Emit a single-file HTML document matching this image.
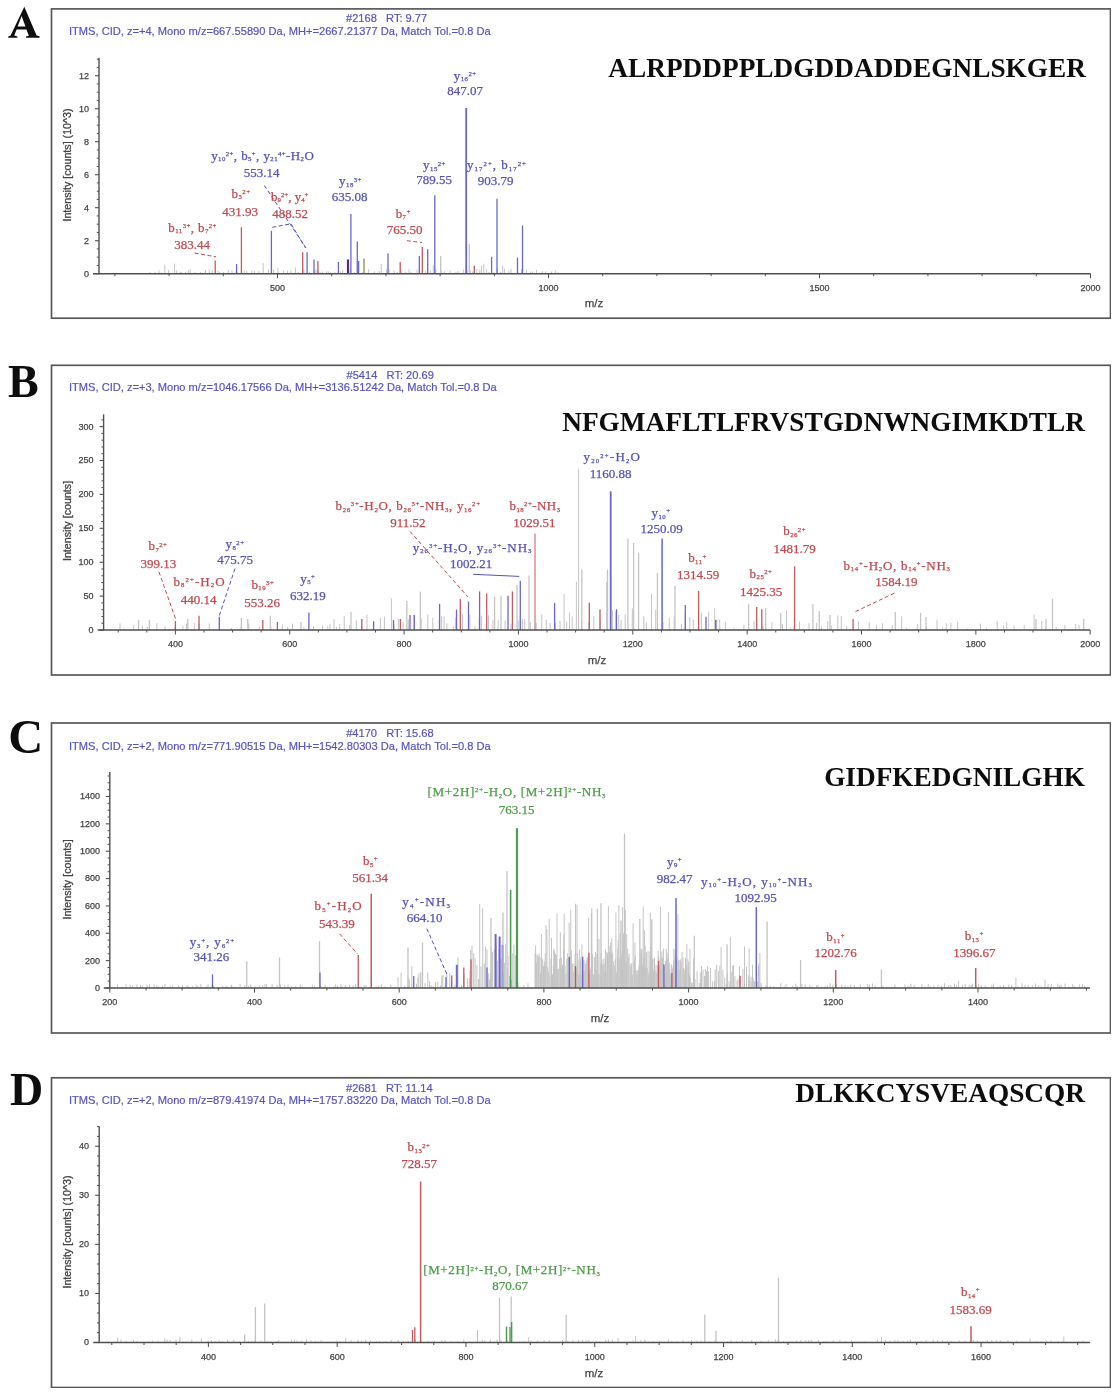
<!DOCTYPE html>
<html><head><meta charset="utf-8"><title>MS/MS spectra</title>
<style>html,body{margin:0;padding:0;background:#fff;} svg{display:block;}</style></head>
<body><svg width="1120" height="1400" viewBox="0 0 1120 1400">
<defs><filter id="soft" x="0" y="0" width="100%" height="100%"><feGaussianBlur stdDeviation="0.6"/></filter></defs>
<rect width="1120" height="1400" fill="#fff"/>
<g filter="url(#soft)">
<rect x="51.5" y="8.9" width="1059.0" height="309.3" fill="none" stroke="#585858" stroke-width="1.7"/>
<path fill="#111" fill-rule="evenodd" d="M24.3 6.7 L36.6 35.6 L39.6 36.3 L39.6 37.8 L26.0 37.8 L26.0 36.4 L28.8 35.7 L26.5 29.4 L16.6 29.4 L14.3 35.6 L17.4 36.4 L17.4 37.8 L8.2 37.8 L8.2 36.4 L10.6 35.6 Z M21.6 16.0 L25.47 26.6 L17.66 26.6 Z"/>
<text x="346" y="22.3" font-family="Liberation Sans" font-size="11.1" fill="#5753c0" stroke="#5753c0" stroke-width="0.2" xml:space="preserve">#2168   RT: 9.77</text>
<text x="69" y="35.4" font-family="Liberation Sans" font-size="11.1" fill="#5753c0" stroke="#5753c0" stroke-width="0.2">ITMS, CID, z=+4, Mono m/z=667.55890 Da, MH+=2667.21377 Da, Match Tol.=0.8 Da</text>
<text x="1086" y="76.7" font-family="Liberation Serif" font-weight="bold" font-size="27.3" fill="#111" text-anchor="end">ALRPDDPPLDGDDADDEGNLSKGER</text>
<line x1="150.00" y1="273.70" x2="150.00" y2="272.16" stroke="#c4c4c4" stroke-width="1"/>
<line x1="155.20" y1="273.70" x2="155.20" y2="271.68" stroke="#c4c4c4" stroke-width="1"/>
<line x1="159.00" y1="273.70" x2="159.00" y2="270.09" stroke="#c4c4c4" stroke-width="1"/>
<line x1="161.10" y1="273.70" x2="161.10" y2="272.59" stroke="#c4c4c4" stroke-width="1"/>
<line x1="164.80" y1="273.70" x2="164.80" y2="264.79" stroke="#c4c4c4" stroke-width="1"/>
<line x1="168.60" y1="273.70" x2="168.60" y2="269.81" stroke="#c4c4c4" stroke-width="1"/>
<line x1="174.60" y1="273.70" x2="174.60" y2="263.57" stroke="#c4c4c4" stroke-width="1"/>
<line x1="176.40" y1="273.70" x2="176.40" y2="270.53" stroke="#c4c4c4" stroke-width="1"/>
<line x1="179.90" y1="273.70" x2="179.90" y2="271.83" stroke="#c4c4c4" stroke-width="1"/>
<line x1="181.70" y1="273.70" x2="181.70" y2="271.81" stroke="#c4c4c4" stroke-width="1"/>
<line x1="185.70" y1="273.70" x2="185.70" y2="271.77" stroke="#c4c4c4" stroke-width="1"/>
<line x1="188.40" y1="273.70" x2="188.40" y2="270.86" stroke="#c4c4c4" stroke-width="1"/>
<line x1="190.20" y1="273.70" x2="190.20" y2="269.35" stroke="#c4c4c4" stroke-width="1"/>
<line x1="194.90" y1="273.70" x2="194.90" y2="271.96" stroke="#c4c4c4" stroke-width="1"/>
<line x1="200.50" y1="273.70" x2="200.50" y2="272.22" stroke="#c4c4c4" stroke-width="1"/>
<line x1="205.50" y1="273.70" x2="205.50" y2="269.86" stroke="#c4c4c4" stroke-width="1"/>
<line x1="209.20" y1="273.70" x2="209.20" y2="269.38" stroke="#c4c4c4" stroke-width="1"/>
<line x1="212.30" y1="273.70" x2="212.30" y2="270.35" stroke="#c4c4c4" stroke-width="1"/>
<line x1="217.90" y1="273.70" x2="217.90" y2="270.68" stroke="#c4c4c4" stroke-width="1"/>
<line x1="219.70" y1="273.70" x2="219.70" y2="271.73" stroke="#c4c4c4" stroke-width="1"/>
<line x1="223.40" y1="273.70" x2="223.40" y2="272.01" stroke="#c4c4c4" stroke-width="1"/>
<line x1="228.30" y1="273.70" x2="228.30" y2="270.00" stroke="#c4c4c4" stroke-width="1"/>
<line x1="232.00" y1="273.70" x2="232.00" y2="270.67" stroke="#c4c4c4" stroke-width="1"/>
<line x1="236.10" y1="273.70" x2="236.10" y2="271.13" stroke="#c4c4c4" stroke-width="1"/>
<line x1="238.00" y1="273.70" x2="238.00" y2="272.53" stroke="#c4c4c4" stroke-width="1"/>
<line x1="244.20" y1="273.70" x2="244.20" y2="270.33" stroke="#c4c4c4" stroke-width="1"/>
<line x1="246.70" y1="273.70" x2="246.70" y2="270.69" stroke="#c4c4c4" stroke-width="1"/>
<line x1="251.90" y1="273.70" x2="251.90" y2="270.54" stroke="#c4c4c4" stroke-width="1"/>
<line x1="254.70" y1="273.70" x2="254.70" y2="270.64" stroke="#c4c4c4" stroke-width="1"/>
<line x1="259.00" y1="273.70" x2="259.00" y2="270.86" stroke="#c4c4c4" stroke-width="1"/>
<line x1="263.20" y1="273.70" x2="263.20" y2="263.08" stroke="#c4c4c4" stroke-width="1"/>
<line x1="268.50" y1="273.70" x2="268.50" y2="269.42" stroke="#c4c4c4" stroke-width="1"/>
<line x1="273.60" y1="273.70" x2="273.60" y2="269.46" stroke="#c4c4c4" stroke-width="1"/>
<line x1="277.90" y1="273.70" x2="277.90" y2="267.75" stroke="#c4c4c4" stroke-width="1"/>
<line x1="283.60" y1="273.70" x2="283.60" y2="270.42" stroke="#c4c4c4" stroke-width="1"/>
<line x1="287.60" y1="273.70" x2="287.60" y2="270.76" stroke="#c4c4c4" stroke-width="1"/>
<line x1="290.90" y1="273.70" x2="290.90" y2="270.55" stroke="#c4c4c4" stroke-width="1"/>
<line x1="295.40" y1="273.70" x2="295.40" y2="267.47" stroke="#c4c4c4" stroke-width="1"/>
<line x1="298.20" y1="273.70" x2="298.20" y2="271.99" stroke="#c4c4c4" stroke-width="1"/>
<line x1="303.90" y1="273.70" x2="303.90" y2="269.51" stroke="#c4c4c4" stroke-width="1"/>
<line x1="309.30" y1="273.70" x2="309.30" y2="271.68" stroke="#c4c4c4" stroke-width="1"/>
<line x1="314.10" y1="273.70" x2="314.10" y2="270.77" stroke="#c4c4c4" stroke-width="1"/>
<line x1="315.90" y1="273.70" x2="315.90" y2="269.68" stroke="#c4c4c4" stroke-width="1"/>
<line x1="318.10" y1="273.70" x2="318.10" y2="270.20" stroke="#c4c4c4" stroke-width="1"/>
<line x1="320.10" y1="273.70" x2="320.10" y2="272.06" stroke="#c4c4c4" stroke-width="1"/>
<line x1="322.60" y1="273.70" x2="322.60" y2="271.61" stroke="#c4c4c4" stroke-width="1"/>
<line x1="326.40" y1="273.70" x2="326.40" y2="271.41" stroke="#c4c4c4" stroke-width="1"/>
<line x1="328.20" y1="273.70" x2="328.20" y2="271.15" stroke="#c4c4c4" stroke-width="1"/>
<line x1="330.80" y1="273.70" x2="330.80" y2="272.26" stroke="#c4c4c4" stroke-width="1"/>
<line x1="334.80" y1="273.70" x2="334.80" y2="271.86" stroke="#c4c4c4" stroke-width="1"/>
<line x1="340.30" y1="273.70" x2="340.30" y2="271.32" stroke="#c4c4c4" stroke-width="1"/>
<line x1="342.70" y1="273.70" x2="342.70" y2="269.82" stroke="#c4c4c4" stroke-width="1"/>
<line x1="347.60" y1="273.70" x2="347.60" y2="269.99" stroke="#c4c4c4" stroke-width="1"/>
<line x1="350.30" y1="273.70" x2="350.30" y2="268.80" stroke="#c4c4c4" stroke-width="1"/>
<line x1="354.40" y1="273.70" x2="354.40" y2="271.81" stroke="#c4c4c4" stroke-width="1"/>
<line x1="357.90" y1="273.70" x2="357.90" y2="270.40" stroke="#c4c4c4" stroke-width="1"/>
<line x1="362.50" y1="273.70" x2="362.50" y2="272.46" stroke="#c4c4c4" stroke-width="1"/>
<line x1="368.70" y1="273.70" x2="368.70" y2="269.20" stroke="#c4c4c4" stroke-width="1"/>
<line x1="374.30" y1="273.70" x2="374.30" y2="271.46" stroke="#c4c4c4" stroke-width="1"/>
<line x1="379.40" y1="273.70" x2="379.40" y2="271.04" stroke="#c4c4c4" stroke-width="1"/>
<line x1="381.20" y1="273.70" x2="381.20" y2="263.77" stroke="#c4c4c4" stroke-width="1"/>
<line x1="386.60" y1="273.70" x2="386.60" y2="268.85" stroke="#c4c4c4" stroke-width="1"/>
<line x1="389.10" y1="273.70" x2="389.10" y2="269.23" stroke="#c4c4c4" stroke-width="1"/>
<line x1="394.10" y1="273.70" x2="394.10" y2="270.66" stroke="#c4c4c4" stroke-width="1"/>
<line x1="397.40" y1="273.70" x2="397.40" y2="271.88" stroke="#c4c4c4" stroke-width="1"/>
<line x1="401.10" y1="273.70" x2="401.10" y2="269.79" stroke="#c4c4c4" stroke-width="1"/>
<line x1="405.80" y1="273.70" x2="405.80" y2="271.52" stroke="#c4c4c4" stroke-width="1"/>
<line x1="409.00" y1="273.70" x2="409.00" y2="269.21" stroke="#c4c4c4" stroke-width="1"/>
<line x1="410.80" y1="273.70" x2="410.80" y2="271.90" stroke="#c4c4c4" stroke-width="1"/>
<line x1="417.00" y1="273.70" x2="417.00" y2="269.57" stroke="#c4c4c4" stroke-width="1"/>
<line x1="419.70" y1="273.70" x2="419.70" y2="270.00" stroke="#c4c4c4" stroke-width="1"/>
<line x1="425.70" y1="273.70" x2="425.70" y2="271.32" stroke="#c4c4c4" stroke-width="1"/>
<line x1="430.60" y1="273.70" x2="430.60" y2="270.76" stroke="#c4c4c4" stroke-width="1"/>
<line x1="433.30" y1="273.70" x2="433.30" y2="265.12" stroke="#c4c4c4" stroke-width="1"/>
<line x1="435.80" y1="273.70" x2="435.80" y2="269.06" stroke="#c4c4c4" stroke-width="1"/>
<line x1="441.00" y1="273.70" x2="441.00" y2="270.30" stroke="#c4c4c4" stroke-width="1"/>
<line x1="444.40" y1="273.70" x2="444.40" y2="271.34" stroke="#c4c4c4" stroke-width="1"/>
<line x1="450.10" y1="273.70" x2="450.10" y2="270.28" stroke="#c4c4c4" stroke-width="1"/>
<line x1="455.90" y1="273.70" x2="455.90" y2="272.16" stroke="#c4c4c4" stroke-width="1"/>
<line x1="458.10" y1="273.70" x2="458.10" y2="271.16" stroke="#c4c4c4" stroke-width="1"/>
<line x1="463.70" y1="273.70" x2="463.70" y2="269.55" stroke="#c4c4c4" stroke-width="1"/>
<line x1="467.00" y1="273.70" x2="467.00" y2="270.24" stroke="#c4c4c4" stroke-width="1"/>
<line x1="470.40" y1="273.70" x2="470.40" y2="270.42" stroke="#c4c4c4" stroke-width="1"/>
<line x1="472.50" y1="273.70" x2="472.50" y2="271.63" stroke="#c4c4c4" stroke-width="1"/>
<line x1="476.80" y1="273.70" x2="476.80" y2="269.00" stroke="#c4c4c4" stroke-width="1"/>
<line x1="479.80" y1="273.70" x2="479.80" y2="269.55" stroke="#c4c4c4" stroke-width="1"/>
<line x1="481.60" y1="273.70" x2="481.60" y2="265.60" stroke="#c4c4c4" stroke-width="1"/>
<line x1="483.80" y1="273.70" x2="483.80" y2="263.71" stroke="#c4c4c4" stroke-width="1"/>
<line x1="486.60" y1="273.70" x2="486.60" y2="268.75" stroke="#c4c4c4" stroke-width="1"/>
<line x1="488.90" y1="273.70" x2="488.90" y2="272.03" stroke="#c4c4c4" stroke-width="1"/>
<line x1="494.00" y1="273.70" x2="494.00" y2="272.29" stroke="#c4c4c4" stroke-width="1"/>
<line x1="497.40" y1="273.70" x2="497.40" y2="268.82" stroke="#c4c4c4" stroke-width="1"/>
<line x1="500.50" y1="273.70" x2="500.50" y2="271.69" stroke="#c4c4c4" stroke-width="1"/>
<line x1="502.70" y1="273.70" x2="502.70" y2="265.76" stroke="#c4c4c4" stroke-width="1"/>
<line x1="504.40" y1="273.70" x2="504.40" y2="268.77" stroke="#c4c4c4" stroke-width="1"/>
<line x1="508.90" y1="273.70" x2="508.90" y2="270.90" stroke="#c4c4c4" stroke-width="1"/>
<line x1="510.90" y1="273.70" x2="510.90" y2="269.05" stroke="#c4c4c4" stroke-width="1"/>
<line x1="517.00" y1="273.70" x2="517.00" y2="272.25" stroke="#c4c4c4" stroke-width="1"/>
<line x1="521.60" y1="273.70" x2="521.60" y2="268.78" stroke="#c4c4c4" stroke-width="1"/>
<line x1="526.40" y1="273.70" x2="526.40" y2="270.05" stroke="#c4c4c4" stroke-width="1"/>
<line x1="530.60" y1="273.70" x2="530.60" y2="271.47" stroke="#c4c4c4" stroke-width="1"/>
<line x1="532.70" y1="273.70" x2="532.70" y2="271.58" stroke="#c4c4c4" stroke-width="1"/>
<line x1="536.50" y1="273.70" x2="536.50" y2="270.09" stroke="#c4c4c4" stroke-width="1"/>
<line x1="542.50" y1="273.70" x2="542.50" y2="271.14" stroke="#c4c4c4" stroke-width="1"/>
<line x1="545.70" y1="273.70" x2="545.70" y2="271.43" stroke="#c4c4c4" stroke-width="1"/>
<line x1="551.50" y1="273.70" x2="551.50" y2="271.49" stroke="#c4c4c4" stroke-width="1"/>
<line x1="555.70" y1="273.70" x2="555.70" y2="270.38" stroke="#c4c4c4" stroke-width="1"/>
<line x1="558.50" y1="273.70" x2="558.50" y2="272.62" stroke="#c4c4c4" stroke-width="1"/>
<line x1="215.20" y1="273.70" x2="215.20" y2="260.40" stroke="#c25a62" stroke-width="1.3"/>
<line x1="236.60" y1="273.70" x2="236.60" y2="264.00" stroke="#6a66cc" stroke-width="1.3"/>
<line x1="241.40" y1="273.70" x2="241.40" y2="227.30" stroke="#c25a62" stroke-width="1.3"/>
<line x1="271.40" y1="273.70" x2="271.40" y2="230.90" stroke="#6a66cc" stroke-width="1.3"/>
<line x1="302.70" y1="273.70" x2="302.70" y2="252.30" stroke="#c25a62" stroke-width="1.3"/>
<line x1="307.10" y1="273.70" x2="307.10" y2="252.30" stroke="#6a66cc" stroke-width="1.3"/>
<line x1="314.00" y1="273.70" x2="314.00" y2="259.50" stroke="#6a66cc" stroke-width="1.3"/>
<line x1="317.90" y1="273.70" x2="317.90" y2="261.00" stroke="#c25a62" stroke-width="1.3"/>
<line x1="338.40" y1="273.70" x2="338.40" y2="262.00" stroke="#6a66cc" stroke-width="1.3"/>
<line x1="348.00" y1="273.70" x2="348.00" y2="259.50" stroke="#5a2a7a" stroke-width="2.2"/>
<line x1="350.90" y1="273.70" x2="350.90" y2="213.90" stroke="#6a66cc" stroke-width="1.3"/>
<line x1="357.30" y1="273.70" x2="357.30" y2="241.60" stroke="#6a66cc" stroke-width="1.3"/>
<line x1="358.60" y1="273.70" x2="358.60" y2="261.00" stroke="#6a66cc" stroke-width="1.3"/>
<line x1="364.00" y1="273.70" x2="364.00" y2="258.60" stroke="#8a8a50" stroke-width="1.3"/>
<line x1="388.00" y1="273.70" x2="388.00" y2="253.20" stroke="#6a66cc" stroke-width="1.3"/>
<line x1="400.20" y1="273.70" x2="400.20" y2="262.00" stroke="#c25a62" stroke-width="1.3"/>
<line x1="419.30" y1="273.70" x2="419.30" y2="255.90" stroke="#6a66cc" stroke-width="1.3"/>
<line x1="422.30" y1="273.70" x2="422.30" y2="247.00" stroke="#c25a62" stroke-width="1.3"/>
<line x1="427.70" y1="273.70" x2="427.70" y2="249.30" stroke="#6a66cc" stroke-width="1.3"/>
<line x1="434.80" y1="273.70" x2="434.80" y2="195.20" stroke="#6a66cc" stroke-width="1.3"/>
<line x1="440.70" y1="273.70" x2="440.70" y2="256.00" stroke="#c4c4c4" stroke-width="1.3"/>
<line x1="466.20" y1="273.70" x2="466.20" y2="108.00" stroke="#6a66cc" stroke-width="1.8"/>
<line x1="469.30" y1="273.70" x2="469.30" y2="244.00" stroke="#c4c4c4" stroke-width="1.3"/>
<line x1="474.30" y1="273.70" x2="474.30" y2="265.70" stroke="#a06050" stroke-width="1.3"/>
<line x1="491.60" y1="273.70" x2="491.60" y2="256.80" stroke="#6a66cc" stroke-width="1.3"/>
<line x1="497.00" y1="273.70" x2="497.00" y2="198.75" stroke="#6a66cc" stroke-width="1.3"/>
<line x1="517.50" y1="273.70" x2="517.50" y2="257.70" stroke="#6a66cc" stroke-width="1.3"/>
<line x1="522.50" y1="273.70" x2="522.50" y2="225.50" stroke="#6a66cc" stroke-width="1.3"/>
<line x1="99.00" y1="57.70" x2="99.00" y2="274.20" stroke="#505050" stroke-width="1.4"/>
<line x1="95.00" y1="273.70" x2="99.00" y2="273.70" stroke="#505050" stroke-width="1.1"/>
<line x1="96.80" y1="265.45" x2="99.00" y2="265.45" stroke="#505050" stroke-width="1"/>
<line x1="96.80" y1="257.20" x2="99.00" y2="257.20" stroke="#505050" stroke-width="1"/>
<line x1="96.80" y1="248.95" x2="99.00" y2="248.95" stroke="#505050" stroke-width="1"/>
<line x1="95.00" y1="240.70" x2="99.00" y2="240.70" stroke="#505050" stroke-width="1.1"/>
<line x1="96.80" y1="232.45" x2="99.00" y2="232.45" stroke="#505050" stroke-width="1"/>
<line x1="96.80" y1="224.20" x2="99.00" y2="224.20" stroke="#505050" stroke-width="1"/>
<line x1="96.80" y1="215.95" x2="99.00" y2="215.95" stroke="#505050" stroke-width="1"/>
<line x1="95.00" y1="207.70" x2="99.00" y2="207.70" stroke="#505050" stroke-width="1.1"/>
<line x1="96.80" y1="199.45" x2="99.00" y2="199.45" stroke="#505050" stroke-width="1"/>
<line x1="96.80" y1="191.20" x2="99.00" y2="191.20" stroke="#505050" stroke-width="1"/>
<line x1="96.80" y1="182.95" x2="99.00" y2="182.95" stroke="#505050" stroke-width="1"/>
<line x1="95.00" y1="174.70" x2="99.00" y2="174.70" stroke="#505050" stroke-width="1.1"/>
<line x1="96.80" y1="166.45" x2="99.00" y2="166.45" stroke="#505050" stroke-width="1"/>
<line x1="96.80" y1="158.20" x2="99.00" y2="158.20" stroke="#505050" stroke-width="1"/>
<line x1="96.80" y1="149.95" x2="99.00" y2="149.95" stroke="#505050" stroke-width="1"/>
<line x1="95.00" y1="141.70" x2="99.00" y2="141.70" stroke="#505050" stroke-width="1.1"/>
<line x1="96.80" y1="133.45" x2="99.00" y2="133.45" stroke="#505050" stroke-width="1"/>
<line x1="96.80" y1="125.20" x2="99.00" y2="125.20" stroke="#505050" stroke-width="1"/>
<line x1="96.80" y1="116.95" x2="99.00" y2="116.95" stroke="#505050" stroke-width="1"/>
<line x1="95.00" y1="108.70" x2="99.00" y2="108.70" stroke="#505050" stroke-width="1.1"/>
<line x1="96.80" y1="100.45" x2="99.00" y2="100.45" stroke="#505050" stroke-width="1"/>
<line x1="96.80" y1="92.20" x2="99.00" y2="92.20" stroke="#505050" stroke-width="1"/>
<line x1="96.80" y1="83.95" x2="99.00" y2="83.95" stroke="#505050" stroke-width="1"/>
<line x1="95.00" y1="75.70" x2="99.00" y2="75.70" stroke="#505050" stroke-width="1.1"/>
<line x1="96.80" y1="67.45" x2="99.00" y2="67.45" stroke="#505050" stroke-width="1"/>
<line x1="96.80" y1="59.20" x2="99.00" y2="59.20" stroke="#505050" stroke-width="1"/>
<text x="89" y="276.60" font-family="Liberation Sans" font-size="9" fill="#444444" stroke="#444444" stroke-width="0.25" text-anchor="end">0</text>
<text x="89" y="243.60" font-family="Liberation Sans" font-size="9" fill="#444444" stroke="#444444" stroke-width="0.25" text-anchor="end">2</text>
<text x="89" y="210.60" font-family="Liberation Sans" font-size="9" fill="#444444" stroke="#444444" stroke-width="0.25" text-anchor="end">4</text>
<text x="89" y="177.60" font-family="Liberation Sans" font-size="9" fill="#444444" stroke="#444444" stroke-width="0.25" text-anchor="end">6</text>
<text x="89" y="144.60" font-family="Liberation Sans" font-size="9" fill="#444444" stroke="#444444" stroke-width="0.25" text-anchor="end">8</text>
<text x="89" y="111.60" font-family="Liberation Sans" font-size="9" fill="#444444" stroke="#444444" stroke-width="0.25" text-anchor="end">10</text>
<text x="89" y="78.60" font-family="Liberation Sans" font-size="9" fill="#444444" stroke="#444444" stroke-width="0.25" text-anchor="end">12</text>
<text transform="translate(71,165) rotate(-90)" font-family="Liberation Sans" font-size="10.7" fill="#444444" stroke="#444444" stroke-width="0.3" text-anchor="middle">Intensity [counts] (10^3)</text>
<line x1="93.00" y1="273.70" x2="1090.50" y2="273.70" stroke="#505050" stroke-width="1.6"/>
<line x1="114.90" y1="273.70" x2="114.90" y2="276.20" stroke="#505050" stroke-width="1"/>
<line x1="169.10" y1="273.70" x2="169.10" y2="276.20" stroke="#505050" stroke-width="1"/>
<line x1="223.30" y1="273.70" x2="223.30" y2="276.20" stroke="#505050" stroke-width="1"/>
<line x1="277.50" y1="273.70" x2="277.50" y2="278.20" stroke="#505050" stroke-width="1"/>
<line x1="331.70" y1="273.70" x2="331.70" y2="276.20" stroke="#505050" stroke-width="1"/>
<line x1="385.90" y1="273.70" x2="385.90" y2="276.20" stroke="#505050" stroke-width="1"/>
<line x1="440.10" y1="273.70" x2="440.10" y2="276.20" stroke="#505050" stroke-width="1"/>
<line x1="494.30" y1="273.70" x2="494.30" y2="276.20" stroke="#505050" stroke-width="1"/>
<line x1="548.50" y1="273.70" x2="548.50" y2="278.20" stroke="#505050" stroke-width="1"/>
<line x1="602.70" y1="273.70" x2="602.70" y2="276.20" stroke="#505050" stroke-width="1"/>
<line x1="656.90" y1="273.70" x2="656.90" y2="276.20" stroke="#505050" stroke-width="1"/>
<line x1="711.10" y1="273.70" x2="711.10" y2="276.20" stroke="#505050" stroke-width="1"/>
<line x1="765.30" y1="273.70" x2="765.30" y2="276.20" stroke="#505050" stroke-width="1"/>
<line x1="819.50" y1="273.70" x2="819.50" y2="278.20" stroke="#505050" stroke-width="1"/>
<line x1="873.70" y1="273.70" x2="873.70" y2="276.20" stroke="#505050" stroke-width="1"/>
<line x1="927.90" y1="273.70" x2="927.90" y2="276.20" stroke="#505050" stroke-width="1"/>
<line x1="982.10" y1="273.70" x2="982.10" y2="276.20" stroke="#505050" stroke-width="1"/>
<line x1="1036.30" y1="273.70" x2="1036.30" y2="276.20" stroke="#505050" stroke-width="1"/>
<line x1="1090.50" y1="273.70" x2="1090.50" y2="278.20" stroke="#505050" stroke-width="1"/>
<text x="277.50" y="290.70" font-family="Liberation Sans" font-size="9" fill="#444444" stroke="#444444" stroke-width="0.25" text-anchor="middle">500</text>
<text x="548.50" y="290.70" font-family="Liberation Sans" font-size="9" fill="#444444" stroke="#444444" stroke-width="0.25" text-anchor="middle">1000</text>
<text x="819.50" y="290.70" font-family="Liberation Sans" font-size="9" fill="#444444" stroke="#444444" stroke-width="0.25" text-anchor="middle">1500</text>
<text x="1090.50" y="290.70" font-family="Liberation Sans" font-size="9" fill="#444444" stroke="#444444" stroke-width="0.25" text-anchor="middle">2000</text>
<text x="594" y="307.1" font-family="Liberation Sans" font-size="11.5" fill="#444444" stroke="#444444" stroke-width="0.25" text-anchor="middle">m/z</text>
<path d="M194.6,253.0 L216.0,256.8" fill="none" stroke="#c04a50" stroke-width="1" stroke-dasharray="4,2.5"/>
<path d="M272.3,227.3 L291.0,223.8 L305.4,247.9" fill="none" stroke="#5552b8" stroke-width="1" stroke-dasharray="4,2.5"/>
<path d="M264.3,185.4 L306.0,247.9" fill="none" stroke="#5552b8" stroke-width="1" stroke-dasharray="4,2.5"/>
<path d="M406.8,240.7 L422.0,242.5" fill="none" stroke="#c04a50" stroke-width="1" stroke-dasharray="4,2.5"/>
<text x="262.5" y="159.5" fill="#5552b8" stroke="#5552b8" stroke-width="0.25" font-family="Liberation Serif" font-size="13" text-anchor="middle" textLength="102.6" lengthAdjust="spacing"><tspan>y</tspan><tspan dy="1.56" font-size="6.8">10</tspan><tspan dy="-5.07" font-size="6.8">2+</tspan><tspan dy="3.51">, b</tspan><tspan dy="1.56" font-size="6.8">5</tspan><tspan dy="-5.07" font-size="6.8">+</tspan><tspan dy="3.51">, y</tspan><tspan dy="1.56" font-size="6.8">21</tspan><tspan dy="-5.07" font-size="6.8">4+</tspan><tspan dy="3.51">-H</tspan><tspan dy="1.56" font-size="6.8">2</tspan><tspan dy="-1.56">O</tspan></text>
<text x="261.6" y="177.3" fill="#5552b8" stroke="#5552b8" stroke-width="0.25" font-family="Liberation Serif" font-size="13" text-anchor="middle"><tspan>553.14</tspan></text>
<text x="241" y="197.9" fill="#c04a50" stroke="#c04a50" stroke-width="0.25" font-family="Liberation Serif" font-size="13" text-anchor="middle" letter-spacing="0.45"><tspan>b</tspan><tspan dy="1.56" font-size="6.8">3</tspan><tspan dy="-5.07" font-size="6.8">2+</tspan></text>
<text x="240" y="215.7" fill="#c04a50" stroke="#c04a50" stroke-width="0.25" font-family="Liberation Serif" font-size="13" text-anchor="middle"><tspan>431.93</tspan></text>
<text x="289.7" y="200.5" fill="#c04a50" stroke="#c04a50" stroke-width="0.25" font-family="Liberation Serif" font-size="13" text-anchor="middle" textLength="37.4" lengthAdjust="spacing"><tspan>b</tspan><tspan dy="1.56" font-size="6.8">9</tspan><tspan dy="-5.07" font-size="6.8">2+</tspan><tspan dy="3.51">, y</tspan><tspan dy="1.56" font-size="6.8">4</tspan><tspan dy="-5.07" font-size="6.8">+</tspan></text>
<text x="290" y="218.4" fill="#c04a50" stroke="#c04a50" stroke-width="0.25" font-family="Liberation Serif" font-size="13" text-anchor="middle"><tspan>488.52</tspan></text>
<text x="192.4" y="231.8" fill="#c04a50" stroke="#c04a50" stroke-width="0.25" font-family="Liberation Serif" font-size="13" text-anchor="middle" textLength="48.1" lengthAdjust="spacing"><tspan>b</tspan><tspan dy="1.56" font-size="6.8">11</tspan><tspan dy="-5.07" font-size="6.8">3+</tspan><tspan dy="3.51">, b</tspan><tspan dy="1.56" font-size="6.8">7</tspan><tspan dy="-5.07" font-size="6.8">2+</tspan></text>
<text x="192" y="248.75" fill="#c04a50" stroke="#c04a50" stroke-width="0.25" font-family="Liberation Serif" font-size="13" text-anchor="middle"><tspan>383.44</tspan></text>
<text x="350.5" y="185.4" fill="#5552b8" stroke="#5552b8" stroke-width="0.25" font-family="Liberation Serif" font-size="13" text-anchor="middle" letter-spacing="0.45"><tspan>y</tspan><tspan dy="1.56" font-size="6.8">18</tspan><tspan dy="-5.07" font-size="6.8">3+</tspan></text>
<text x="349.6" y="201" fill="#5552b8" stroke="#5552b8" stroke-width="0.25" font-family="Liberation Serif" font-size="13" text-anchor="middle"><tspan>635.08</tspan></text>
<text x="403.2" y="217.5" fill="#c04a50" stroke="#c04a50" stroke-width="0.25" font-family="Liberation Serif" font-size="13" text-anchor="middle" letter-spacing="0.45"><tspan>b</tspan><tspan dy="1.56" font-size="6.8">7</tspan><tspan dy="-5.07" font-size="6.8">+</tspan></text>
<text x="404.6" y="234.1" fill="#c04a50" stroke="#c04a50" stroke-width="0.25" font-family="Liberation Serif" font-size="13" text-anchor="middle"><tspan>765.50</tspan></text>
<text x="434.5" y="169.3" fill="#5552b8" stroke="#5552b8" stroke-width="0.25" font-family="Liberation Serif" font-size="13" text-anchor="middle" letter-spacing="0.45"><tspan>y</tspan><tspan dy="1.56" font-size="6.8">15</tspan><tspan dy="-5.07" font-size="6.8">2+</tspan></text>
<text x="434" y="183.6" fill="#5552b8" stroke="#5552b8" stroke-width="0.25" font-family="Liberation Serif" font-size="13" text-anchor="middle"><tspan>789.55</tspan></text>
<text x="465.2" y="79.5" fill="#5552b8" stroke="#5552b8" stroke-width="0.25" font-family="Liberation Serif" font-size="13" text-anchor="middle" letter-spacing="0.45"><tspan>y</tspan><tspan dy="1.56" font-size="6.8">16</tspan><tspan dy="-5.07" font-size="6.8">2+</tspan></text>
<text x="465" y="94.6" fill="#5552b8" stroke="#5552b8" stroke-width="0.25" font-family="Liberation Serif" font-size="13" text-anchor="middle"><tspan>847.07</tspan></text>
<text x="496.5" y="169.3" fill="#5552b8" stroke="#5552b8" stroke-width="0.25" font-family="Liberation Serif" font-size="13" text-anchor="middle" textLength="58.8" lengthAdjust="spacing"><tspan>y</tspan><tspan dy="1.56" font-size="6.8">17</tspan><tspan dy="-5.07" font-size="6.8">2+</tspan><tspan dy="3.51">, b</tspan><tspan dy="1.56" font-size="6.8">17</tspan><tspan dy="-5.07" font-size="6.8">2+</tspan></text>
<text x="495.7" y="185.4" fill="#5552b8" stroke="#5552b8" stroke-width="0.25" font-family="Liberation Serif" font-size="13" text-anchor="middle"><tspan>903.79</tspan></text>
<rect x="51.5" y="365.3" width="1059.0" height="309.7" fill="none" stroke="#585858" stroke-width="1.7"/>
<text x="8" y="397" font-family="Liberation Serif" font-weight="bold" font-size="46" fill="#111">B</text>
<text x="346.5" y="378.8" font-family="Liberation Sans" font-size="11.1" fill="#5753c0" stroke="#5753c0" stroke-width="0.2" xml:space="preserve">#5414   RT: 20.69</text>
<text x="69" y="391.4" font-family="Liberation Sans" font-size="11.1" fill="#5753c0" stroke="#5753c0" stroke-width="0.2">ITMS, CID, z=+3, Mono m/z=1046.17566 Da, MH+=3136.51242 Da, Match Tol.=0.8 Da</text>
<text x="1085" y="431.3" font-family="Liberation Serif" font-weight="bold" font-size="27.3" fill="#111" text-anchor="end">NFGMAFLTLFRVSTGDNWNGIMKDTLR</text>
<line x1="120.00" y1="630.00" x2="120.00" y2="623.26" stroke="#c4c4c4" stroke-width="1"/>
<line x1="123.80" y1="630.00" x2="123.80" y2="628.49" stroke="#c4c4c4" stroke-width="1"/>
<line x1="133.70" y1="630.00" x2="133.70" y2="624.98" stroke="#c4c4c4" stroke-width="1"/>
<line x1="142.40" y1="630.00" x2="142.40" y2="625.36" stroke="#c4c4c4" stroke-width="1"/>
<line x1="147.20" y1="630.00" x2="147.20" y2="626.42" stroke="#c4c4c4" stroke-width="1"/>
<line x1="156.90" y1="630.00" x2="156.90" y2="623.03" stroke="#c4c4c4" stroke-width="1"/>
<line x1="165.10" y1="630.00" x2="165.10" y2="626.33" stroke="#c4c4c4" stroke-width="1"/>
<line x1="168.80" y1="630.00" x2="168.80" y2="628.84" stroke="#c4c4c4" stroke-width="1"/>
<line x1="174.90" y1="630.00" x2="174.90" y2="626.72" stroke="#c4c4c4" stroke-width="1"/>
<line x1="182.90" y1="630.00" x2="182.90" y2="625.64" stroke="#c4c4c4" stroke-width="1"/>
<line x1="186.50" y1="630.00" x2="186.50" y2="623.51" stroke="#c4c4c4" stroke-width="1"/>
<line x1="194.30" y1="630.00" x2="194.30" y2="623.01" stroke="#c4c4c4" stroke-width="1"/>
<line x1="199.30" y1="630.00" x2="199.30" y2="623.64" stroke="#c4c4c4" stroke-width="1"/>
<line x1="209.20" y1="630.00" x2="209.20" y2="623.56" stroke="#c4c4c4" stroke-width="1"/>
<line x1="219.50" y1="630.00" x2="219.50" y2="626.88" stroke="#c4c4c4" stroke-width="1"/>
<line x1="231.40" y1="630.00" x2="231.40" y2="628.03" stroke="#c4c4c4" stroke-width="1"/>
<line x1="241.10" y1="630.00" x2="241.10" y2="626.23" stroke="#c4c4c4" stroke-width="1"/>
<line x1="248.80" y1="630.00" x2="248.80" y2="623.45" stroke="#c4c4c4" stroke-width="1"/>
<line x1="259.50" y1="630.00" x2="259.50" y2="626.88" stroke="#c4c4c4" stroke-width="1"/>
<line x1="270.80" y1="630.00" x2="270.80" y2="626.23" stroke="#c4c4c4" stroke-width="1"/>
<line x1="282.30" y1="630.00" x2="282.30" y2="624.66" stroke="#c4c4c4" stroke-width="1"/>
<line x1="287.60" y1="630.00" x2="287.60" y2="627.05" stroke="#c4c4c4" stroke-width="1"/>
<line x1="292.50" y1="630.00" x2="292.50" y2="623.55" stroke="#c4c4c4" stroke-width="1"/>
<line x1="303.90" y1="630.00" x2="303.90" y2="627.14" stroke="#c4c4c4" stroke-width="1"/>
<line x1="313.50" y1="630.00" x2="313.50" y2="625.97" stroke="#c4c4c4" stroke-width="1"/>
<line x1="322.60" y1="630.00" x2="322.60" y2="625.47" stroke="#c4c4c4" stroke-width="1"/>
<line x1="327.80" y1="630.00" x2="327.80" y2="625.93" stroke="#c4c4c4" stroke-width="1"/>
<line x1="330.00" y1="630.00" x2="330.00" y2="623.91" stroke="#c4c4c4" stroke-width="1"/>
<line x1="334.00" y1="630.00" x2="334.00" y2="619.15" stroke="#c4c4c4" stroke-width="1"/>
<line x1="336.30" y1="630.00" x2="336.30" y2="626.83" stroke="#c4c4c4" stroke-width="1"/>
<line x1="339.70" y1="630.00" x2="339.70" y2="623.95" stroke="#c4c4c4" stroke-width="1"/>
<line x1="344.20" y1="630.00" x2="344.20" y2="616.13" stroke="#c4c4c4" stroke-width="1"/>
<line x1="349.60" y1="630.00" x2="349.60" y2="625.04" stroke="#c4c4c4" stroke-width="1"/>
<line x1="356.30" y1="630.00" x2="356.30" y2="620.20" stroke="#c4c4c4" stroke-width="1"/>
<line x1="361.80" y1="630.00" x2="361.80" y2="626.17" stroke="#c4c4c4" stroke-width="1"/>
<line x1="367.00" y1="630.00" x2="367.00" y2="614.78" stroke="#c4c4c4" stroke-width="1"/>
<line x1="373.60" y1="630.00" x2="373.60" y2="620.85" stroke="#c4c4c4" stroke-width="1"/>
<line x1="380.30" y1="630.00" x2="380.30" y2="617.72" stroke="#c4c4c4" stroke-width="1"/>
<line x1="384.40" y1="630.00" x2="384.40" y2="616.59" stroke="#c4c4c4" stroke-width="1"/>
<line x1="391.40" y1="630.00" x2="391.40" y2="598.26" stroke="#c4c4c4" stroke-width="1"/>
<line x1="394.10" y1="630.00" x2="394.10" y2="624.18" stroke="#c4c4c4" stroke-width="1"/>
<line x1="398.40" y1="630.00" x2="398.40" y2="618.85" stroke="#c4c4c4" stroke-width="1"/>
<line x1="403.10" y1="630.00" x2="403.10" y2="621.98" stroke="#c4c4c4" stroke-width="1"/>
<line x1="408.30" y1="630.00" x2="408.30" y2="619.40" stroke="#c4c4c4" stroke-width="1"/>
<line x1="413.90" y1="630.00" x2="413.90" y2="614.92" stroke="#c4c4c4" stroke-width="1"/>
<line x1="421.20" y1="630.00" x2="421.20" y2="618.27" stroke="#c4c4c4" stroke-width="1"/>
<line x1="427.80" y1="630.00" x2="427.80" y2="614.46" stroke="#c4c4c4" stroke-width="1"/>
<line x1="432.80" y1="630.00" x2="432.80" y2="617.72" stroke="#c4c4c4" stroke-width="1"/>
<line x1="439.20" y1="630.00" x2="439.20" y2="619.54" stroke="#c4c4c4" stroke-width="1"/>
<line x1="441.60" y1="630.00" x2="441.60" y2="615.90" stroke="#c4c4c4" stroke-width="1"/>
<line x1="444.10" y1="630.00" x2="444.10" y2="616.59" stroke="#c4c4c4" stroke-width="1"/>
<line x1="446.90" y1="630.00" x2="446.90" y2="623.18" stroke="#c4c4c4" stroke-width="1"/>
<line x1="453.50" y1="630.00" x2="453.50" y2="626.43" stroke="#c4c4c4" stroke-width="1"/>
<line x1="455.80" y1="630.00" x2="455.80" y2="617.66" stroke="#c4c4c4" stroke-width="1"/>
<line x1="462.50" y1="630.00" x2="462.50" y2="614.25" stroke="#c4c4c4" stroke-width="1"/>
<line x1="469.80" y1="630.00" x2="469.80" y2="614.54" stroke="#c4c4c4" stroke-width="1"/>
<line x1="475.00" y1="630.00" x2="475.00" y2="626.59" stroke="#c4c4c4" stroke-width="1"/>
<line x1="479.20" y1="630.00" x2="479.20" y2="619.06" stroke="#c4c4c4" stroke-width="1"/>
<line x1="481.40" y1="630.00" x2="481.40" y2="615.72" stroke="#c4c4c4" stroke-width="1"/>
<line x1="488.50" y1="630.00" x2="488.50" y2="615.34" stroke="#c4c4c4" stroke-width="1"/>
<line x1="492.90" y1="630.00" x2="492.90" y2="620.24" stroke="#c4c4c4" stroke-width="1"/>
<line x1="498.10" y1="630.00" x2="498.10" y2="619.73" stroke="#c4c4c4" stroke-width="1"/>
<line x1="505.10" y1="630.00" x2="505.10" y2="620.41" stroke="#c4c4c4" stroke-width="1"/>
<line x1="511.00" y1="630.00" x2="511.00" y2="623.91" stroke="#c4c4c4" stroke-width="1"/>
<line x1="518.20" y1="630.00" x2="518.20" y2="620.23" stroke="#c4c4c4" stroke-width="1"/>
<line x1="520.30" y1="630.00" x2="520.30" y2="621.60" stroke="#c4c4c4" stroke-width="1"/>
<line x1="522.40" y1="630.00" x2="522.40" y2="618.99" stroke="#c4c4c4" stroke-width="1"/>
<line x1="524.70" y1="630.00" x2="524.70" y2="618.84" stroke="#c4c4c4" stroke-width="1"/>
<line x1="530.30" y1="630.00" x2="530.30" y2="622.42" stroke="#c4c4c4" stroke-width="1"/>
<line x1="536.20" y1="630.00" x2="536.20" y2="622.77" stroke="#c4c4c4" stroke-width="1"/>
<line x1="541.80" y1="630.00" x2="541.80" y2="614.48" stroke="#c4c4c4" stroke-width="1"/>
<line x1="546.30" y1="630.00" x2="546.30" y2="619.30" stroke="#c4c4c4" stroke-width="1"/>
<line x1="550.20" y1="630.00" x2="550.20" y2="622.94" stroke="#c4c4c4" stroke-width="1"/>
<line x1="555.40" y1="630.00" x2="555.40" y2="623.09" stroke="#c4c4c4" stroke-width="1"/>
<line x1="560.00" y1="630.00" x2="560.00" y2="620.71" stroke="#c4c4c4" stroke-width="1"/>
<line x1="564.10" y1="630.00" x2="564.10" y2="594.12" stroke="#c4c4c4" stroke-width="1"/>
<line x1="566.70" y1="630.00" x2="566.70" y2="621.83" stroke="#c4c4c4" stroke-width="1"/>
<line x1="569.50" y1="630.00" x2="569.50" y2="612.67" stroke="#c4c4c4" stroke-width="1"/>
<line x1="572.20" y1="630.00" x2="572.20" y2="616.36" stroke="#c4c4c4" stroke-width="1"/>
<line x1="576.40" y1="630.00" x2="576.40" y2="581.74" stroke="#c4c4c4" stroke-width="1"/>
<line x1="578.50" y1="630.00" x2="578.50" y2="609.08" stroke="#c4c4c4" stroke-width="1"/>
<line x1="581.60" y1="630.00" x2="581.60" y2="620.05" stroke="#c4c4c4" stroke-width="1"/>
<line x1="588.70" y1="630.00" x2="588.70" y2="622.21" stroke="#c4c4c4" stroke-width="1"/>
<line x1="593.80" y1="630.00" x2="593.80" y2="616.15" stroke="#c4c4c4" stroke-width="1"/>
<line x1="600.30" y1="630.00" x2="600.30" y2="619.60" stroke="#c4c4c4" stroke-width="1"/>
<line x1="606.70" y1="630.00" x2="606.70" y2="582.04" stroke="#c4c4c4" stroke-width="1"/>
<line x1="612.60" y1="630.00" x2="612.60" y2="610.37" stroke="#c4c4c4" stroke-width="1"/>
<line x1="615.80" y1="630.00" x2="615.80" y2="611.66" stroke="#c4c4c4" stroke-width="1"/>
<line x1="618.80" y1="630.00" x2="618.80" y2="614.46" stroke="#c4c4c4" stroke-width="1"/>
<line x1="621.10" y1="630.00" x2="621.10" y2="619.95" stroke="#c4c4c4" stroke-width="1"/>
<line x1="625.20" y1="630.00" x2="625.20" y2="614.36" stroke="#c4c4c4" stroke-width="1"/>
<line x1="632.30" y1="630.00" x2="632.30" y2="608.42" stroke="#c4c4c4" stroke-width="1"/>
<line x1="638.50" y1="630.00" x2="638.50" y2="620.49" stroke="#c4c4c4" stroke-width="1"/>
<line x1="643.80" y1="630.00" x2="643.80" y2="616.18" stroke="#c4c4c4" stroke-width="1"/>
<line x1="646.30" y1="630.00" x2="646.30" y2="622.53" stroke="#c4c4c4" stroke-width="1"/>
<line x1="651.50" y1="630.00" x2="651.50" y2="593.66" stroke="#c4c4c4" stroke-width="1"/>
<line x1="655.70" y1="630.00" x2="655.70" y2="609.62" stroke="#c4c4c4" stroke-width="1"/>
<line x1="663.00" y1="630.00" x2="663.00" y2="622.46" stroke="#c4c4c4" stroke-width="1"/>
<line x1="669.20" y1="630.00" x2="669.20" y2="618.00" stroke="#c4c4c4" stroke-width="1"/>
<line x1="674.20" y1="630.00" x2="674.20" y2="616.53" stroke="#c4c4c4" stroke-width="1"/>
<line x1="681.50" y1="630.00" x2="681.50" y2="623.85" stroke="#c4c4c4" stroke-width="1"/>
<line x1="685.30" y1="630.00" x2="685.30" y2="613.16" stroke="#c4c4c4" stroke-width="1"/>
<line x1="689.80" y1="630.00" x2="689.80" y2="617.03" stroke="#c4c4c4" stroke-width="1"/>
<line x1="693.30" y1="630.00" x2="693.30" y2="619.30" stroke="#c4c4c4" stroke-width="1"/>
<line x1="698.70" y1="630.00" x2="698.70" y2="619.69" stroke="#c4c4c4" stroke-width="1"/>
<line x1="701.40" y1="630.00" x2="701.40" y2="612.95" stroke="#c4c4c4" stroke-width="1"/>
<line x1="708.60" y1="630.00" x2="708.60" y2="612.18" stroke="#c4c4c4" stroke-width="1"/>
<line x1="714.70" y1="630.00" x2="714.70" y2="608.27" stroke="#c4c4c4" stroke-width="1"/>
<line x1="716.70" y1="630.00" x2="716.70" y2="619.25" stroke="#c4c4c4" stroke-width="1"/>
<line x1="719.70" y1="630.00" x2="719.70" y2="619.41" stroke="#c4c4c4" stroke-width="1"/>
<line x1="720.00" y1="630.00" x2="720.00" y2="628.38" stroke="#c4c4c4" stroke-width="1"/>
<line x1="725.40" y1="630.00" x2="725.40" y2="621.80" stroke="#c4c4c4" stroke-width="1"/>
<line x1="734.20" y1="630.00" x2="734.20" y2="628.20" stroke="#c4c4c4" stroke-width="1"/>
<line x1="743.90" y1="630.00" x2="743.90" y2="624.82" stroke="#c4c4c4" stroke-width="1"/>
<line x1="754.00" y1="630.00" x2="754.00" y2="621.27" stroke="#c4c4c4" stroke-width="1"/>
<line x1="763.00" y1="630.00" x2="763.00" y2="625.58" stroke="#c4c4c4" stroke-width="1"/>
<line x1="771.90" y1="630.00" x2="771.90" y2="622.26" stroke="#c4c4c4" stroke-width="1"/>
<line x1="782.50" y1="630.00" x2="782.50" y2="624.25" stroke="#c4c4c4" stroke-width="1"/>
<line x1="786.50" y1="630.00" x2="786.50" y2="610.59" stroke="#c4c4c4" stroke-width="1"/>
<line x1="790.70" y1="630.00" x2="790.70" y2="627.45" stroke="#c4c4c4" stroke-width="1"/>
<line x1="794.00" y1="630.00" x2="794.00" y2="626.18" stroke="#c4c4c4" stroke-width="1"/>
<line x1="799.50" y1="630.00" x2="799.50" y2="621.57" stroke="#c4c4c4" stroke-width="1"/>
<line x1="809.00" y1="630.00" x2="809.00" y2="623.09" stroke="#c4c4c4" stroke-width="1"/>
<line x1="816.60" y1="630.00" x2="816.60" y2="622.84" stroke="#c4c4c4" stroke-width="1"/>
<line x1="821.50" y1="630.00" x2="821.50" y2="626.36" stroke="#c4c4c4" stroke-width="1"/>
<line x1="827.70" y1="630.00" x2="827.70" y2="621.10" stroke="#c4c4c4" stroke-width="1"/>
<line x1="831.20" y1="630.00" x2="831.20" y2="625.19" stroke="#c4c4c4" stroke-width="1"/>
<line x1="837.80" y1="630.00" x2="837.80" y2="615.44" stroke="#c4c4c4" stroke-width="1"/>
<line x1="841.30" y1="630.00" x2="841.30" y2="616.15" stroke="#c4c4c4" stroke-width="1"/>
<line x1="846.70" y1="630.00" x2="846.70" y2="625.92" stroke="#c4c4c4" stroke-width="1"/>
<line x1="850.00" y1="630.00" x2="850.00" y2="628.95" stroke="#c4c4c4" stroke-width="1"/>
<line x1="858.50" y1="630.00" x2="858.50" y2="621.39" stroke="#c4c4c4" stroke-width="1"/>
<line x1="869.20" y1="630.00" x2="869.20" y2="622.10" stroke="#c4c4c4" stroke-width="1"/>
<line x1="876.40" y1="630.00" x2="876.40" y2="624.93" stroke="#c4c4c4" stroke-width="1"/>
<line x1="882.40" y1="630.00" x2="882.40" y2="623.22" stroke="#c4c4c4" stroke-width="1"/>
<line x1="892.20" y1="630.00" x2="892.20" y2="624.92" stroke="#c4c4c4" stroke-width="1"/>
<line x1="901.70" y1="630.00" x2="901.70" y2="616.43" stroke="#c4c4c4" stroke-width="1"/>
<line x1="906.70" y1="630.00" x2="906.70" y2="627.78" stroke="#c4c4c4" stroke-width="1"/>
<line x1="917.30" y1="630.00" x2="917.30" y2="624.26" stroke="#c4c4c4" stroke-width="1"/>
<line x1="926.60" y1="630.00" x2="926.60" y2="626.47" stroke="#c4c4c4" stroke-width="1"/>
<line x1="937.00" y1="630.00" x2="937.00" y2="619.77" stroke="#c4c4c4" stroke-width="1"/>
<line x1="942.50" y1="630.00" x2="942.50" y2="627.67" stroke="#c4c4c4" stroke-width="1"/>
<line x1="946.20" y1="630.00" x2="946.20" y2="623.29" stroke="#c4c4c4" stroke-width="1"/>
<line x1="950.90" y1="630.00" x2="950.90" y2="622.76" stroke="#c4c4c4" stroke-width="1"/>
<line x1="957.70" y1="630.00" x2="957.70" y2="621.74" stroke="#c4c4c4" stroke-width="1"/>
<line x1="967.30" y1="630.00" x2="967.30" y2="628.72" stroke="#c4c4c4" stroke-width="1"/>
<line x1="971.70" y1="630.00" x2="971.70" y2="628.97" stroke="#c4c4c4" stroke-width="1"/>
<line x1="980.50" y1="630.00" x2="980.50" y2="623.60" stroke="#c4c4c4" stroke-width="1"/>
<line x1="986.50" y1="630.00" x2="986.50" y2="628.08" stroke="#c4c4c4" stroke-width="1"/>
<line x1="997.20" y1="630.00" x2="997.20" y2="621.15" stroke="#c4c4c4" stroke-width="1"/>
<line x1="1003.70" y1="630.00" x2="1003.70" y2="625.40" stroke="#c4c4c4" stroke-width="1"/>
<line x1="1006.70" y1="630.00" x2="1006.70" y2="622.37" stroke="#c4c4c4" stroke-width="1"/>
<line x1="1014.10" y1="630.00" x2="1014.10" y2="625.53" stroke="#c4c4c4" stroke-width="1"/>
<line x1="1024.20" y1="630.00" x2="1024.20" y2="624.98" stroke="#c4c4c4" stroke-width="1"/>
<line x1="1034.10" y1="630.00" x2="1034.10" y2="614.56" stroke="#c4c4c4" stroke-width="1"/>
<line x1="1041.80" y1="630.00" x2="1041.80" y2="621.06" stroke="#c4c4c4" stroke-width="1"/>
<line x1="1045.40" y1="630.00" x2="1045.40" y2="627.52" stroke="#c4c4c4" stroke-width="1"/>
<line x1="1056.20" y1="630.00" x2="1056.20" y2="627.02" stroke="#c4c4c4" stroke-width="1"/>
<line x1="1064.90" y1="630.00" x2="1064.90" y2="624.94" stroke="#c4c4c4" stroke-width="1"/>
<line x1="1075.80" y1="630.00" x2="1075.80" y2="624.03" stroke="#c4c4c4" stroke-width="1"/>
<line x1="1079.00" y1="630.00" x2="1079.00" y2="624.92" stroke="#c4c4c4" stroke-width="1"/>
<line x1="1083.40" y1="630.00" x2="1083.40" y2="628.30" stroke="#c4c4c4" stroke-width="1"/>
<line x1="175.40" y1="630.00" x2="175.40" y2="621.00" stroke="#c25a62" stroke-width="1.3"/>
<line x1="199.00" y1="630.00" x2="199.00" y2="615.70" stroke="#c25a62" stroke-width="1.3"/>
<line x1="187.80" y1="630.00" x2="187.80" y2="619.00" stroke="#c4c4c4" stroke-width="1.3"/>
<line x1="219.30" y1="630.00" x2="219.30" y2="616.80" stroke="#6a66cc" stroke-width="1.3"/>
<line x1="262.80" y1="630.00" x2="262.80" y2="620.00" stroke="#c25a62" stroke-width="1.3"/>
<line x1="277.40" y1="630.00" x2="277.40" y2="622.00" stroke="#c25a62" stroke-width="1.3"/>
<line x1="308.90" y1="630.00" x2="308.90" y2="612.50" stroke="#6a66cc" stroke-width="1.3"/>
<line x1="270.30" y1="630.00" x2="270.30" y2="615.70" stroke="#c4c4c4" stroke-width="1.3"/>
<line x1="138.60" y1="630.00" x2="138.60" y2="620.00" stroke="#c4c4c4" stroke-width="1.3"/>
<line x1="149.30" y1="630.00" x2="149.30" y2="620.00" stroke="#c4c4c4" stroke-width="1.3"/>
<line x1="241.40" y1="630.00" x2="241.40" y2="618.00" stroke="#c4c4c4" stroke-width="1.3"/>
<line x1="247.80" y1="630.00" x2="247.80" y2="619.00" stroke="#c4c4c4" stroke-width="1.3"/>
<line x1="301.00" y1="630.00" x2="301.00" y2="622.00" stroke="#c4c4c4" stroke-width="1.3"/>
<line x1="439.60" y1="630.00" x2="439.60" y2="603.80" stroke="#6a66cc" stroke-width="1.3"/>
<line x1="460.30" y1="630.00" x2="460.30" y2="599.00" stroke="#c25a62" stroke-width="1.3"/>
<line x1="456.50" y1="630.00" x2="456.50" y2="609.60" stroke="#6a66cc" stroke-width="1.3"/>
<line x1="468.50" y1="630.00" x2="468.50" y2="601.70" stroke="#6a66cc" stroke-width="1.3"/>
<line x1="479.60" y1="630.00" x2="479.60" y2="591.40" stroke="#6a66cc" stroke-width="1.3"/>
<line x1="486.70" y1="630.00" x2="486.70" y2="593.60" stroke="#c25a62" stroke-width="1.3"/>
<line x1="494.60" y1="630.00" x2="494.60" y2="596.80" stroke="#c4c4c4" stroke-width="1.3"/>
<line x1="501.00" y1="630.00" x2="501.00" y2="595.70" stroke="#c4c4c4" stroke-width="1.3"/>
<line x1="508.00" y1="630.00" x2="508.00" y2="595.70" stroke="#6a66cc" stroke-width="1.3"/>
<line x1="512.40" y1="630.00" x2="512.40" y2="591.40" stroke="#c25a62" stroke-width="1.3"/>
<line x1="520.30" y1="630.00" x2="520.30" y2="580.70" stroke="#6a66cc" stroke-width="1.3"/>
<line x1="529.00" y1="630.00" x2="529.00" y2="575.40" stroke="#c4c4c4" stroke-width="1.3"/>
<line x1="517.00" y1="630.00" x2="517.00" y2="585.00" stroke="#c4c4c4" stroke-width="1.3"/>
<line x1="420.30" y1="630.00" x2="420.30" y2="591.40" stroke="#c4c4c4" stroke-width="1.3"/>
<line x1="406.80" y1="630.00" x2="406.80" y2="601.00" stroke="#c4c4c4" stroke-width="1.3"/>
<line x1="414.30" y1="630.00" x2="414.30" y2="615.00" stroke="#6a66cc" stroke-width="1.3"/>
<line x1="410.00" y1="630.00" x2="410.00" y2="615.00" stroke="#6a66cc" stroke-width="1.3"/>
<line x1="400.40" y1="630.00" x2="400.40" y2="619.00" stroke="#c25a62" stroke-width="1.3"/>
<line x1="351.00" y1="630.00" x2="351.00" y2="611.80" stroke="#c4c4c4" stroke-width="1.3"/>
<line x1="373.60" y1="630.00" x2="373.60" y2="621.40" stroke="#6a66cc" stroke-width="1.3"/>
<line x1="393.50" y1="630.00" x2="393.50" y2="620.00" stroke="#6a66cc" stroke-width="1.3"/>
<line x1="361.80" y1="630.00" x2="361.80" y2="619.00" stroke="#c25a62" stroke-width="1.3"/>
<line x1="535.00" y1="630.00" x2="535.00" y2="533.60" stroke="#c25a62" stroke-width="1"/>
<line x1="554.60" y1="630.00" x2="554.60" y2="603.00" stroke="#6a66cc" stroke-width="1.3"/>
<line x1="578.60" y1="630.00" x2="578.60" y2="469.00" stroke="#c4c4c4" stroke-width="1"/>
<line x1="610.70" y1="630.00" x2="610.70" y2="491.40" stroke="#6a66cc" stroke-width="1.8"/>
<line x1="662.10" y1="630.00" x2="662.10" y2="538.60" stroke="#6a66cc" stroke-width="1.5"/>
<line x1="627.90" y1="630.00" x2="627.90" y2="538.60" stroke="#c4c4c4" stroke-width="1.3"/>
<line x1="633.60" y1="630.00" x2="633.60" y2="542.90" stroke="#c4c4c4" stroke-width="1.3"/>
<line x1="638.60" y1="630.00" x2="638.60" y2="552.50" stroke="#c4c4c4" stroke-width="1.3"/>
<line x1="581.80" y1="630.00" x2="581.80" y2="569.60" stroke="#c4c4c4" stroke-width="1.3"/>
<line x1="607.50" y1="630.00" x2="607.50" y2="569.60" stroke="#c4c4c4" stroke-width="1.3"/>
<line x1="657.40" y1="630.00" x2="657.40" y2="572.80" stroke="#c4c4c4" stroke-width="1.3"/>
<line x1="675.00" y1="630.00" x2="675.00" y2="585.70" stroke="#c4c4c4" stroke-width="1.3"/>
<line x1="589.30" y1="630.00" x2="589.30" y2="602.80" stroke="#c25a62" stroke-width="1.3"/>
<line x1="600.00" y1="630.00" x2="600.00" y2="609.30" stroke="#c25a62" stroke-width="1.3"/>
<line x1="616.50" y1="630.00" x2="616.50" y2="609.30" stroke="#6a66cc" stroke-width="1.3"/>
<line x1="685.30" y1="630.00" x2="685.30" y2="605.00" stroke="#6a66cc" stroke-width="1.3"/>
<line x1="698.60" y1="630.00" x2="698.60" y2="591.00" stroke="#c25a62" stroke-width="1.3"/>
<line x1="756.70" y1="630.00" x2="756.70" y2="607.00" stroke="#c25a62" stroke-width="1.3"/>
<line x1="761.80" y1="630.00" x2="761.80" y2="609.30" stroke="#c25a62" stroke-width="1.3"/>
<line x1="706.00" y1="630.00" x2="706.00" y2="616.80" stroke="#6a66cc" stroke-width="1.3"/>
<line x1="715.70" y1="630.00" x2="715.70" y2="620.00" stroke="#6a66cc" stroke-width="1.3"/>
<line x1="794.60" y1="630.00" x2="794.60" y2="566.40" stroke="#c25a62" stroke-width="1.3"/>
<line x1="853.10" y1="630.00" x2="853.10" y2="619.00" stroke="#c25a62" stroke-width="1.3"/>
<line x1="748.60" y1="630.00" x2="748.60" y2="604.00" stroke="#c4c4c4" stroke-width="1.3"/>
<line x1="812.90" y1="630.00" x2="812.90" y2="604.00" stroke="#c4c4c4" stroke-width="1.3"/>
<line x1="765.70" y1="630.00" x2="765.70" y2="608.00" stroke="#c4c4c4" stroke-width="1.3"/>
<line x1="780.70" y1="630.00" x2="780.70" y2="613.00" stroke="#c4c4c4" stroke-width="1.3"/>
<line x1="819.30" y1="630.00" x2="819.30" y2="611.00" stroke="#c4c4c4" stroke-width="1.3"/>
<line x1="830.00" y1="630.00" x2="830.00" y2="615.00" stroke="#c4c4c4" stroke-width="1.3"/>
<line x1="895.30" y1="630.00" x2="895.30" y2="612.00" stroke="#c4c4c4" stroke-width="1.3"/>
<line x1="920.60" y1="630.00" x2="920.60" y2="613.00" stroke="#c4c4c4" stroke-width="1.3"/>
<line x1="926.00" y1="630.00" x2="926.00" y2="617.00" stroke="#c4c4c4" stroke-width="1.3"/>
<line x1="1052.50" y1="630.00" x2="1052.50" y2="598.75" stroke="#c4c4c4" stroke-width="1.3"/>
<line x1="1083.75" y1="630.00" x2="1083.75" y2="618.75" stroke="#c4c4c4" stroke-width="1.3"/>
<line x1="1046.00" y1="630.00" x2="1046.00" y2="619.00" stroke="#c4c4c4" stroke-width="1.3"/>
<line x1="1036.00" y1="630.00" x2="1036.00" y2="619.00" stroke="#c4c4c4" stroke-width="1.3"/>
<line x1="103.60" y1="414.30" x2="103.60" y2="630.50" stroke="#505050" stroke-width="1.4"/>
<line x1="99.60" y1="630.00" x2="103.60" y2="630.00" stroke="#505050" stroke-width="1.1"/>
<line x1="101.40" y1="623.22" x2="103.60" y2="623.22" stroke="#505050" stroke-width="1"/>
<line x1="101.40" y1="616.44" x2="103.60" y2="616.44" stroke="#505050" stroke-width="1"/>
<line x1="101.40" y1="609.66" x2="103.60" y2="609.66" stroke="#505050" stroke-width="1"/>
<line x1="101.40" y1="602.88" x2="103.60" y2="602.88" stroke="#505050" stroke-width="1"/>
<line x1="99.60" y1="596.10" x2="103.60" y2="596.10" stroke="#505050" stroke-width="1.1"/>
<line x1="101.40" y1="589.32" x2="103.60" y2="589.32" stroke="#505050" stroke-width="1"/>
<line x1="101.40" y1="582.54" x2="103.60" y2="582.54" stroke="#505050" stroke-width="1"/>
<line x1="101.40" y1="575.76" x2="103.60" y2="575.76" stroke="#505050" stroke-width="1"/>
<line x1="101.40" y1="568.98" x2="103.60" y2="568.98" stroke="#505050" stroke-width="1"/>
<line x1="99.60" y1="562.20" x2="103.60" y2="562.20" stroke="#505050" stroke-width="1.1"/>
<line x1="101.40" y1="555.42" x2="103.60" y2="555.42" stroke="#505050" stroke-width="1"/>
<line x1="101.40" y1="548.64" x2="103.60" y2="548.64" stroke="#505050" stroke-width="1"/>
<line x1="101.40" y1="541.86" x2="103.60" y2="541.86" stroke="#505050" stroke-width="1"/>
<line x1="101.40" y1="535.08" x2="103.60" y2="535.08" stroke="#505050" stroke-width="1"/>
<line x1="99.60" y1="528.30" x2="103.60" y2="528.30" stroke="#505050" stroke-width="1.1"/>
<line x1="101.40" y1="521.52" x2="103.60" y2="521.52" stroke="#505050" stroke-width="1"/>
<line x1="101.40" y1="514.74" x2="103.60" y2="514.74" stroke="#505050" stroke-width="1"/>
<line x1="101.40" y1="507.96" x2="103.60" y2="507.96" stroke="#505050" stroke-width="1"/>
<line x1="101.40" y1="501.18" x2="103.60" y2="501.18" stroke="#505050" stroke-width="1"/>
<line x1="99.60" y1="494.40" x2="103.60" y2="494.40" stroke="#505050" stroke-width="1.1"/>
<line x1="101.40" y1="487.62" x2="103.60" y2="487.62" stroke="#505050" stroke-width="1"/>
<line x1="101.40" y1="480.84" x2="103.60" y2="480.84" stroke="#505050" stroke-width="1"/>
<line x1="101.40" y1="474.06" x2="103.60" y2="474.06" stroke="#505050" stroke-width="1"/>
<line x1="101.40" y1="467.28" x2="103.60" y2="467.28" stroke="#505050" stroke-width="1"/>
<line x1="99.60" y1="460.50" x2="103.60" y2="460.50" stroke="#505050" stroke-width="1.1"/>
<line x1="101.40" y1="453.72" x2="103.60" y2="453.72" stroke="#505050" stroke-width="1"/>
<line x1="101.40" y1="446.94" x2="103.60" y2="446.94" stroke="#505050" stroke-width="1"/>
<line x1="101.40" y1="440.16" x2="103.60" y2="440.16" stroke="#505050" stroke-width="1"/>
<line x1="101.40" y1="433.38" x2="103.60" y2="433.38" stroke="#505050" stroke-width="1"/>
<line x1="99.60" y1="426.60" x2="103.60" y2="426.60" stroke="#505050" stroke-width="1.1"/>
<line x1="101.40" y1="419.82" x2="103.60" y2="419.82" stroke="#505050" stroke-width="1"/>
<text x="93.5" y="632.90" font-family="Liberation Sans" font-size="9" fill="#444444" stroke="#444444" stroke-width="0.25" text-anchor="end">0</text>
<text x="93.5" y="599.00" font-family="Liberation Sans" font-size="9" fill="#444444" stroke="#444444" stroke-width="0.25" text-anchor="end">50</text>
<text x="93.5" y="565.10" font-family="Liberation Sans" font-size="9" fill="#444444" stroke="#444444" stroke-width="0.25" text-anchor="end">100</text>
<text x="93.5" y="531.20" font-family="Liberation Sans" font-size="9" fill="#444444" stroke="#444444" stroke-width="0.25" text-anchor="end">150</text>
<text x="93.5" y="497.30" font-family="Liberation Sans" font-size="9" fill="#444444" stroke="#444444" stroke-width="0.25" text-anchor="end">200</text>
<text x="93.5" y="463.40" font-family="Liberation Sans" font-size="9" fill="#444444" stroke="#444444" stroke-width="0.25" text-anchor="end">250</text>
<text x="93.5" y="429.50" font-family="Liberation Sans" font-size="9" fill="#444444" stroke="#444444" stroke-width="0.25" text-anchor="end">300</text>
<text transform="translate(71,521) rotate(-90)" font-family="Liberation Sans" font-size="10.7" fill="#444444" stroke="#444444" stroke-width="0.3" text-anchor="middle">Intensity [counts]</text>
<line x1="97.60" y1="630.00" x2="1090.00" y2="630.00" stroke="#505050" stroke-width="1.6"/>
<line x1="118.23" y1="630.00" x2="118.23" y2="632.50" stroke="#505050" stroke-width="1"/>
<line x1="146.81" y1="630.00" x2="146.81" y2="632.50" stroke="#505050" stroke-width="1"/>
<line x1="175.40" y1="630.00" x2="175.40" y2="634.50" stroke="#505050" stroke-width="1"/>
<line x1="203.99" y1="630.00" x2="203.99" y2="632.50" stroke="#505050" stroke-width="1"/>
<line x1="232.57" y1="630.00" x2="232.57" y2="632.50" stroke="#505050" stroke-width="1"/>
<line x1="261.16" y1="630.00" x2="261.16" y2="632.50" stroke="#505050" stroke-width="1"/>
<line x1="289.75" y1="630.00" x2="289.75" y2="634.50" stroke="#505050" stroke-width="1"/>
<line x1="318.34" y1="630.00" x2="318.34" y2="632.50" stroke="#505050" stroke-width="1"/>
<line x1="346.93" y1="630.00" x2="346.93" y2="632.50" stroke="#505050" stroke-width="1"/>
<line x1="375.51" y1="630.00" x2="375.51" y2="632.50" stroke="#505050" stroke-width="1"/>
<line x1="404.10" y1="630.00" x2="404.10" y2="634.50" stroke="#505050" stroke-width="1"/>
<line x1="432.69" y1="630.00" x2="432.69" y2="632.50" stroke="#505050" stroke-width="1"/>
<line x1="461.27" y1="630.00" x2="461.27" y2="632.50" stroke="#505050" stroke-width="1"/>
<line x1="489.86" y1="630.00" x2="489.86" y2="632.50" stroke="#505050" stroke-width="1"/>
<line x1="518.45" y1="630.00" x2="518.45" y2="634.50" stroke="#505050" stroke-width="1"/>
<line x1="547.04" y1="630.00" x2="547.04" y2="632.50" stroke="#505050" stroke-width="1"/>
<line x1="575.62" y1="630.00" x2="575.62" y2="632.50" stroke="#505050" stroke-width="1"/>
<line x1="604.21" y1="630.00" x2="604.21" y2="632.50" stroke="#505050" stroke-width="1"/>
<line x1="632.80" y1="630.00" x2="632.80" y2="634.50" stroke="#505050" stroke-width="1"/>
<line x1="661.39" y1="630.00" x2="661.39" y2="632.50" stroke="#505050" stroke-width="1"/>
<line x1="689.97" y1="630.00" x2="689.97" y2="632.50" stroke="#505050" stroke-width="1"/>
<line x1="718.56" y1="630.00" x2="718.56" y2="632.50" stroke="#505050" stroke-width="1"/>
<line x1="747.15" y1="630.00" x2="747.15" y2="634.50" stroke="#505050" stroke-width="1"/>
<line x1="775.74" y1="630.00" x2="775.74" y2="632.50" stroke="#505050" stroke-width="1"/>
<line x1="804.32" y1="630.00" x2="804.32" y2="632.50" stroke="#505050" stroke-width="1"/>
<line x1="832.91" y1="630.00" x2="832.91" y2="632.50" stroke="#505050" stroke-width="1"/>
<line x1="861.50" y1="630.00" x2="861.50" y2="634.50" stroke="#505050" stroke-width="1"/>
<line x1="890.09" y1="630.00" x2="890.09" y2="632.50" stroke="#505050" stroke-width="1"/>
<line x1="918.67" y1="630.00" x2="918.67" y2="632.50" stroke="#505050" stroke-width="1"/>
<line x1="947.26" y1="630.00" x2="947.26" y2="632.50" stroke="#505050" stroke-width="1"/>
<line x1="975.85" y1="630.00" x2="975.85" y2="634.50" stroke="#505050" stroke-width="1"/>
<line x1="1004.44" y1="630.00" x2="1004.44" y2="632.50" stroke="#505050" stroke-width="1"/>
<line x1="1033.03" y1="630.00" x2="1033.03" y2="632.50" stroke="#505050" stroke-width="1"/>
<line x1="1061.61" y1="630.00" x2="1061.61" y2="632.50" stroke="#505050" stroke-width="1"/>
<line x1="1090.20" y1="630.00" x2="1090.20" y2="634.50" stroke="#505050" stroke-width="1"/>
<text x="175.40" y="647.00" font-family="Liberation Sans" font-size="9" fill="#444444" stroke="#444444" stroke-width="0.25" text-anchor="middle">400</text>
<text x="289.75" y="647.00" font-family="Liberation Sans" font-size="9" fill="#444444" stroke="#444444" stroke-width="0.25" text-anchor="middle">600</text>
<text x="404.10" y="647.00" font-family="Liberation Sans" font-size="9" fill="#444444" stroke="#444444" stroke-width="0.25" text-anchor="middle">800</text>
<text x="518.45" y="647.00" font-family="Liberation Sans" font-size="9" fill="#444444" stroke="#444444" stroke-width="0.25" text-anchor="middle">1000</text>
<text x="632.80" y="647.00" font-family="Liberation Sans" font-size="9" fill="#444444" stroke="#444444" stroke-width="0.25" text-anchor="middle">1200</text>
<text x="747.15" y="647.00" font-family="Liberation Sans" font-size="9" fill="#444444" stroke="#444444" stroke-width="0.25" text-anchor="middle">1400</text>
<text x="861.50" y="647.00" font-family="Liberation Sans" font-size="9" fill="#444444" stroke="#444444" stroke-width="0.25" text-anchor="middle">1600</text>
<text x="975.85" y="647.00" font-family="Liberation Sans" font-size="9" fill="#444444" stroke="#444444" stroke-width="0.25" text-anchor="middle">1800</text>
<text x="1090.20" y="647.00" font-family="Liberation Sans" font-size="9" fill="#444444" stroke="#444444" stroke-width="0.25" text-anchor="middle">2000</text>
<text x="597" y="664.4" font-family="Liberation Sans" font-size="11.5" fill="#444444" stroke="#444444" stroke-width="0.25" text-anchor="middle">m/z</text>
<path d="M158.9,571.8 L176.0,620.0" fill="none" stroke="#c04a50" stroke-width="1" stroke-dasharray="4,2.5"/>
<path d="M235.0,568.6 L218.9,616.8" fill="none" stroke="#5552b8" stroke-width="1" stroke-dasharray="4,2.5"/>
<path d="M410.0,531.4 L467.8,596.8" fill="none" stroke="#c04a50" stroke-width="1" stroke-dasharray="4,2.5"/>
<path d="M473.2,574.3 L519.3,576.4" fill="none" stroke="#5552b8" stroke-width="1" stroke-dasharray="None"/>
<path d="M894.3,593.2 L853.6,612.5" fill="none" stroke="#c04a50" stroke-width="1" stroke-dasharray="4,2.5"/>
<text x="157.9" y="550.4" fill="#c04a50" stroke="#c04a50" stroke-width="0.25" font-family="Liberation Serif" font-size="13" text-anchor="middle" letter-spacing="0.45"><tspan>b</tspan><tspan dy="1.56" font-size="6.8">7</tspan><tspan dy="-5.07" font-size="6.8">2+</tspan></text>
<text x="158.3" y="567.5" fill="#c04a50" stroke="#c04a50" stroke-width="0.25" font-family="Liberation Serif" font-size="13" text-anchor="middle"><tspan>399.13</tspan></text>
<text x="235" y="548.2" fill="#5552b8" stroke="#5552b8" stroke-width="0.25" font-family="Liberation Serif" font-size="13" text-anchor="middle" letter-spacing="0.45"><tspan>y</tspan><tspan dy="1.56" font-size="6.8">8</tspan><tspan dy="-5.07" font-size="6.8">2+</tspan></text>
<text x="235" y="563.9" fill="#5552b8" stroke="#5552b8" stroke-width="0.25" font-family="Liberation Serif" font-size="13" text-anchor="middle"><tspan>475.75</tspan></text>
<text x="199.1" y="585.7" fill="#c04a50" stroke="#c04a50" stroke-width="0.25" font-family="Liberation Serif" font-size="13" text-anchor="middle" textLength="51.2" lengthAdjust="spacing"><tspan>b</tspan><tspan dy="1.56" font-size="6.8">8</tspan><tspan dy="-5.07" font-size="6.8">2+</tspan><tspan dy="3.51">-H</tspan><tspan dy="1.56" font-size="6.8">2</tspan><tspan dy="-1.56">O</tspan></text>
<text x="198.6" y="603.9" fill="#c04a50" stroke="#c04a50" stroke-width="0.25" font-family="Liberation Serif" font-size="13" text-anchor="middle"><tspan>440.14</tspan></text>
<text x="262.8" y="588.9" fill="#c04a50" stroke="#c04a50" stroke-width="0.25" font-family="Liberation Serif" font-size="13" text-anchor="middle" letter-spacing="0.45"><tspan>b</tspan><tspan dy="1.56" font-size="6.8">19</tspan><tspan dy="-5.07" font-size="6.8">3+</tspan></text>
<text x="262.2" y="606.7" fill="#c04a50" stroke="#c04a50" stroke-width="0.25" font-family="Liberation Serif" font-size="13" text-anchor="middle"><tspan>553.26</tspan></text>
<text x="307.8" y="582.5" fill="#5552b8" stroke="#5552b8" stroke-width="0.25" font-family="Liberation Serif" font-size="13" text-anchor="middle" letter-spacing="0.45"><tspan>y</tspan><tspan dy="1.56" font-size="6.8">5</tspan><tspan dy="-5.07" font-size="6.8">+</tspan></text>
<text x="307.8" y="599.6" fill="#5552b8" stroke="#5552b8" stroke-width="0.25" font-family="Liberation Serif" font-size="13" text-anchor="middle"><tspan>632.19</tspan></text>
<text x="407.8" y="510" fill="#c04a50" stroke="#c04a50" stroke-width="0.25" font-family="Liberation Serif" font-size="13" text-anchor="middle" textLength="144.4" lengthAdjust="spacing"><tspan>b</tspan><tspan dy="1.56" font-size="6.8">26</tspan><tspan dy="-5.07" font-size="6.8">3+</tspan><tspan dy="3.51">-H</tspan><tspan dy="1.56" font-size="6.8">2</tspan><tspan dy="-1.56">O, b</tspan><tspan dy="1.56" font-size="6.8">26</tspan><tspan dy="-5.07" font-size="6.8">3+</tspan><tspan dy="3.51">-NH</tspan><tspan dy="1.56" font-size="6.8">3</tspan><tspan dy="-1.56">, y</tspan><tspan dy="1.56" font-size="6.8">16</tspan><tspan dy="-5.07" font-size="6.8">2+</tspan></text>
<text x="407.9" y="526.7" fill="#c04a50" stroke="#c04a50" stroke-width="0.25" font-family="Liberation Serif" font-size="13" text-anchor="middle"><tspan>911.52</tspan></text>
<text x="472.1" y="551.8" fill="#5552b8" stroke="#5552b8" stroke-width="0.25" font-family="Liberation Serif" font-size="13" text-anchor="middle" textLength="118.6" lengthAdjust="spacing"><tspan>y</tspan><tspan dy="1.56" font-size="6.8">26</tspan><tspan dy="-5.07" font-size="6.8">3+</tspan><tspan dy="3.51">-H</tspan><tspan dy="1.56" font-size="6.8">2</tspan><tspan dy="-1.56">O, y</tspan><tspan dy="1.56" font-size="6.8">26</tspan><tspan dy="-5.07" font-size="6.8">3+</tspan><tspan dy="3.51">-NH</tspan><tspan dy="1.56" font-size="6.8">3</tspan></text>
<text x="471" y="568.3" fill="#5552b8" stroke="#5552b8" stroke-width="0.25" font-family="Liberation Serif" font-size="13" text-anchor="middle"><tspan>1002.21</tspan></text>
<text x="535" y="510" fill="#c04a50" stroke="#c04a50" stroke-width="0.25" font-family="Liberation Serif" font-size="13" text-anchor="middle" letter-spacing="0.45"><tspan>b</tspan><tspan dy="1.56" font-size="6.8">18</tspan><tspan dy="-5.07" font-size="6.8">2+</tspan><tspan dy="3.51">-NH</tspan><tspan dy="1.56" font-size="6.8">3</tspan></text>
<text x="534.3" y="526.7" fill="#c04a50" stroke="#c04a50" stroke-width="0.25" font-family="Liberation Serif" font-size="13" text-anchor="middle"><tspan>1029.51</tspan></text>
<text x="611.7" y="461.4" fill="#5552b8" stroke="#5552b8" stroke-width="0.25" font-family="Liberation Serif" font-size="13" text-anchor="middle" textLength="56.5" lengthAdjust="spacing"><tspan>y</tspan><tspan dy="1.56" font-size="6.8">20</tspan><tspan dy="-5.07" font-size="6.8">2+</tspan><tspan dy="3.51">-H</tspan><tspan dy="1.56" font-size="6.8">2</tspan><tspan dy="-1.56">O</tspan></text>
<text x="610.7" y="478.1" fill="#5552b8" stroke="#5552b8" stroke-width="0.25" font-family="Liberation Serif" font-size="13" text-anchor="middle"><tspan>1160.88</tspan></text>
<text x="661" y="517" fill="#5552b8" stroke="#5552b8" stroke-width="0.25" font-family="Liberation Serif" font-size="13" text-anchor="middle" letter-spacing="0.45"><tspan>y</tspan><tspan dy="1.56" font-size="6.8">10</tspan><tspan dy="-5.07" font-size="6.8">+</tspan></text>
<text x="661.7" y="533.2" fill="#5552b8" stroke="#5552b8" stroke-width="0.25" font-family="Liberation Serif" font-size="13" text-anchor="middle"><tspan>1250.09</tspan></text>
<text x="697.5" y="562.1" fill="#c04a50" stroke="#c04a50" stroke-width="0.25" font-family="Liberation Serif" font-size="13" text-anchor="middle" letter-spacing="0.45"><tspan>b</tspan><tspan dy="1.56" font-size="6.8">11</tspan><tspan dy="-5.07" font-size="6.8">+</tspan></text>
<text x="698" y="579.3" fill="#c04a50" stroke="#c04a50" stroke-width="0.25" font-family="Liberation Serif" font-size="13" text-anchor="middle"><tspan>1314.59</tspan></text>
<text x="761" y="577.6" fill="#c04a50" stroke="#c04a50" stroke-width="0.25" font-family="Liberation Serif" font-size="13" text-anchor="middle" letter-spacing="0.45"><tspan>b</tspan><tspan dy="1.56" font-size="6.8">25</tspan><tspan dy="-5.07" font-size="6.8">2+</tspan></text>
<text x="761" y="595.5" fill="#c04a50" stroke="#c04a50" stroke-width="0.25" font-family="Liberation Serif" font-size="13" text-anchor="middle"><tspan>1425.35</tspan></text>
<text x="794.6" y="535.4" fill="#c04a50" stroke="#c04a50" stroke-width="0.25" font-family="Liberation Serif" font-size="13" text-anchor="middle" letter-spacing="0.45"><tspan>b</tspan><tspan dy="1.56" font-size="6.8">26</tspan><tspan dy="-5.07" font-size="6.8">2+</tspan></text>
<text x="794.6" y="552.5" fill="#c04a50" stroke="#c04a50" stroke-width="0.25" font-family="Liberation Serif" font-size="13" text-anchor="middle"><tspan>1481.79</tspan></text>
<text x="896.7" y="569.6" fill="#c04a50" stroke="#c04a50" stroke-width="0.25" font-family="Liberation Serif" font-size="13" text-anchor="middle" textLength="106.5" lengthAdjust="spacing"><tspan>b</tspan><tspan dy="1.56" font-size="6.8">14</tspan><tspan dy="-5.07" font-size="6.8">+</tspan><tspan dy="3.51">-H</tspan><tspan dy="1.56" font-size="6.8">2</tspan><tspan dy="-1.56">O, b</tspan><tspan dy="1.56" font-size="6.8">14</tspan><tspan dy="-5.07" font-size="6.8">+</tspan><tspan dy="3.51">-NH</tspan><tspan dy="1.56" font-size="6.8">3</tspan></text>
<text x="896.4" y="585.7" fill="#c04a50" stroke="#c04a50" stroke-width="0.25" font-family="Liberation Serif" font-size="13" text-anchor="middle"><tspan>1584.19</tspan></text>
<rect x="51.5" y="723" width="1059.0" height="310" fill="none" stroke="#585858" stroke-width="1.7"/>
<text x="8.3" y="753.3" font-family="Liberation Serif" font-weight="bold" font-size="48.5" fill="#111">C</text>
<text x="346.2" y="736.7" font-family="Liberation Sans" font-size="11.1" fill="#5753c0" stroke="#5753c0" stroke-width="0.2" xml:space="preserve">#4170   RT: 15.68</text>
<text x="69" y="749.5" font-family="Liberation Sans" font-size="11.1" fill="#5753c0" stroke="#5753c0" stroke-width="0.2">ITMS, CID, z=+2, Mono m/z=771.90515 Da, MH+=1542.80303 Da, Match Tol.=0.8 Da</text>
<text x="1085" y="785.6" font-family="Liberation Serif" font-weight="bold" font-size="27.3" fill="#111" text-anchor="end">GIDFKEDGNILGHK</text>
<line x1="112.00" y1="988.00" x2="112.00" y2="986.67" stroke="#c4c4c4" stroke-width="1"/>
<line x1="114.70" y1="988.00" x2="114.70" y2="986.96" stroke="#c4c4c4" stroke-width="1"/>
<line x1="117.50" y1="988.00" x2="117.50" y2="984.29" stroke="#c4c4c4" stroke-width="1"/>
<line x1="121.60" y1="988.00" x2="121.60" y2="986.72" stroke="#c4c4c4" stroke-width="1"/>
<line x1="123.90" y1="988.00" x2="123.90" y2="986.90" stroke="#c4c4c4" stroke-width="1"/>
<line x1="126.00" y1="988.00" x2="126.00" y2="984.25" stroke="#c4c4c4" stroke-width="1"/>
<line x1="130.20" y1="988.00" x2="130.20" y2="984.70" stroke="#c4c4c4" stroke-width="1"/>
<line x1="132.60" y1="988.00" x2="132.60" y2="985.31" stroke="#c4c4c4" stroke-width="1"/>
<line x1="137.00" y1="988.00" x2="137.00" y2="984.42" stroke="#c4c4c4" stroke-width="1"/>
<line x1="140.50" y1="988.00" x2="140.50" y2="985.15" stroke="#c4c4c4" stroke-width="1"/>
<line x1="142.40" y1="988.00" x2="142.40" y2="985.84" stroke="#c4c4c4" stroke-width="1"/>
<line x1="147.10" y1="988.00" x2="147.10" y2="984.47" stroke="#c4c4c4" stroke-width="1"/>
<line x1="149.50" y1="988.00" x2="149.50" y2="984.32" stroke="#c4c4c4" stroke-width="1"/>
<line x1="154.00" y1="988.00" x2="154.00" y2="984.53" stroke="#c4c4c4" stroke-width="1"/>
<line x1="156.80" y1="988.00" x2="156.80" y2="985.40" stroke="#c4c4c4" stroke-width="1"/>
<line x1="158.70" y1="988.00" x2="158.70" y2="986.43" stroke="#c4c4c4" stroke-width="1"/>
<line x1="160.20" y1="988.00" x2="160.20" y2="987.34" stroke="#c4c4c4" stroke-width="1"/>
<line x1="162.50" y1="988.00" x2="162.50" y2="985.63" stroke="#c4c4c4" stroke-width="1"/>
<line x1="165.00" y1="988.00" x2="165.00" y2="984.01" stroke="#c4c4c4" stroke-width="1"/>
<line x1="167.80" y1="988.00" x2="167.80" y2="986.79" stroke="#c4c4c4" stroke-width="1"/>
<line x1="170.20" y1="988.00" x2="170.20" y2="986.25" stroke="#c4c4c4" stroke-width="1"/>
<line x1="172.60" y1="988.00" x2="172.60" y2="985.55" stroke="#c4c4c4" stroke-width="1"/>
<line x1="174.30" y1="988.00" x2="174.30" y2="987.28" stroke="#c4c4c4" stroke-width="1"/>
<line x1="178.40" y1="988.00" x2="178.40" y2="985.35" stroke="#c4c4c4" stroke-width="1"/>
<line x1="180.90" y1="988.00" x2="180.90" y2="986.88" stroke="#c4c4c4" stroke-width="1"/>
<line x1="182.40" y1="988.00" x2="182.40" y2="985.06" stroke="#c4c4c4" stroke-width="1"/>
<line x1="187.10" y1="988.00" x2="187.10" y2="984.93" stroke="#c4c4c4" stroke-width="1"/>
<line x1="188.50" y1="988.00" x2="188.50" y2="986.49" stroke="#c4c4c4" stroke-width="1"/>
<line x1="192.60" y1="988.00" x2="192.60" y2="986.06" stroke="#c4c4c4" stroke-width="1"/>
<line x1="196.10" y1="988.00" x2="196.10" y2="984.64" stroke="#c4c4c4" stroke-width="1"/>
<line x1="198.10" y1="988.00" x2="198.10" y2="985.95" stroke="#c4c4c4" stroke-width="1"/>
<line x1="200.80" y1="988.00" x2="200.80" y2="984.13" stroke="#c4c4c4" stroke-width="1"/>
<line x1="202.20" y1="988.00" x2="202.20" y2="987.34" stroke="#c4c4c4" stroke-width="1"/>
<line x1="206.30" y1="988.00" x2="206.30" y2="986.23" stroke="#c4c4c4" stroke-width="1"/>
<line x1="208.00" y1="988.00" x2="208.00" y2="984.06" stroke="#c4c4c4" stroke-width="1"/>
<line x1="210.10" y1="988.00" x2="210.10" y2="987.29" stroke="#c4c4c4" stroke-width="1"/>
<line x1="212.00" y1="988.00" x2="212.00" y2="985.13" stroke="#c4c4c4" stroke-width="1"/>
<line x1="213.50" y1="988.00" x2="213.50" y2="985.78" stroke="#c4c4c4" stroke-width="1"/>
<line x1="218.40" y1="988.00" x2="218.40" y2="987.07" stroke="#c4c4c4" stroke-width="1"/>
<line x1="222.40" y1="988.00" x2="222.40" y2="986.07" stroke="#c4c4c4" stroke-width="1"/>
<line x1="225.50" y1="988.00" x2="225.50" y2="986.65" stroke="#c4c4c4" stroke-width="1"/>
<line x1="226.90" y1="988.00" x2="226.90" y2="986.03" stroke="#c4c4c4" stroke-width="1"/>
<line x1="231.40" y1="988.00" x2="231.40" y2="984.59" stroke="#c4c4c4" stroke-width="1"/>
<line x1="232.90" y1="988.00" x2="232.90" y2="986.61" stroke="#c4c4c4" stroke-width="1"/>
<line x1="235.00" y1="988.00" x2="235.00" y2="986.69" stroke="#c4c4c4" stroke-width="1"/>
<line x1="236.80" y1="988.00" x2="236.80" y2="987.32" stroke="#c4c4c4" stroke-width="1"/>
<line x1="240.10" y1="988.00" x2="240.10" y2="984.03" stroke="#c4c4c4" stroke-width="1"/>
<line x1="244.70" y1="988.00" x2="244.70" y2="985.21" stroke="#c4c4c4" stroke-width="1"/>
<line x1="248.70" y1="988.00" x2="248.70" y2="985.77" stroke="#c4c4c4" stroke-width="1"/>
<line x1="250.70" y1="988.00" x2="250.70" y2="984.44" stroke="#c4c4c4" stroke-width="1"/>
<line x1="255.40" y1="988.00" x2="255.40" y2="986.32" stroke="#c4c4c4" stroke-width="1"/>
<line x1="259.50" y1="988.00" x2="259.50" y2="985.25" stroke="#c4c4c4" stroke-width="1"/>
<line x1="262.70" y1="988.00" x2="262.70" y2="985.21" stroke="#c4c4c4" stroke-width="1"/>
<line x1="265.00" y1="988.00" x2="265.00" y2="984.27" stroke="#c4c4c4" stroke-width="1"/>
<line x1="266.60" y1="988.00" x2="266.60" y2="984.10" stroke="#c4c4c4" stroke-width="1"/>
<line x1="270.30" y1="988.00" x2="270.30" y2="987.34" stroke="#c4c4c4" stroke-width="1"/>
<line x1="272.10" y1="988.00" x2="272.10" y2="984.11" stroke="#c4c4c4" stroke-width="1"/>
<line x1="273.70" y1="988.00" x2="273.70" y2="986.91" stroke="#c4c4c4" stroke-width="1"/>
<line x1="277.00" y1="988.00" x2="277.00" y2="984.89" stroke="#c4c4c4" stroke-width="1"/>
<line x1="279.10" y1="988.00" x2="279.10" y2="987.49" stroke="#c4c4c4" stroke-width="1"/>
<line x1="280.50" y1="988.00" x2="280.50" y2="984.43" stroke="#c4c4c4" stroke-width="1"/>
<line x1="284.70" y1="988.00" x2="284.70" y2="984.76" stroke="#c4c4c4" stroke-width="1"/>
<line x1="288.00" y1="988.00" x2="288.00" y2="984.42" stroke="#c4c4c4" stroke-width="1"/>
<line x1="291.70" y1="988.00" x2="291.70" y2="986.34" stroke="#c4c4c4" stroke-width="1"/>
<line x1="295.80" y1="988.00" x2="295.80" y2="985.85" stroke="#c4c4c4" stroke-width="1"/>
<line x1="297.30" y1="988.00" x2="297.30" y2="987.38" stroke="#c4c4c4" stroke-width="1"/>
<line x1="300.30" y1="988.00" x2="300.30" y2="984.47" stroke="#c4c4c4" stroke-width="1"/>
<line x1="302.20" y1="988.00" x2="302.20" y2="986.23" stroke="#c4c4c4" stroke-width="1"/>
<line x1="305.40" y1="988.00" x2="305.40" y2="987.46" stroke="#c4c4c4" stroke-width="1"/>
<line x1="309.60" y1="988.00" x2="309.60" y2="987.20" stroke="#c4c4c4" stroke-width="1"/>
<line x1="312.30" y1="988.00" x2="312.30" y2="984.74" stroke="#c4c4c4" stroke-width="1"/>
<line x1="314.50" y1="988.00" x2="314.50" y2="985.80" stroke="#c4c4c4" stroke-width="1"/>
<line x1="316.20" y1="988.00" x2="316.20" y2="987.10" stroke="#c4c4c4" stroke-width="1"/>
<line x1="320.60" y1="988.00" x2="320.60" y2="985.71" stroke="#c4c4c4" stroke-width="1"/>
<line x1="325.00" y1="988.00" x2="325.00" y2="984.78" stroke="#c4c4c4" stroke-width="1"/>
<line x1="329.50" y1="988.00" x2="329.50" y2="986.81" stroke="#c4c4c4" stroke-width="1"/>
<line x1="333.80" y1="988.00" x2="333.80" y2="986.02" stroke="#c4c4c4" stroke-width="1"/>
<line x1="335.70" y1="988.00" x2="335.70" y2="984.44" stroke="#c4c4c4" stroke-width="1"/>
<line x1="337.60" y1="988.00" x2="337.60" y2="985.77" stroke="#c4c4c4" stroke-width="1"/>
<line x1="340.80" y1="988.00" x2="340.80" y2="984.34" stroke="#c4c4c4" stroke-width="1"/>
<line x1="342.20" y1="988.00" x2="342.20" y2="986.41" stroke="#c4c4c4" stroke-width="1"/>
<line x1="345.30" y1="988.00" x2="345.30" y2="985.00" stroke="#c4c4c4" stroke-width="1"/>
<line x1="346.90" y1="988.00" x2="346.90" y2="986.64" stroke="#c4c4c4" stroke-width="1"/>
<line x1="349.50" y1="988.00" x2="349.50" y2="984.82" stroke="#c4c4c4" stroke-width="1"/>
<line x1="353.00" y1="988.00" x2="353.00" y2="985.13" stroke="#c4c4c4" stroke-width="1"/>
<line x1="355.50" y1="988.00" x2="355.50" y2="984.31" stroke="#c4c4c4" stroke-width="1"/>
<line x1="360.00" y1="988.00" x2="360.00" y2="986.43" stroke="#c4c4c4" stroke-width="1"/>
<line x1="364.20" y1="988.00" x2="364.20" y2="985.35" stroke="#c4c4c4" stroke-width="1"/>
<line x1="366.00" y1="988.00" x2="366.00" y2="984.80" stroke="#c4c4c4" stroke-width="1"/>
<line x1="369.70" y1="988.00" x2="369.70" y2="987.03" stroke="#c4c4c4" stroke-width="1"/>
<line x1="371.50" y1="988.00" x2="371.50" y2="984.67" stroke="#c4c4c4" stroke-width="1"/>
<line x1="376.10" y1="988.00" x2="376.10" y2="986.20" stroke="#c4c4c4" stroke-width="1"/>
<line x1="378.70" y1="988.00" x2="378.70" y2="985.33" stroke="#c4c4c4" stroke-width="1"/>
<line x1="381.40" y1="988.00" x2="381.40" y2="984.22" stroke="#c4c4c4" stroke-width="1"/>
<line x1="385.10" y1="988.00" x2="385.10" y2="986.36" stroke="#c4c4c4" stroke-width="1"/>
<line x1="386.50" y1="988.00" x2="386.50" y2="987.43" stroke="#c4c4c4" stroke-width="1"/>
<line x1="390.80" y1="988.00" x2="390.80" y2="984.70" stroke="#c4c4c4" stroke-width="1"/>
<line x1="395.50" y1="988.00" x2="395.50" y2="986.95" stroke="#c4c4c4" stroke-width="1"/>
<line x1="398.00" y1="988.00" x2="398.00" y2="977.28" stroke="#c4c4c4" stroke-width="1"/>
<line x1="401.10" y1="988.00" x2="401.10" y2="972.81" stroke="#c4c4c4" stroke-width="1"/>
<line x1="404.60" y1="988.00" x2="404.60" y2="985.59" stroke="#c4c4c4" stroke-width="1"/>
<line x1="408.10" y1="988.00" x2="408.10" y2="976.91" stroke="#c4c4c4" stroke-width="1"/>
<line x1="409.40" y1="988.00" x2="409.40" y2="979.43" stroke="#c4c4c4" stroke-width="1"/>
<line x1="411.80" y1="988.00" x2="411.80" y2="965.92" stroke="#c4c4c4" stroke-width="1"/>
<line x1="413.40" y1="988.00" x2="413.40" y2="982.09" stroke="#c4c4c4" stroke-width="1"/>
<line x1="416.50" y1="988.00" x2="416.50" y2="983.77" stroke="#c4c4c4" stroke-width="1"/>
<line x1="417.80" y1="988.00" x2="417.80" y2="977.36" stroke="#c4c4c4" stroke-width="1"/>
<line x1="418.80" y1="988.00" x2="418.80" y2="973.80" stroke="#c4c4c4" stroke-width="1"/>
<line x1="420.40" y1="988.00" x2="420.40" y2="972.25" stroke="#c4c4c4" stroke-width="1"/>
<line x1="422.20" y1="988.00" x2="422.20" y2="972.54" stroke="#c4c4c4" stroke-width="1"/>
<line x1="425.00" y1="988.00" x2="425.00" y2="983.13" stroke="#c4c4c4" stroke-width="1"/>
<line x1="427.80" y1="988.00" x2="427.80" y2="972.47" stroke="#c4c4c4" stroke-width="1"/>
<line x1="429.60" y1="988.00" x2="429.60" y2="980.94" stroke="#c4c4c4" stroke-width="1"/>
<line x1="431.00" y1="988.00" x2="431.00" y2="985.09" stroke="#c4c4c4" stroke-width="1"/>
<line x1="433.60" y1="988.00" x2="433.60" y2="985.95" stroke="#c4c4c4" stroke-width="1"/>
<line x1="435.50" y1="988.00" x2="435.50" y2="981.66" stroke="#c4c4c4" stroke-width="1"/>
<line x1="437.80" y1="988.00" x2="437.80" y2="981.58" stroke="#c4c4c4" stroke-width="1"/>
<line x1="440.70" y1="988.00" x2="440.70" y2="985.20" stroke="#c4c4c4" stroke-width="1"/>
<line x1="441.80" y1="988.00" x2="441.80" y2="975.50" stroke="#c4c4c4" stroke-width="1"/>
<line x1="442.80" y1="988.00" x2="442.80" y2="974.97" stroke="#c4c4c4" stroke-width="1"/>
<line x1="445.30" y1="988.00" x2="445.30" y2="983.32" stroke="#c4c4c4" stroke-width="1"/>
<line x1="446.80" y1="988.00" x2="446.80" y2="972.63" stroke="#c4c4c4" stroke-width="1"/>
<line x1="449.80" y1="988.00" x2="449.80" y2="972.98" stroke="#c4c4c4" stroke-width="1"/>
<line x1="451.80" y1="988.00" x2="451.80" y2="981.03" stroke="#c4c4c4" stroke-width="1"/>
<line x1="454.80" y1="988.00" x2="454.80" y2="984.49" stroke="#c4c4c4" stroke-width="1"/>
<line x1="458.00" y1="988.00" x2="458.00" y2="957.12" stroke="#c4c4c4" stroke-width="1"/>
<line x1="461.50" y1="988.00" x2="461.50" y2="984.72" stroke="#c4c4c4" stroke-width="1"/>
<line x1="464.10" y1="988.00" x2="464.10" y2="973.15" stroke="#c4c4c4" stroke-width="1"/>
<line x1="467.60" y1="988.00" x2="467.60" y2="978.37" stroke="#c4c4c4" stroke-width="1"/>
<line x1="469.40" y1="988.00" x2="469.40" y2="978.13" stroke="#c4c4c4" stroke-width="1"/>
<line x1="470.00" y1="988.00" x2="470.00" y2="970.99" stroke="#c4c4c4" stroke-width="1"/>
<line x1="470.70" y1="988.00" x2="470.70" y2="949.61" stroke="#c4c4c4" stroke-width="1"/>
<line x1="472.00" y1="988.00" x2="472.00" y2="945.72" stroke="#c4c4c4" stroke-width="1"/>
<line x1="473.70" y1="988.00" x2="473.70" y2="952.94" stroke="#c4c4c4" stroke-width="1"/>
<line x1="475.10" y1="988.00" x2="475.10" y2="958.32" stroke="#c4c4c4" stroke-width="1"/>
<line x1="476.90" y1="988.00" x2="476.90" y2="965.06" stroke="#c4c4c4" stroke-width="1"/>
<line x1="478.50" y1="988.00" x2="478.50" y2="978.95" stroke="#c4c4c4" stroke-width="1"/>
<line x1="479.70" y1="988.00" x2="479.70" y2="904.09" stroke="#c4c4c4" stroke-width="1"/>
<line x1="481.00" y1="988.00" x2="481.00" y2="966.41" stroke="#c4c4c4" stroke-width="1"/>
<line x1="482.70" y1="988.00" x2="482.70" y2="908.36" stroke="#c4c4c4" stroke-width="1"/>
<line x1="484.30" y1="988.00" x2="484.30" y2="963.79" stroke="#c4c4c4" stroke-width="1"/>
<line x1="485.40" y1="988.00" x2="485.40" y2="946.45" stroke="#c4c4c4" stroke-width="1"/>
<line x1="487.00" y1="988.00" x2="487.00" y2="949.44" stroke="#c4c4c4" stroke-width="1"/>
<line x1="488.30" y1="988.00" x2="488.30" y2="973.53" stroke="#c4c4c4" stroke-width="1"/>
<line x1="489.40" y1="988.00" x2="489.40" y2="979.40" stroke="#c4c4c4" stroke-width="1"/>
<line x1="490.40" y1="988.00" x2="490.40" y2="972.57" stroke="#c4c4c4" stroke-width="1"/>
<line x1="491.10" y1="988.00" x2="491.10" y2="946.55" stroke="#c4c4c4" stroke-width="1"/>
<line x1="491.80" y1="988.00" x2="491.80" y2="966.74" stroke="#c4c4c4" stroke-width="1"/>
<line x1="492.50" y1="988.00" x2="492.50" y2="951.77" stroke="#c4c4c4" stroke-width="1"/>
<line x1="494.30" y1="988.00" x2="494.30" y2="949.29" stroke="#c4c4c4" stroke-width="1"/>
<line x1="496.10" y1="988.00" x2="496.10" y2="945.52" stroke="#c4c4c4" stroke-width="1"/>
<line x1="497.30" y1="988.00" x2="497.30" y2="960.62" stroke="#c4c4c4" stroke-width="1"/>
<line x1="499.10" y1="988.00" x2="499.10" y2="949.27" stroke="#c4c4c4" stroke-width="1"/>
<line x1="499.60" y1="988.00" x2="499.60" y2="936.16" stroke="#c4c4c4" stroke-width="1"/>
<line x1="500.90" y1="988.00" x2="500.90" y2="958.54" stroke="#c4c4c4" stroke-width="1"/>
<line x1="502.50" y1="988.00" x2="502.50" y2="971.68" stroke="#c4c4c4" stroke-width="1"/>
<line x1="503.80" y1="988.00" x2="503.80" y2="972.12" stroke="#c4c4c4" stroke-width="1"/>
<line x1="504.40" y1="988.00" x2="504.40" y2="962.80" stroke="#c4c4c4" stroke-width="1"/>
<line x1="505.70" y1="988.00" x2="505.70" y2="943.66" stroke="#c4c4c4" stroke-width="1"/>
<line x1="507.40" y1="988.00" x2="507.40" y2="969.10" stroke="#c4c4c4" stroke-width="1"/>
<line x1="508.10" y1="988.00" x2="508.10" y2="956.33" stroke="#c4c4c4" stroke-width="1"/>
<line x1="509.60" y1="988.00" x2="509.60" y2="975.84" stroke="#c4c4c4" stroke-width="1"/>
<line x1="511.40" y1="988.00" x2="511.40" y2="979.58" stroke="#c4c4c4" stroke-width="1"/>
<line x1="512.80" y1="988.00" x2="512.80" y2="953.14" stroke="#c4c4c4" stroke-width="1"/>
<line x1="514.00" y1="988.00" x2="514.00" y2="944.50" stroke="#c4c4c4" stroke-width="1"/>
<line x1="515.40" y1="988.00" x2="515.40" y2="955.27" stroke="#c4c4c4" stroke-width="1"/>
<line x1="518.00" y1="988.00" x2="518.00" y2="983.09" stroke="#c4c4c4" stroke-width="1"/>
<line x1="523.90" y1="988.00" x2="523.90" y2="985.06" stroke="#c4c4c4" stroke-width="1"/>
<line x1="528.00" y1="988.00" x2="528.00" y2="983.32" stroke="#c4c4c4" stroke-width="1"/>
<line x1="535.00" y1="988.00" x2="535.00" y2="953.79" stroke="#c4c4c4" stroke-width="1"/>
<line x1="535.60" y1="988.00" x2="535.60" y2="945.48" stroke="#c4c4c4" stroke-width="1"/>
<line x1="536.40" y1="988.00" x2="536.40" y2="962.83" stroke="#c4c4c4" stroke-width="1"/>
<line x1="536.90" y1="988.00" x2="536.90" y2="954.44" stroke="#c4c4c4" stroke-width="1"/>
<line x1="537.80" y1="988.00" x2="537.80" y2="955.56" stroke="#c4c4c4" stroke-width="1"/>
<line x1="538.40" y1="988.00" x2="538.40" y2="956.90" stroke="#c4c4c4" stroke-width="1"/>
<line x1="539.10" y1="988.00" x2="539.10" y2="953.46" stroke="#c4c4c4" stroke-width="1"/>
<line x1="540.00" y1="988.00" x2="540.00" y2="956.80" stroke="#c4c4c4" stroke-width="1"/>
<line x1="540.50" y1="988.00" x2="540.50" y2="973.39" stroke="#c4c4c4" stroke-width="1"/>
<line x1="541.40" y1="988.00" x2="541.40" y2="934.17" stroke="#c4c4c4" stroke-width="1"/>
<line x1="541.80" y1="988.00" x2="541.80" y2="958.22" stroke="#c4c4c4" stroke-width="1"/>
<line x1="542.70" y1="988.00" x2="542.70" y2="959.52" stroke="#c4c4c4" stroke-width="1"/>
<line x1="543.50" y1="988.00" x2="543.50" y2="965.91" stroke="#c4c4c4" stroke-width="1"/>
<line x1="544.40" y1="988.00" x2="544.40" y2="961.59" stroke="#c4c4c4" stroke-width="1"/>
<line x1="545.20" y1="988.00" x2="545.20" y2="953.45" stroke="#c4c4c4" stroke-width="1"/>
<line x1="545.50" y1="988.00" x2="545.50" y2="965.88" stroke="#c4c4c4" stroke-width="1"/>
<line x1="546.00" y1="988.00" x2="546.00" y2="925.31" stroke="#c4c4c4" stroke-width="1"/>
<line x1="546.90" y1="988.00" x2="546.90" y2="929.24" stroke="#c4c4c4" stroke-width="1"/>
<line x1="547.70" y1="988.00" x2="547.70" y2="967.26" stroke="#c4c4c4" stroke-width="1"/>
<line x1="548.30" y1="988.00" x2="548.30" y2="972.13" stroke="#c4c4c4" stroke-width="1"/>
<line x1="549.20" y1="988.00" x2="549.20" y2="918.59" stroke="#c4c4c4" stroke-width="1"/>
<line x1="550.00" y1="988.00" x2="550.00" y2="975.52" stroke="#c4c4c4" stroke-width="1"/>
<line x1="550.90" y1="988.00" x2="550.90" y2="958.63" stroke="#c4c4c4" stroke-width="1"/>
<line x1="551.50" y1="988.00" x2="551.50" y2="937.63" stroke="#c4c4c4" stroke-width="1"/>
<line x1="552.50" y1="988.00" x2="552.50" y2="974.49" stroke="#c4c4c4" stroke-width="1"/>
<line x1="553.30" y1="988.00" x2="553.30" y2="964.86" stroke="#c4c4c4" stroke-width="1"/>
<line x1="553.80" y1="988.00" x2="553.80" y2="948.58" stroke="#c4c4c4" stroke-width="1"/>
<line x1="554.50" y1="988.00" x2="554.50" y2="951.09" stroke="#c4c4c4" stroke-width="1"/>
<line x1="555.40" y1="988.00" x2="555.40" y2="953.71" stroke="#c4c4c4" stroke-width="1"/>
<line x1="556.00" y1="988.00" x2="556.00" y2="956.24" stroke="#c4c4c4" stroke-width="1"/>
<line x1="556.30" y1="988.00" x2="556.30" y2="955.10" stroke="#c4c4c4" stroke-width="1"/>
<line x1="557.00" y1="988.00" x2="557.00" y2="913.30" stroke="#c4c4c4" stroke-width="1"/>
<line x1="557.30" y1="988.00" x2="557.30" y2="972.54" stroke="#c4c4c4" stroke-width="1"/>
<line x1="557.80" y1="988.00" x2="557.80" y2="968.82" stroke="#c4c4c4" stroke-width="1"/>
<line x1="558.70" y1="988.00" x2="558.70" y2="968.87" stroke="#c4c4c4" stroke-width="1"/>
<line x1="559.70" y1="988.00" x2="559.70" y2="958.86" stroke="#c4c4c4" stroke-width="1"/>
<line x1="560.30" y1="988.00" x2="560.30" y2="932.12" stroke="#c4c4c4" stroke-width="1"/>
<line x1="560.80" y1="988.00" x2="560.80" y2="967.44" stroke="#c4c4c4" stroke-width="1"/>
<line x1="561.30" y1="988.00" x2="561.30" y2="957.54" stroke="#c4c4c4" stroke-width="1"/>
<line x1="562.30" y1="988.00" x2="562.30" y2="965.47" stroke="#c4c4c4" stroke-width="1"/>
<line x1="562.80" y1="988.00" x2="562.80" y2="964.85" stroke="#c4c4c4" stroke-width="1"/>
<line x1="563.60" y1="988.00" x2="563.60" y2="949.77" stroke="#c4c4c4" stroke-width="1"/>
<line x1="563.90" y1="988.00" x2="563.90" y2="933.92" stroke="#c4c4c4" stroke-width="1"/>
<line x1="564.20" y1="988.00" x2="564.20" y2="913.95" stroke="#c4c4c4" stroke-width="1"/>
<line x1="565.00" y1="988.00" x2="565.00" y2="965.86" stroke="#c4c4c4" stroke-width="1"/>
<line x1="565.90" y1="988.00" x2="565.90" y2="974.26" stroke="#c4c4c4" stroke-width="1"/>
<line x1="566.90" y1="988.00" x2="566.90" y2="958.82" stroke="#c4c4c4" stroke-width="1"/>
<line x1="567.70" y1="988.00" x2="567.70" y2="953.22" stroke="#c4c4c4" stroke-width="1"/>
<line x1="568.30" y1="988.00" x2="568.30" y2="973.20" stroke="#c4c4c4" stroke-width="1"/>
<line x1="568.70" y1="988.00" x2="568.70" y2="958.48" stroke="#c4c4c4" stroke-width="1"/>
<line x1="569.10" y1="988.00" x2="569.10" y2="922.91" stroke="#c4c4c4" stroke-width="1"/>
<line x1="569.40" y1="988.00" x2="569.40" y2="957.92" stroke="#c4c4c4" stroke-width="1"/>
<line x1="570.30" y1="988.00" x2="570.30" y2="958.38" stroke="#c4c4c4" stroke-width="1"/>
<line x1="570.70" y1="988.00" x2="570.70" y2="910.31" stroke="#c4c4c4" stroke-width="1"/>
<line x1="571.40" y1="988.00" x2="571.40" y2="950.48" stroke="#c4c4c4" stroke-width="1"/>
<line x1="572.40" y1="988.00" x2="572.40" y2="963.34" stroke="#c4c4c4" stroke-width="1"/>
<line x1="573.20" y1="988.00" x2="573.20" y2="972.16" stroke="#c4c4c4" stroke-width="1"/>
<line x1="574.10" y1="988.00" x2="574.10" y2="963.66" stroke="#c4c4c4" stroke-width="1"/>
<line x1="574.70" y1="988.00" x2="574.70" y2="968.26" stroke="#c4c4c4" stroke-width="1"/>
<line x1="575.10" y1="988.00" x2="575.10" y2="953.59" stroke="#c4c4c4" stroke-width="1"/>
<line x1="575.50" y1="988.00" x2="575.50" y2="903.72" stroke="#c4c4c4" stroke-width="1"/>
<line x1="576.40" y1="988.00" x2="576.40" y2="968.17" stroke="#c4c4c4" stroke-width="1"/>
<line x1="577.00" y1="988.00" x2="577.00" y2="904.79" stroke="#c4c4c4" stroke-width="1"/>
<line x1="577.30" y1="988.00" x2="577.30" y2="953.14" stroke="#c4c4c4" stroke-width="1"/>
<line x1="578.00" y1="988.00" x2="578.00" y2="959.58" stroke="#c4c4c4" stroke-width="1"/>
<line x1="578.60" y1="988.00" x2="578.60" y2="974.54" stroke="#c4c4c4" stroke-width="1"/>
<line x1="579.40" y1="988.00" x2="579.40" y2="949.41" stroke="#c4c4c4" stroke-width="1"/>
<line x1="579.90" y1="988.00" x2="579.90" y2="973.83" stroke="#c4c4c4" stroke-width="1"/>
<line x1="580.30" y1="988.00" x2="580.30" y2="960.68" stroke="#c4c4c4" stroke-width="1"/>
<line x1="580.90" y1="988.00" x2="580.90" y2="956.97" stroke="#c4c4c4" stroke-width="1"/>
<line x1="581.50" y1="988.00" x2="581.50" y2="975.15" stroke="#c4c4c4" stroke-width="1"/>
<line x1="581.90" y1="988.00" x2="581.90" y2="944.25" stroke="#c4c4c4" stroke-width="1"/>
<line x1="582.60" y1="988.00" x2="582.60" y2="965.13" stroke="#c4c4c4" stroke-width="1"/>
<line x1="583.00" y1="988.00" x2="583.00" y2="960.21" stroke="#c4c4c4" stroke-width="1"/>
<line x1="583.60" y1="988.00" x2="583.60" y2="971.43" stroke="#c4c4c4" stroke-width="1"/>
<line x1="584.10" y1="988.00" x2="584.10" y2="959.97" stroke="#c4c4c4" stroke-width="1"/>
<line x1="584.80" y1="988.00" x2="584.80" y2="970.73" stroke="#c4c4c4" stroke-width="1"/>
<line x1="585.30" y1="988.00" x2="585.30" y2="963.65" stroke="#c4c4c4" stroke-width="1"/>
<line x1="586.30" y1="988.00" x2="586.30" y2="960.57" stroke="#c4c4c4" stroke-width="1"/>
<line x1="587.10" y1="988.00" x2="587.10" y2="957.94" stroke="#c4c4c4" stroke-width="1"/>
<line x1="587.60" y1="988.00" x2="587.60" y2="957.34" stroke="#c4c4c4" stroke-width="1"/>
<line x1="588.00" y1="988.00" x2="588.00" y2="958.49" stroke="#c4c4c4" stroke-width="1"/>
<line x1="588.40" y1="988.00" x2="588.40" y2="974.88" stroke="#c4c4c4" stroke-width="1"/>
<line x1="588.70" y1="988.00" x2="588.70" y2="917.80" stroke="#c4c4c4" stroke-width="1"/>
<line x1="589.20" y1="988.00" x2="589.20" y2="975.10" stroke="#c4c4c4" stroke-width="1"/>
<line x1="590.10" y1="988.00" x2="590.10" y2="969.68" stroke="#c4c4c4" stroke-width="1"/>
<line x1="591.00" y1="988.00" x2="591.00" y2="967.78" stroke="#c4c4c4" stroke-width="1"/>
<line x1="591.80" y1="988.00" x2="591.80" y2="908.36" stroke="#c4c4c4" stroke-width="1"/>
<line x1="592.60" y1="988.00" x2="592.60" y2="954.20" stroke="#c4c4c4" stroke-width="1"/>
<line x1="593.60" y1="988.00" x2="593.60" y2="974.60" stroke="#c4c4c4" stroke-width="1"/>
<line x1="594.40" y1="988.00" x2="594.40" y2="957.07" stroke="#c4c4c4" stroke-width="1"/>
<line x1="595.10" y1="988.00" x2="595.10" y2="967.96" stroke="#c4c4c4" stroke-width="1"/>
<line x1="595.60" y1="988.00" x2="595.60" y2="951.94" stroke="#c4c4c4" stroke-width="1"/>
<line x1="596.40" y1="988.00" x2="596.40" y2="970.01" stroke="#c4c4c4" stroke-width="1"/>
<line x1="596.90" y1="988.00" x2="596.90" y2="953.87" stroke="#c4c4c4" stroke-width="1"/>
<line x1="597.90" y1="988.00" x2="597.90" y2="956.17" stroke="#c4c4c4" stroke-width="1"/>
<line x1="598.70" y1="988.00" x2="598.70" y2="973.38" stroke="#c4c4c4" stroke-width="1"/>
<line x1="599.00" y1="988.00" x2="599.00" y2="938.98" stroke="#c4c4c4" stroke-width="1"/>
<line x1="600.00" y1="988.00" x2="600.00" y2="975.22" stroke="#c4c4c4" stroke-width="1"/>
<line x1="600.90" y1="988.00" x2="600.90" y2="963.80" stroke="#c4c4c4" stroke-width="1"/>
<line x1="601.20" y1="988.00" x2="601.20" y2="953.01" stroke="#c4c4c4" stroke-width="1"/>
<line x1="601.60" y1="988.00" x2="601.60" y2="975.93" stroke="#c4c4c4" stroke-width="1"/>
<line x1="601.90" y1="988.00" x2="601.90" y2="959.46" stroke="#c4c4c4" stroke-width="1"/>
<line x1="602.30" y1="988.00" x2="602.30" y2="964.26" stroke="#c4c4c4" stroke-width="1"/>
<line x1="603.20" y1="988.00" x2="603.20" y2="965.25" stroke="#c4c4c4" stroke-width="1"/>
<line x1="603.90" y1="988.00" x2="603.90" y2="958.45" stroke="#c4c4c4" stroke-width="1"/>
<line x1="604.40" y1="988.00" x2="604.40" y2="972.17" stroke="#c4c4c4" stroke-width="1"/>
<line x1="604.80" y1="988.00" x2="604.80" y2="963.44" stroke="#c4c4c4" stroke-width="1"/>
<line x1="605.50" y1="988.00" x2="605.50" y2="949.45" stroke="#c4c4c4" stroke-width="1"/>
<line x1="606.10" y1="988.00" x2="606.10" y2="972.64" stroke="#c4c4c4" stroke-width="1"/>
<line x1="606.80" y1="988.00" x2="606.80" y2="951.87" stroke="#c4c4c4" stroke-width="1"/>
<line x1="607.50" y1="988.00" x2="607.50" y2="953.27" stroke="#c4c4c4" stroke-width="1"/>
<line x1="608.40" y1="988.00" x2="608.40" y2="906.20" stroke="#c4c4c4" stroke-width="1"/>
<line x1="609.40" y1="988.00" x2="609.40" y2="951.65" stroke="#c4c4c4" stroke-width="1"/>
<line x1="609.90" y1="988.00" x2="609.90" y2="946.09" stroke="#c4c4c4" stroke-width="1"/>
<line x1="610.40" y1="988.00" x2="610.40" y2="952.06" stroke="#c4c4c4" stroke-width="1"/>
<line x1="610.70" y1="988.00" x2="610.70" y2="942.82" stroke="#c4c4c4" stroke-width="1"/>
<line x1="611.40" y1="988.00" x2="611.40" y2="954.49" stroke="#c4c4c4" stroke-width="1"/>
<line x1="611.80" y1="988.00" x2="611.80" y2="938.17" stroke="#c4c4c4" stroke-width="1"/>
<line x1="612.70" y1="988.00" x2="612.70" y2="952.56" stroke="#c4c4c4" stroke-width="1"/>
<line x1="613.70" y1="988.00" x2="613.70" y2="961.43" stroke="#c4c4c4" stroke-width="1"/>
<line x1="614.30" y1="988.00" x2="614.30" y2="965.80" stroke="#c4c4c4" stroke-width="1"/>
<line x1="615.20" y1="988.00" x2="615.20" y2="959.43" stroke="#c4c4c4" stroke-width="1"/>
<line x1="615.90" y1="988.00" x2="615.90" y2="912.46" stroke="#c4c4c4" stroke-width="1"/>
<line x1="616.30" y1="988.00" x2="616.30" y2="972.94" stroke="#c4c4c4" stroke-width="1"/>
<line x1="617.10" y1="988.00" x2="617.10" y2="971.66" stroke="#c4c4c4" stroke-width="1"/>
<line x1="617.40" y1="988.00" x2="617.40" y2="956.75" stroke="#c4c4c4" stroke-width="1"/>
<line x1="617.80" y1="988.00" x2="617.80" y2="948.56" stroke="#c4c4c4" stroke-width="1"/>
<line x1="618.10" y1="988.00" x2="618.10" y2="939.98" stroke="#c4c4c4" stroke-width="1"/>
<line x1="618.90" y1="988.00" x2="618.90" y2="905.13" stroke="#c4c4c4" stroke-width="1"/>
<line x1="619.40" y1="988.00" x2="619.40" y2="958.39" stroke="#c4c4c4" stroke-width="1"/>
<line x1="620.20" y1="988.00" x2="620.20" y2="933.40" stroke="#c4c4c4" stroke-width="1"/>
<line x1="620.90" y1="988.00" x2="620.90" y2="963.24" stroke="#c4c4c4" stroke-width="1"/>
<line x1="621.60" y1="988.00" x2="621.60" y2="955.45" stroke="#c4c4c4" stroke-width="1"/>
<line x1="622.30" y1="988.00" x2="622.30" y2="950.47" stroke="#c4c4c4" stroke-width="1"/>
<line x1="622.60" y1="988.00" x2="622.60" y2="907.24" stroke="#c4c4c4" stroke-width="1"/>
<line x1="623.60" y1="988.00" x2="623.60" y2="933.53" stroke="#c4c4c4" stroke-width="1"/>
<line x1="624.00" y1="988.00" x2="624.00" y2="955.80" stroke="#c4c4c4" stroke-width="1"/>
<line x1="624.80" y1="988.00" x2="624.80" y2="973.15" stroke="#c4c4c4" stroke-width="1"/>
<line x1="625.30" y1="988.00" x2="625.30" y2="910.30" stroke="#c4c4c4" stroke-width="1"/>
<line x1="626.10" y1="988.00" x2="626.10" y2="962.87" stroke="#c4c4c4" stroke-width="1"/>
<line x1="626.40" y1="988.00" x2="626.40" y2="961.11" stroke="#c4c4c4" stroke-width="1"/>
<line x1="626.70" y1="988.00" x2="626.70" y2="934.14" stroke="#c4c4c4" stroke-width="1"/>
<line x1="627.70" y1="988.00" x2="627.70" y2="948.85" stroke="#c4c4c4" stroke-width="1"/>
<line x1="628.30" y1="988.00" x2="628.30" y2="957.26" stroke="#c4c4c4" stroke-width="1"/>
<line x1="629.10" y1="988.00" x2="629.10" y2="953.75" stroke="#c4c4c4" stroke-width="1"/>
<line x1="630.00" y1="988.00" x2="630.00" y2="963.74" stroke="#c4c4c4" stroke-width="1"/>
<line x1="630.70" y1="988.00" x2="630.70" y2="966.31" stroke="#c4c4c4" stroke-width="1"/>
<line x1="631.60" y1="988.00" x2="631.60" y2="963.32" stroke="#c4c4c4" stroke-width="1"/>
<line x1="632.40" y1="988.00" x2="632.40" y2="974.72" stroke="#c4c4c4" stroke-width="1"/>
<line x1="633.10" y1="988.00" x2="633.10" y2="923.28" stroke="#c4c4c4" stroke-width="1"/>
<line x1="634.10" y1="988.00" x2="634.10" y2="962.13" stroke="#c4c4c4" stroke-width="1"/>
<line x1="634.40" y1="988.00" x2="634.40" y2="959.42" stroke="#c4c4c4" stroke-width="1"/>
<line x1="634.90" y1="988.00" x2="634.90" y2="942.86" stroke="#c4c4c4" stroke-width="1"/>
<line x1="635.20" y1="988.00" x2="635.20" y2="955.63" stroke="#c4c4c4" stroke-width="1"/>
<line x1="636.10" y1="988.00" x2="636.10" y2="969.91" stroke="#c4c4c4" stroke-width="1"/>
<line x1="636.80" y1="988.00" x2="636.80" y2="973.48" stroke="#c4c4c4" stroke-width="1"/>
<line x1="637.30" y1="988.00" x2="637.30" y2="970.82" stroke="#c4c4c4" stroke-width="1"/>
<line x1="638.30" y1="988.00" x2="638.30" y2="969.82" stroke="#c4c4c4" stroke-width="1"/>
<line x1="639.00" y1="988.00" x2="639.00" y2="965.94" stroke="#c4c4c4" stroke-width="1"/>
<line x1="639.30" y1="988.00" x2="639.30" y2="963.96" stroke="#c4c4c4" stroke-width="1"/>
<line x1="640.00" y1="988.00" x2="640.00" y2="958.95" stroke="#c4c4c4" stroke-width="1"/>
<line x1="640.80" y1="988.00" x2="640.80" y2="948.78" stroke="#c4c4c4" stroke-width="1"/>
<line x1="641.50" y1="988.00" x2="641.50" y2="952.56" stroke="#c4c4c4" stroke-width="1"/>
<line x1="642.00" y1="988.00" x2="642.00" y2="948.83" stroke="#c4c4c4" stroke-width="1"/>
<line x1="642.50" y1="988.00" x2="642.50" y2="965.61" stroke="#c4c4c4" stroke-width="1"/>
<line x1="643.20" y1="988.00" x2="643.20" y2="906.40" stroke="#c4c4c4" stroke-width="1"/>
<line x1="643.70" y1="988.00" x2="643.70" y2="957.81" stroke="#c4c4c4" stroke-width="1"/>
<line x1="644.40" y1="988.00" x2="644.40" y2="930.32" stroke="#c4c4c4" stroke-width="1"/>
<line x1="644.80" y1="988.00" x2="644.80" y2="963.72" stroke="#c4c4c4" stroke-width="1"/>
<line x1="645.20" y1="988.00" x2="645.20" y2="945.39" stroke="#c4c4c4" stroke-width="1"/>
<line x1="645.70" y1="988.00" x2="645.70" y2="967.34" stroke="#c4c4c4" stroke-width="1"/>
<line x1="646.40" y1="988.00" x2="646.40" y2="952.12" stroke="#c4c4c4" stroke-width="1"/>
<line x1="647.20" y1="988.00" x2="647.20" y2="968.08" stroke="#c4c4c4" stroke-width="1"/>
<line x1="648.00" y1="988.00" x2="648.00" y2="950.97" stroke="#c4c4c4" stroke-width="1"/>
<line x1="648.30" y1="988.00" x2="648.30" y2="974.58" stroke="#c4c4c4" stroke-width="1"/>
<line x1="649.20" y1="988.00" x2="649.20" y2="971.71" stroke="#c4c4c4" stroke-width="1"/>
<line x1="649.90" y1="988.00" x2="649.90" y2="951.81" stroke="#c4c4c4" stroke-width="1"/>
<line x1="650.30" y1="988.00" x2="650.30" y2="912.71" stroke="#c4c4c4" stroke-width="1"/>
<line x1="650.60" y1="988.00" x2="650.60" y2="964.84" stroke="#c4c4c4" stroke-width="1"/>
<line x1="650.90" y1="988.00" x2="650.90" y2="944.62" stroke="#c4c4c4" stroke-width="1"/>
<line x1="651.30" y1="988.00" x2="651.30" y2="955.51" stroke="#c4c4c4" stroke-width="1"/>
<line x1="651.70" y1="988.00" x2="651.70" y2="966.84" stroke="#c4c4c4" stroke-width="1"/>
<line x1="652.50" y1="988.00" x2="652.50" y2="958.86" stroke="#c4c4c4" stroke-width="1"/>
<line x1="653.00" y1="988.00" x2="653.00" y2="958.79" stroke="#c4c4c4" stroke-width="1"/>
<line x1="653.40" y1="988.00" x2="653.40" y2="972.84" stroke="#c4c4c4" stroke-width="1"/>
<line x1="653.80" y1="988.00" x2="653.80" y2="969.76" stroke="#c4c4c4" stroke-width="1"/>
<line x1="654.50" y1="988.00" x2="654.50" y2="957.87" stroke="#c4c4c4" stroke-width="1"/>
<line x1="655.20" y1="988.00" x2="655.20" y2="970.61" stroke="#c4c4c4" stroke-width="1"/>
<line x1="656.00" y1="988.00" x2="656.00" y2="964.61" stroke="#c4c4c4" stroke-width="1"/>
<line x1="656.70" y1="988.00" x2="656.70" y2="972.65" stroke="#c4c4c4" stroke-width="1"/>
<line x1="657.60" y1="988.00" x2="657.60" y2="965.81" stroke="#c4c4c4" stroke-width="1"/>
<line x1="658.10" y1="988.00" x2="658.10" y2="950.53" stroke="#c4c4c4" stroke-width="1"/>
<line x1="658.60" y1="988.00" x2="658.60" y2="956.04" stroke="#c4c4c4" stroke-width="1"/>
<line x1="659.50" y1="988.00" x2="659.50" y2="964.49" stroke="#c4c4c4" stroke-width="1"/>
<line x1="660.00" y1="988.00" x2="660.00" y2="959.50" stroke="#c4c4c4" stroke-width="1"/>
<line x1="660.40" y1="988.00" x2="660.40" y2="906.84" stroke="#c4c4c4" stroke-width="1"/>
<line x1="661.10" y1="988.00" x2="661.10" y2="957.04" stroke="#c4c4c4" stroke-width="1"/>
<line x1="661.60" y1="988.00" x2="661.60" y2="963.30" stroke="#c4c4c4" stroke-width="1"/>
<line x1="661.90" y1="988.00" x2="661.90" y2="951.22" stroke="#c4c4c4" stroke-width="1"/>
<line x1="662.50" y1="988.00" x2="662.50" y2="958.14" stroke="#c4c4c4" stroke-width="1"/>
<line x1="663.40" y1="988.00" x2="663.40" y2="948.66" stroke="#c4c4c4" stroke-width="1"/>
<line x1="663.90" y1="988.00" x2="663.90" y2="965.85" stroke="#c4c4c4" stroke-width="1"/>
<line x1="664.50" y1="988.00" x2="664.50" y2="974.02" stroke="#c4c4c4" stroke-width="1"/>
<line x1="664.90" y1="988.00" x2="664.90" y2="966.29" stroke="#c4c4c4" stroke-width="1"/>
<line x1="665.60" y1="988.00" x2="665.60" y2="960.98" stroke="#c4c4c4" stroke-width="1"/>
<line x1="666.30" y1="988.00" x2="666.30" y2="948.83" stroke="#c4c4c4" stroke-width="1"/>
<line x1="666.80" y1="988.00" x2="666.80" y2="954.12" stroke="#c4c4c4" stroke-width="1"/>
<line x1="667.70" y1="988.00" x2="667.70" y2="958.66" stroke="#c4c4c4" stroke-width="1"/>
<line x1="668.10" y1="988.00" x2="668.10" y2="952.26" stroke="#c4c4c4" stroke-width="1"/>
<line x1="668.40" y1="988.00" x2="668.40" y2="912.12" stroke="#c4c4c4" stroke-width="1"/>
<line x1="668.70" y1="988.00" x2="668.70" y2="975.15" stroke="#c4c4c4" stroke-width="1"/>
<line x1="669.40" y1="988.00" x2="669.40" y2="962.46" stroke="#c4c4c4" stroke-width="1"/>
<line x1="670.00" y1="988.00" x2="670.00" y2="970.24" stroke="#c4c4c4" stroke-width="1"/>
<line x1="670.40" y1="988.00" x2="670.40" y2="974.61" stroke="#c4c4c4" stroke-width="1"/>
<line x1="671.40" y1="988.00" x2="671.40" y2="964.31" stroke="#c4c4c4" stroke-width="1"/>
<line x1="671.90" y1="988.00" x2="671.90" y2="965.63" stroke="#c4c4c4" stroke-width="1"/>
<line x1="672.60" y1="988.00" x2="672.60" y2="968.18" stroke="#c4c4c4" stroke-width="1"/>
<line x1="673.50" y1="988.00" x2="673.50" y2="960.28" stroke="#c4c4c4" stroke-width="1"/>
<line x1="673.90" y1="988.00" x2="673.90" y2="948.66" stroke="#c4c4c4" stroke-width="1"/>
<line x1="674.90" y1="988.00" x2="674.90" y2="957.13" stroke="#c4c4c4" stroke-width="1"/>
<line x1="675.20" y1="988.00" x2="675.20" y2="950.40" stroke="#c4c4c4" stroke-width="1"/>
<line x1="675.50" y1="988.00" x2="675.50" y2="973.71" stroke="#c4c4c4" stroke-width="1"/>
<line x1="676.20" y1="988.00" x2="676.20" y2="970.59" stroke="#c4c4c4" stroke-width="1"/>
<line x1="676.60" y1="988.00" x2="676.60" y2="960.07" stroke="#c4c4c4" stroke-width="1"/>
<line x1="677.10" y1="988.00" x2="677.10" y2="957.27" stroke="#c4c4c4" stroke-width="1"/>
<line x1="677.90" y1="988.00" x2="677.90" y2="914.12" stroke="#c4c4c4" stroke-width="1"/>
<line x1="678.40" y1="988.00" x2="678.40" y2="960.81" stroke="#c4c4c4" stroke-width="1"/>
<line x1="679.10" y1="988.00" x2="679.10" y2="959.81" stroke="#c4c4c4" stroke-width="1"/>
<line x1="679.80" y1="988.00" x2="679.80" y2="969.98" stroke="#c4c4c4" stroke-width="1"/>
<line x1="680.40" y1="988.00" x2="680.40" y2="959.36" stroke="#c4c4c4" stroke-width="1"/>
<line x1="681.10" y1="988.00" x2="681.10" y2="962.05" stroke="#c4c4c4" stroke-width="1"/>
<line x1="682.00" y1="988.00" x2="682.00" y2="951.82" stroke="#c4c4c4" stroke-width="1"/>
<line x1="682.90" y1="988.00" x2="682.90" y2="957.19" stroke="#c4c4c4" stroke-width="1"/>
<line x1="683.70" y1="988.00" x2="683.70" y2="968.08" stroke="#c4c4c4" stroke-width="1"/>
<line x1="684.30" y1="988.00" x2="684.30" y2="975.08" stroke="#c4c4c4" stroke-width="1"/>
<line x1="684.70" y1="988.00" x2="684.70" y2="969.48" stroke="#c4c4c4" stroke-width="1"/>
<line x1="685.50" y1="988.00" x2="685.50" y2="957.74" stroke="#c4c4c4" stroke-width="1"/>
<line x1="686.30" y1="988.00" x2="686.30" y2="964.63" stroke="#c4c4c4" stroke-width="1"/>
<line x1="686.90" y1="988.00" x2="686.90" y2="943.98" stroke="#c4c4c4" stroke-width="1"/>
<line x1="687.90" y1="988.00" x2="687.90" y2="959.31" stroke="#c4c4c4" stroke-width="1"/>
<line x1="688.60" y1="988.00" x2="688.60" y2="961.96" stroke="#c4c4c4" stroke-width="1"/>
<line x1="688.90" y1="988.00" x2="688.90" y2="974.17" stroke="#c4c4c4" stroke-width="1"/>
<line x1="689.50" y1="988.00" x2="689.50" y2="975.66" stroke="#c4c4c4" stroke-width="1"/>
<line x1="690.00" y1="988.00" x2="690.00" y2="948.90" stroke="#c4c4c4" stroke-width="1"/>
<line x1="690.00" y1="988.00" x2="690.00" y2="976.88" stroke="#c4c4c4" stroke-width="1"/>
<line x1="691.60" y1="988.00" x2="691.60" y2="982.41" stroke="#c4c4c4" stroke-width="1"/>
<line x1="692.80" y1="988.00" x2="692.80" y2="982.72" stroke="#c4c4c4" stroke-width="1"/>
<line x1="693.50" y1="988.00" x2="693.50" y2="958.21" stroke="#c4c4c4" stroke-width="1"/>
<line x1="694.20" y1="988.00" x2="694.20" y2="974.66" stroke="#c4c4c4" stroke-width="1"/>
<line x1="695.00" y1="988.00" x2="695.00" y2="979.09" stroke="#c4c4c4" stroke-width="1"/>
<line x1="697.10" y1="988.00" x2="697.10" y2="971.30" stroke="#c4c4c4" stroke-width="1"/>
<line x1="699.30" y1="988.00" x2="699.30" y2="982.98" stroke="#c4c4c4" stroke-width="1"/>
<line x1="700.40" y1="988.00" x2="700.40" y2="972.22" stroke="#c4c4c4" stroke-width="1"/>
<line x1="701.50" y1="988.00" x2="701.50" y2="966.05" stroke="#c4c4c4" stroke-width="1"/>
<line x1="703.00" y1="988.00" x2="703.00" y2="969.94" stroke="#c4c4c4" stroke-width="1"/>
<line x1="704.50" y1="988.00" x2="704.50" y2="976.16" stroke="#c4c4c4" stroke-width="1"/>
<line x1="705.40" y1="988.00" x2="705.40" y2="969.03" stroke="#c4c4c4" stroke-width="1"/>
<line x1="706.50" y1="988.00" x2="706.50" y2="971.12" stroke="#c4c4c4" stroke-width="1"/>
<line x1="707.60" y1="988.00" x2="707.60" y2="966.52" stroke="#c4c4c4" stroke-width="1"/>
<line x1="708.60" y1="988.00" x2="708.60" y2="971.36" stroke="#c4c4c4" stroke-width="1"/>
<line x1="710.60" y1="988.00" x2="710.60" y2="967.95" stroke="#c4c4c4" stroke-width="1"/>
<line x1="712.70" y1="988.00" x2="712.70" y2="981.40" stroke="#c4c4c4" stroke-width="1"/>
<line x1="714.60" y1="988.00" x2="714.60" y2="980.66" stroke="#c4c4c4" stroke-width="1"/>
<line x1="715.20" y1="988.00" x2="715.20" y2="969.30" stroke="#c4c4c4" stroke-width="1"/>
<line x1="716.70" y1="988.00" x2="716.70" y2="964.74" stroke="#c4c4c4" stroke-width="1"/>
<line x1="718.40" y1="988.00" x2="718.40" y2="970.92" stroke="#c4c4c4" stroke-width="1"/>
<line x1="719.80" y1="988.00" x2="719.80" y2="965.52" stroke="#c4c4c4" stroke-width="1"/>
<line x1="721.10" y1="988.00" x2="721.10" y2="947.06" stroke="#c4c4c4" stroke-width="1"/>
<line x1="722.90" y1="988.00" x2="722.90" y2="969.76" stroke="#c4c4c4" stroke-width="1"/>
<line x1="724.80" y1="988.00" x2="724.80" y2="977.74" stroke="#c4c4c4" stroke-width="1"/>
<line x1="726.40" y1="988.00" x2="726.40" y2="983.50" stroke="#c4c4c4" stroke-width="1"/>
<line x1="727.30" y1="988.00" x2="727.30" y2="973.53" stroke="#c4c4c4" stroke-width="1"/>
<line x1="729.10" y1="988.00" x2="729.10" y2="981.15" stroke="#c4c4c4" stroke-width="1"/>
<line x1="730.40" y1="988.00" x2="730.40" y2="937.02" stroke="#c4c4c4" stroke-width="1"/>
<line x1="731.70" y1="988.00" x2="731.70" y2="971.91" stroke="#c4c4c4" stroke-width="1"/>
<line x1="733.60" y1="988.00" x2="733.60" y2="964.99" stroke="#c4c4c4" stroke-width="1"/>
<line x1="734.90" y1="988.00" x2="734.90" y2="976.11" stroke="#c4c4c4" stroke-width="1"/>
<line x1="737.00" y1="988.00" x2="737.00" y2="980.68" stroke="#c4c4c4" stroke-width="1"/>
<line x1="738.00" y1="988.00" x2="738.00" y2="978.87" stroke="#c4c4c4" stroke-width="1"/>
<line x1="739.50" y1="988.00" x2="739.50" y2="966.48" stroke="#c4c4c4" stroke-width="1"/>
<line x1="740.80" y1="988.00" x2="740.80" y2="975.88" stroke="#c4c4c4" stroke-width="1"/>
<line x1="742.90" y1="988.00" x2="742.90" y2="968.81" stroke="#c4c4c4" stroke-width="1"/>
<line x1="744.50" y1="988.00" x2="744.50" y2="946.47" stroke="#c4c4c4" stroke-width="1"/>
<line x1="746.50" y1="988.00" x2="746.50" y2="966.84" stroke="#c4c4c4" stroke-width="1"/>
<line x1="748.40" y1="988.00" x2="748.40" y2="975.37" stroke="#c4c4c4" stroke-width="1"/>
<line x1="749.20" y1="988.00" x2="749.20" y2="948.50" stroke="#c4c4c4" stroke-width="1"/>
<line x1="749.90" y1="988.00" x2="749.90" y2="979.41" stroke="#c4c4c4" stroke-width="1"/>
<line x1="751.00" y1="988.00" x2="751.00" y2="976.66" stroke="#c4c4c4" stroke-width="1"/>
<line x1="751.90" y1="988.00" x2="751.90" y2="981.77" stroke="#c4c4c4" stroke-width="1"/>
<line x1="752.50" y1="988.00" x2="752.50" y2="964.76" stroke="#c4c4c4" stroke-width="1"/>
<line x1="753.30" y1="988.00" x2="753.30" y2="978.45" stroke="#c4c4c4" stroke-width="1"/>
<line x1="754.50" y1="988.00" x2="754.50" y2="981.30" stroke="#c4c4c4" stroke-width="1"/>
<line x1="756.70" y1="988.00" x2="756.70" y2="973.75" stroke="#c4c4c4" stroke-width="1"/>
<line x1="757.50" y1="988.00" x2="757.50" y2="981.75" stroke="#c4c4c4" stroke-width="1"/>
<line x1="758.50" y1="988.00" x2="758.50" y2="965.77" stroke="#c4c4c4" stroke-width="1"/>
<line x1="759.10" y1="988.00" x2="759.10" y2="963.08" stroke="#c4c4c4" stroke-width="1"/>
<line x1="759.90" y1="988.00" x2="759.90" y2="952.91" stroke="#c4c4c4" stroke-width="1"/>
<line x1="760.00" y1="988.00" x2="760.00" y2="986.04" stroke="#c4c4c4" stroke-width="1"/>
<line x1="761.20" y1="988.00" x2="761.20" y2="983.08" stroke="#c4c4c4" stroke-width="1"/>
<line x1="765.60" y1="988.00" x2="765.60" y2="986.31" stroke="#c4c4c4" stroke-width="1"/>
<line x1="767.00" y1="988.00" x2="767.00" y2="984.98" stroke="#c4c4c4" stroke-width="1"/>
<line x1="770.40" y1="988.00" x2="770.40" y2="985.85" stroke="#c4c4c4" stroke-width="1"/>
<line x1="774.00" y1="988.00" x2="774.00" y2="985.93" stroke="#c4c4c4" stroke-width="1"/>
<line x1="776.40" y1="988.00" x2="776.40" y2="987.36" stroke="#c4c4c4" stroke-width="1"/>
<line x1="778.20" y1="988.00" x2="778.20" y2="986.83" stroke="#c4c4c4" stroke-width="1"/>
<line x1="780.80" y1="988.00" x2="780.80" y2="983.24" stroke="#c4c4c4" stroke-width="1"/>
<line x1="784.10" y1="988.00" x2="784.10" y2="986.38" stroke="#c4c4c4" stroke-width="1"/>
<line x1="786.10" y1="988.00" x2="786.10" y2="984.19" stroke="#c4c4c4" stroke-width="1"/>
<line x1="788.20" y1="988.00" x2="788.20" y2="987.42" stroke="#c4c4c4" stroke-width="1"/>
<line x1="790.70" y1="988.00" x2="790.70" y2="987.19" stroke="#c4c4c4" stroke-width="1"/>
<line x1="792.80" y1="988.00" x2="792.80" y2="985.63" stroke="#c4c4c4" stroke-width="1"/>
<line x1="795.80" y1="988.00" x2="795.80" y2="983.68" stroke="#c4c4c4" stroke-width="1"/>
<line x1="797.30" y1="988.00" x2="797.30" y2="986.14" stroke="#c4c4c4" stroke-width="1"/>
<line x1="800.40" y1="988.00" x2="800.40" y2="985.36" stroke="#c4c4c4" stroke-width="1"/>
<line x1="801.90" y1="988.00" x2="801.90" y2="984.12" stroke="#c4c4c4" stroke-width="1"/>
<line x1="805.10" y1="988.00" x2="805.10" y2="984.34" stroke="#c4c4c4" stroke-width="1"/>
<line x1="806.40" y1="988.00" x2="806.40" y2="986.65" stroke="#c4c4c4" stroke-width="1"/>
<line x1="809.80" y1="988.00" x2="809.80" y2="985.23" stroke="#c4c4c4" stroke-width="1"/>
<line x1="812.00" y1="988.00" x2="812.00" y2="986.40" stroke="#c4c4c4" stroke-width="1"/>
<line x1="816.40" y1="988.00" x2="816.40" y2="985.25" stroke="#c4c4c4" stroke-width="1"/>
<line x1="818.00" y1="988.00" x2="818.00" y2="984.79" stroke="#c4c4c4" stroke-width="1"/>
<line x1="821.20" y1="988.00" x2="821.20" y2="986.25" stroke="#c4c4c4" stroke-width="1"/>
<line x1="825.20" y1="988.00" x2="825.20" y2="986.10" stroke="#c4c4c4" stroke-width="1"/>
<line x1="827.40" y1="988.00" x2="827.40" y2="985.31" stroke="#c4c4c4" stroke-width="1"/>
<line x1="830.10" y1="988.00" x2="830.10" y2="983.16" stroke="#c4c4c4" stroke-width="1"/>
<line x1="832.80" y1="988.00" x2="832.80" y2="984.60" stroke="#c4c4c4" stroke-width="1"/>
<line x1="836.20" y1="988.00" x2="836.20" y2="984.02" stroke="#c4c4c4" stroke-width="1"/>
<line x1="838.70" y1="988.00" x2="838.70" y2="987.21" stroke="#c4c4c4" stroke-width="1"/>
<line x1="841.80" y1="988.00" x2="841.80" y2="984.39" stroke="#c4c4c4" stroke-width="1"/>
<line x1="845.20" y1="988.00" x2="845.20" y2="985.00" stroke="#c4c4c4" stroke-width="1"/>
<line x1="847.90" y1="988.00" x2="847.90" y2="986.20" stroke="#c4c4c4" stroke-width="1"/>
<line x1="850.80" y1="988.00" x2="850.80" y2="984.66" stroke="#c4c4c4" stroke-width="1"/>
<line x1="854.40" y1="988.00" x2="854.40" y2="985.12" stroke="#c4c4c4" stroke-width="1"/>
<line x1="858.30" y1="988.00" x2="858.30" y2="987.40" stroke="#c4c4c4" stroke-width="1"/>
<line x1="860.50" y1="988.00" x2="860.50" y2="984.47" stroke="#c4c4c4" stroke-width="1"/>
<line x1="864.90" y1="988.00" x2="864.90" y2="987.03" stroke="#c4c4c4" stroke-width="1"/>
<line x1="867.60" y1="988.00" x2="867.60" y2="984.15" stroke="#c4c4c4" stroke-width="1"/>
<line x1="869.30" y1="988.00" x2="869.30" y2="984.15" stroke="#c4c4c4" stroke-width="1"/>
<line x1="872.40" y1="988.00" x2="872.40" y2="983.44" stroke="#c4c4c4" stroke-width="1"/>
<line x1="875.00" y1="988.00" x2="875.00" y2="985.26" stroke="#c4c4c4" stroke-width="1"/>
<line x1="878.80" y1="988.00" x2="878.80" y2="987.22" stroke="#c4c4c4" stroke-width="1"/>
<line x1="883.00" y1="988.00" x2="883.00" y2="985.47" stroke="#c4c4c4" stroke-width="1"/>
<line x1="887.00" y1="988.00" x2="887.00" y2="986.65" stroke="#c4c4c4" stroke-width="1"/>
<line x1="888.20" y1="988.00" x2="888.20" y2="986.86" stroke="#c4c4c4" stroke-width="1"/>
<line x1="891.70" y1="988.00" x2="891.70" y2="986.92" stroke="#c4c4c4" stroke-width="1"/>
<line x1="894.90" y1="988.00" x2="894.90" y2="984.47" stroke="#c4c4c4" stroke-width="1"/>
<line x1="897.70" y1="988.00" x2="897.70" y2="987.48" stroke="#c4c4c4" stroke-width="1"/>
<line x1="901.70" y1="988.00" x2="901.70" y2="987.01" stroke="#c4c4c4" stroke-width="1"/>
<line x1="905.00" y1="988.00" x2="905.00" y2="984.18" stroke="#c4c4c4" stroke-width="1"/>
<line x1="907.90" y1="988.00" x2="907.90" y2="986.03" stroke="#c4c4c4" stroke-width="1"/>
<line x1="909.20" y1="988.00" x2="909.20" y2="986.34" stroke="#c4c4c4" stroke-width="1"/>
<line x1="911.00" y1="988.00" x2="911.00" y2="983.71" stroke="#c4c4c4" stroke-width="1"/>
<line x1="914.20" y1="988.00" x2="914.20" y2="984.65" stroke="#c4c4c4" stroke-width="1"/>
<line x1="918.10" y1="988.00" x2="918.10" y2="987.23" stroke="#c4c4c4" stroke-width="1"/>
<line x1="921.80" y1="988.00" x2="921.80" y2="984.18" stroke="#c4c4c4" stroke-width="1"/>
<line x1="925.20" y1="988.00" x2="925.20" y2="986.18" stroke="#c4c4c4" stroke-width="1"/>
<line x1="928.20" y1="988.00" x2="928.20" y2="983.84" stroke="#c4c4c4" stroke-width="1"/>
<line x1="930.30" y1="988.00" x2="930.30" y2="986.06" stroke="#c4c4c4" stroke-width="1"/>
<line x1="933.90" y1="988.00" x2="933.90" y2="985.29" stroke="#c4c4c4" stroke-width="1"/>
<line x1="937.90" y1="988.00" x2="937.90" y2="985.15" stroke="#c4c4c4" stroke-width="1"/>
<line x1="941.50" y1="988.00" x2="941.50" y2="985.71" stroke="#c4c4c4" stroke-width="1"/>
<line x1="944.50" y1="988.00" x2="944.50" y2="983.27" stroke="#c4c4c4" stroke-width="1"/>
<line x1="948.70" y1="988.00" x2="948.70" y2="984.93" stroke="#c4c4c4" stroke-width="1"/>
<line x1="950.90" y1="988.00" x2="950.90" y2="985.03" stroke="#c4c4c4" stroke-width="1"/>
<line x1="954.50" y1="988.00" x2="954.50" y2="983.73" stroke="#c4c4c4" stroke-width="1"/>
<line x1="956.50" y1="988.00" x2="956.50" y2="984.59" stroke="#c4c4c4" stroke-width="1"/>
<line x1="958.60" y1="988.00" x2="958.60" y2="980.92" stroke="#c4c4c4" stroke-width="1"/>
<line x1="962.60" y1="988.00" x2="962.60" y2="985.07" stroke="#c4c4c4" stroke-width="1"/>
<line x1="965.10" y1="988.00" x2="965.10" y2="984.11" stroke="#c4c4c4" stroke-width="1"/>
<line x1="969.30" y1="988.00" x2="969.30" y2="984.54" stroke="#c4c4c4" stroke-width="1"/>
<line x1="971.10" y1="988.00" x2="971.10" y2="984.69" stroke="#c4c4c4" stroke-width="1"/>
<line x1="972.50" y1="988.00" x2="972.50" y2="983.67" stroke="#c4c4c4" stroke-width="1"/>
<line x1="976.20" y1="988.00" x2="976.20" y2="985.32" stroke="#c4c4c4" stroke-width="1"/>
<line x1="978.60" y1="988.00" x2="978.60" y2="983.81" stroke="#c4c4c4" stroke-width="1"/>
<line x1="981.00" y1="988.00" x2="981.00" y2="984.99" stroke="#c4c4c4" stroke-width="1"/>
<line x1="985.20" y1="988.00" x2="985.20" y2="985.44" stroke="#c4c4c4" stroke-width="1"/>
<line x1="988.20" y1="988.00" x2="988.20" y2="987.06" stroke="#c4c4c4" stroke-width="1"/>
<line x1="991.90" y1="988.00" x2="991.90" y2="984.85" stroke="#c4c4c4" stroke-width="1"/>
<line x1="993.60" y1="988.00" x2="993.60" y2="983.60" stroke="#c4c4c4" stroke-width="1"/>
<line x1="997.60" y1="988.00" x2="997.60" y2="986.70" stroke="#c4c4c4" stroke-width="1"/>
<line x1="1000.20" y1="988.00" x2="1000.20" y2="985.58" stroke="#c4c4c4" stroke-width="1"/>
<line x1="1003.50" y1="988.00" x2="1003.50" y2="984.92" stroke="#c4c4c4" stroke-width="1"/>
<line x1="1004.80" y1="988.00" x2="1004.80" y2="986.70" stroke="#c4c4c4" stroke-width="1"/>
<line x1="1008.80" y1="988.00" x2="1008.80" y2="984.48" stroke="#c4c4c4" stroke-width="1"/>
<line x1="1011.70" y1="988.00" x2="1011.70" y2="984.62" stroke="#c4c4c4" stroke-width="1"/>
<line x1="1015.90" y1="988.00" x2="1015.90" y2="977.82" stroke="#c4c4c4" stroke-width="1"/>
<line x1="1018.00" y1="988.00" x2="1018.00" y2="986.26" stroke="#c4c4c4" stroke-width="1"/>
<line x1="1022.10" y1="988.00" x2="1022.10" y2="983.25" stroke="#c4c4c4" stroke-width="1"/>
<line x1="1025.00" y1="988.00" x2="1025.00" y2="984.95" stroke="#c4c4c4" stroke-width="1"/>
<line x1="1028.30" y1="988.00" x2="1028.30" y2="985.04" stroke="#c4c4c4" stroke-width="1"/>
<line x1="1032.40" y1="988.00" x2="1032.40" y2="985.08" stroke="#c4c4c4" stroke-width="1"/>
<line x1="1035.40" y1="988.00" x2="1035.40" y2="983.31" stroke="#c4c4c4" stroke-width="1"/>
<line x1="1038.70" y1="988.00" x2="1038.70" y2="985.19" stroke="#c4c4c4" stroke-width="1"/>
<line x1="1041.20" y1="988.00" x2="1041.20" y2="986.45" stroke="#c4c4c4" stroke-width="1"/>
<line x1="1045.00" y1="988.00" x2="1045.00" y2="979.57" stroke="#c4c4c4" stroke-width="1"/>
<line x1="1046.90" y1="988.00" x2="1046.90" y2="987.17" stroke="#c4c4c4" stroke-width="1"/>
<line x1="1048.10" y1="988.00" x2="1048.10" y2="984.23" stroke="#c4c4c4" stroke-width="1"/>
<line x1="1051.40" y1="988.00" x2="1051.40" y2="983.76" stroke="#c4c4c4" stroke-width="1"/>
<line x1="1053.40" y1="988.00" x2="1053.40" y2="986.97" stroke="#c4c4c4" stroke-width="1"/>
<line x1="1057.80" y1="988.00" x2="1057.80" y2="983.55" stroke="#c4c4c4" stroke-width="1"/>
<line x1="1059.50" y1="988.00" x2="1059.50" y2="985.59" stroke="#c4c4c4" stroke-width="1"/>
<line x1="1061.00" y1="988.00" x2="1061.00" y2="984.59" stroke="#c4c4c4" stroke-width="1"/>
<line x1="1065.10" y1="988.00" x2="1065.10" y2="983.61" stroke="#c4c4c4" stroke-width="1"/>
<line x1="1068.90" y1="988.00" x2="1068.90" y2="986.58" stroke="#c4c4c4" stroke-width="1"/>
<line x1="1070.30" y1="988.00" x2="1070.30" y2="987.07" stroke="#c4c4c4" stroke-width="1"/>
<line x1="1072.70" y1="988.00" x2="1072.70" y2="984.15" stroke="#c4c4c4" stroke-width="1"/>
<line x1="1074.40" y1="988.00" x2="1074.40" y2="986.20" stroke="#c4c4c4" stroke-width="1"/>
<line x1="1076.00" y1="988.00" x2="1076.00" y2="986.77" stroke="#c4c4c4" stroke-width="1"/>
<line x1="1079.70" y1="988.00" x2="1079.70" y2="984.43" stroke="#c4c4c4" stroke-width="1"/>
<line x1="1082.50" y1="988.00" x2="1082.50" y2="983.95" stroke="#c4c4c4" stroke-width="1"/>
<line x1="1084.40" y1="988.00" x2="1084.40" y2="985.80" stroke="#c4c4c4" stroke-width="1"/>
<line x1="212.50" y1="988.00" x2="212.50" y2="974.25" stroke="#6a66cc" stroke-width="1.3"/>
<line x1="246.75" y1="988.00" x2="246.75" y2="961.25" stroke="#c4c4c4" stroke-width="1.3"/>
<line x1="279.50" y1="988.00" x2="279.50" y2="957.50" stroke="#c4c4c4" stroke-width="1.3"/>
<line x1="319.50" y1="988.00" x2="319.50" y2="941.25" stroke="#c4c4c4" stroke-width="1.3"/>
<line x1="320.00" y1="988.00" x2="320.00" y2="972.50" stroke="#6a66cc" stroke-width="1.3"/>
<line x1="358.25" y1="988.00" x2="358.25" y2="955.00" stroke="#c25a62" stroke-width="1.3"/>
<line x1="371.25" y1="988.00" x2="371.25" y2="893.75" stroke="#c25a62" stroke-width="1.5"/>
<line x1="408.00" y1="988.00" x2="408.00" y2="947.50" stroke="#c4c4c4" stroke-width="1.3"/>
<line x1="422.50" y1="988.00" x2="422.50" y2="942.50" stroke="#c4c4c4" stroke-width="1.3"/>
<line x1="413.75" y1="988.00" x2="413.75" y2="976.00" stroke="#6a66cc" stroke-width="1.3"/>
<line x1="507.00" y1="988.00" x2="507.00" y2="871.00" stroke="#c4c4c4" stroke-width="1.3"/>
<line x1="510.60" y1="988.00" x2="510.60" y2="889.80" stroke="#4f9a55" stroke-width="1.6"/>
<line x1="517.00" y1="988.00" x2="517.00" y2="828.20" stroke="#4f9a55" stroke-width="2.2"/>
<line x1="624.50" y1="988.00" x2="624.50" y2="833.60" stroke="#c4c4c4" stroke-width="1.3"/>
<line x1="676.00" y1="988.00" x2="676.00" y2="897.90" stroke="#6a66cc" stroke-width="1.5"/>
<line x1="495.60" y1="988.00" x2="495.60" y2="934.00" stroke="#6a66cc" stroke-width="2"/>
<line x1="499.60" y1="988.00" x2="499.60" y2="936.70" stroke="#6a66cc" stroke-width="2"/>
<line x1="502.60" y1="988.00" x2="502.60" y2="944.70" stroke="#6a66cc" stroke-width="2"/>
<line x1="487.00" y1="988.00" x2="487.00" y2="967.50" stroke="#6a66cc" stroke-width="1.3"/>
<line x1="471.00" y1="988.00" x2="471.00" y2="959.50" stroke="#c25a62" stroke-width="1.3"/>
<line x1="463.80" y1="988.00" x2="463.80" y2="967.50" stroke="#c25a62" stroke-width="1.3"/>
<line x1="456.80" y1="988.00" x2="456.80" y2="964.80" stroke="#6a66cc" stroke-width="2"/>
<line x1="451.70" y1="988.00" x2="451.70" y2="975.50" stroke="#c25a62" stroke-width="1.3"/>
<line x1="446.00" y1="988.00" x2="446.00" y2="977.00" stroke="#6a66cc" stroke-width="1.3"/>
<line x1="569.30" y1="988.00" x2="569.30" y2="956.80" stroke="#6a66cc" stroke-width="1.3"/>
<line x1="575.50" y1="988.00" x2="575.50" y2="966.00" stroke="#c25a62" stroke-width="1.3"/>
<line x1="582.70" y1="988.00" x2="582.70" y2="956.80" stroke="#6a66cc" stroke-width="1.3"/>
<line x1="588.90" y1="988.00" x2="588.90" y2="952.80" stroke="#c25a62" stroke-width="1.3"/>
<line x1="658.50" y1="988.00" x2="658.50" y2="960.80" stroke="#c25a62" stroke-width="1.3"/>
<line x1="663.90" y1="988.00" x2="663.90" y2="964.30" stroke="#6a66cc" stroke-width="1.3"/>
<line x1="671.90" y1="988.00" x2="671.90" y2="972.90" stroke="#c25a62" stroke-width="1.3"/>
<line x1="601.00" y1="988.00" x2="601.00" y2="903.20" stroke="#c4c4c4" stroke-width="1.3"/>
<line x1="591.50" y1="988.00" x2="591.50" y2="912.60" stroke="#c4c4c4" stroke-width="1.3"/>
<line x1="597.40" y1="988.00" x2="597.40" y2="908.60" stroke="#c4c4c4" stroke-width="1.3"/>
<line x1="651.80" y1="988.00" x2="651.80" y2="919.30" stroke="#c4c4c4" stroke-width="1.3"/>
<line x1="639.80" y1="988.00" x2="639.80" y2="919.00" stroke="#c4c4c4" stroke-width="1.3"/>
<line x1="621.00" y1="988.00" x2="621.00" y2="920.60" stroke="#c4c4c4" stroke-width="1.3"/>
<line x1="491.00" y1="988.00" x2="491.00" y2="918.00" stroke="#c4c4c4" stroke-width="1.3"/>
<line x1="503.00" y1="988.00" x2="503.00" y2="912.60" stroke="#c4c4c4" stroke-width="1.3"/>
<line x1="756.30" y1="988.00" x2="756.30" y2="907.10" stroke="#6a66cc" stroke-width="1.5"/>
<line x1="767.10" y1="988.00" x2="767.10" y2="921.40" stroke="#c4c4c4" stroke-width="1.3"/>
<line x1="694.30" y1="988.00" x2="694.30" y2="935.70" stroke="#c4c4c4" stroke-width="1.3"/>
<line x1="727.10" y1="988.00" x2="727.10" y2="944.30" stroke="#c4c4c4" stroke-width="1.3"/>
<line x1="732.90" y1="988.00" x2="732.90" y2="965.70" stroke="#c4c4c4" stroke-width="1.3"/>
<line x1="740.00" y1="988.00" x2="740.00" y2="975.70" stroke="#c25a62" stroke-width="1.3"/>
<line x1="800.60" y1="988.00" x2="800.60" y2="960.00" stroke="#c4c4c4" stroke-width="1.3"/>
<line x1="835.70" y1="988.00" x2="835.70" y2="970.00" stroke="#c25a62" stroke-width="1.5"/>
<line x1="881.40" y1="988.00" x2="881.40" y2="969.40" stroke="#c4c4c4" stroke-width="1.3"/>
<line x1="975.70" y1="988.00" x2="975.70" y2="968.00" stroke="#c25a62" stroke-width="1.5"/>
<line x1="109.80" y1="772.00" x2="109.80" y2="988.50" stroke="#505050" stroke-width="1.4"/>
<line x1="105.80" y1="988.00" x2="109.80" y2="988.00" stroke="#505050" stroke-width="1.1"/>
<line x1="107.60" y1="981.16" x2="109.80" y2="981.16" stroke="#505050" stroke-width="1"/>
<line x1="107.60" y1="974.32" x2="109.80" y2="974.32" stroke="#505050" stroke-width="1"/>
<line x1="107.60" y1="967.48" x2="109.80" y2="967.48" stroke="#505050" stroke-width="1"/>
<line x1="105.80" y1="960.64" x2="109.80" y2="960.64" stroke="#505050" stroke-width="1.1"/>
<line x1="107.60" y1="953.80" x2="109.80" y2="953.80" stroke="#505050" stroke-width="1"/>
<line x1="107.60" y1="946.96" x2="109.80" y2="946.96" stroke="#505050" stroke-width="1"/>
<line x1="107.60" y1="940.12" x2="109.80" y2="940.12" stroke="#505050" stroke-width="1"/>
<line x1="105.80" y1="933.28" x2="109.80" y2="933.28" stroke="#505050" stroke-width="1.1"/>
<line x1="107.60" y1="926.44" x2="109.80" y2="926.44" stroke="#505050" stroke-width="1"/>
<line x1="107.60" y1="919.60" x2="109.80" y2="919.60" stroke="#505050" stroke-width="1"/>
<line x1="107.60" y1="912.76" x2="109.80" y2="912.76" stroke="#505050" stroke-width="1"/>
<line x1="105.80" y1="905.92" x2="109.80" y2="905.92" stroke="#505050" stroke-width="1.1"/>
<line x1="107.60" y1="899.08" x2="109.80" y2="899.08" stroke="#505050" stroke-width="1"/>
<line x1="107.60" y1="892.24" x2="109.80" y2="892.24" stroke="#505050" stroke-width="1"/>
<line x1="107.60" y1="885.40" x2="109.80" y2="885.40" stroke="#505050" stroke-width="1"/>
<line x1="105.80" y1="878.56" x2="109.80" y2="878.56" stroke="#505050" stroke-width="1.1"/>
<line x1="107.60" y1="871.72" x2="109.80" y2="871.72" stroke="#505050" stroke-width="1"/>
<line x1="107.60" y1="864.88" x2="109.80" y2="864.88" stroke="#505050" stroke-width="1"/>
<line x1="107.60" y1="858.04" x2="109.80" y2="858.04" stroke="#505050" stroke-width="1"/>
<line x1="105.80" y1="851.20" x2="109.80" y2="851.20" stroke="#505050" stroke-width="1.1"/>
<line x1="107.60" y1="844.36" x2="109.80" y2="844.36" stroke="#505050" stroke-width="1"/>
<line x1="107.60" y1="837.52" x2="109.80" y2="837.52" stroke="#505050" stroke-width="1"/>
<line x1="107.60" y1="830.68" x2="109.80" y2="830.68" stroke="#505050" stroke-width="1"/>
<line x1="105.80" y1="823.84" x2="109.80" y2="823.84" stroke="#505050" stroke-width="1.1"/>
<line x1="107.60" y1="817.00" x2="109.80" y2="817.00" stroke="#505050" stroke-width="1"/>
<line x1="107.60" y1="810.16" x2="109.80" y2="810.16" stroke="#505050" stroke-width="1"/>
<line x1="107.60" y1="803.32" x2="109.80" y2="803.32" stroke="#505050" stroke-width="1"/>
<line x1="105.80" y1="796.48" x2="109.80" y2="796.48" stroke="#505050" stroke-width="1.1"/>
<line x1="107.60" y1="789.64" x2="109.80" y2="789.64" stroke="#505050" stroke-width="1"/>
<line x1="107.60" y1="782.80" x2="109.80" y2="782.80" stroke="#505050" stroke-width="1"/>
<line x1="107.60" y1="775.96" x2="109.80" y2="775.96" stroke="#505050" stroke-width="1"/>
<text x="100" y="990.90" font-family="Liberation Sans" font-size="9" fill="#444444" stroke="#444444" stroke-width="0.25" text-anchor="end">0</text>
<text x="100" y="963.54" font-family="Liberation Sans" font-size="9" fill="#444444" stroke="#444444" stroke-width="0.25" text-anchor="end">200</text>
<text x="100" y="936.18" font-family="Liberation Sans" font-size="9" fill="#444444" stroke="#444444" stroke-width="0.25" text-anchor="end">400</text>
<text x="100" y="908.82" font-family="Liberation Sans" font-size="9" fill="#444444" stroke="#444444" stroke-width="0.25" text-anchor="end">600</text>
<text x="100" y="881.46" font-family="Liberation Sans" font-size="9" fill="#444444" stroke="#444444" stroke-width="0.25" text-anchor="end">800</text>
<text x="100" y="854.10" font-family="Liberation Sans" font-size="9" fill="#444444" stroke="#444444" stroke-width="0.25" text-anchor="end">1000</text>
<text x="100" y="826.74" font-family="Liberation Sans" font-size="9" fill="#444444" stroke="#444444" stroke-width="0.25" text-anchor="end">1200</text>
<text x="100" y="799.38" font-family="Liberation Sans" font-size="9" fill="#444444" stroke="#444444" stroke-width="0.25" text-anchor="end">1400</text>
<text transform="translate(71,879.5) rotate(-90)" font-family="Liberation Sans" font-size="10.7" fill="#444444" stroke="#444444" stroke-width="0.3" text-anchor="middle">Intensity [counts]</text>
<line x1="103.80" y1="988.00" x2="1090.00" y2="988.00" stroke="#505050" stroke-width="1.6"/>
<line x1="109.80" y1="988.00" x2="109.80" y2="992.50" stroke="#505050" stroke-width="1"/>
<line x1="145.97" y1="988.00" x2="145.97" y2="990.50" stroke="#505050" stroke-width="1"/>
<line x1="182.15" y1="988.00" x2="182.15" y2="990.50" stroke="#505050" stroke-width="1"/>
<line x1="218.32" y1="988.00" x2="218.32" y2="990.50" stroke="#505050" stroke-width="1"/>
<line x1="254.50" y1="988.00" x2="254.50" y2="992.50" stroke="#505050" stroke-width="1"/>
<line x1="290.68" y1="988.00" x2="290.68" y2="990.50" stroke="#505050" stroke-width="1"/>
<line x1="326.85" y1="988.00" x2="326.85" y2="990.50" stroke="#505050" stroke-width="1"/>
<line x1="363.03" y1="988.00" x2="363.03" y2="990.50" stroke="#505050" stroke-width="1"/>
<line x1="399.20" y1="988.00" x2="399.20" y2="992.50" stroke="#505050" stroke-width="1"/>
<line x1="435.38" y1="988.00" x2="435.38" y2="990.50" stroke="#505050" stroke-width="1"/>
<line x1="471.55" y1="988.00" x2="471.55" y2="990.50" stroke="#505050" stroke-width="1"/>
<line x1="507.73" y1="988.00" x2="507.73" y2="990.50" stroke="#505050" stroke-width="1"/>
<line x1="543.90" y1="988.00" x2="543.90" y2="992.50" stroke="#505050" stroke-width="1"/>
<line x1="580.08" y1="988.00" x2="580.08" y2="990.50" stroke="#505050" stroke-width="1"/>
<line x1="616.25" y1="988.00" x2="616.25" y2="990.50" stroke="#505050" stroke-width="1"/>
<line x1="652.42" y1="988.00" x2="652.42" y2="990.50" stroke="#505050" stroke-width="1"/>
<line x1="688.60" y1="988.00" x2="688.60" y2="992.50" stroke="#505050" stroke-width="1"/>
<line x1="724.77" y1="988.00" x2="724.77" y2="990.50" stroke="#505050" stroke-width="1"/>
<line x1="760.95" y1="988.00" x2="760.95" y2="990.50" stroke="#505050" stroke-width="1"/>
<line x1="797.12" y1="988.00" x2="797.12" y2="990.50" stroke="#505050" stroke-width="1"/>
<line x1="833.30" y1="988.00" x2="833.30" y2="992.50" stroke="#505050" stroke-width="1"/>
<line x1="869.48" y1="988.00" x2="869.48" y2="990.50" stroke="#505050" stroke-width="1"/>
<line x1="905.65" y1="988.00" x2="905.65" y2="990.50" stroke="#505050" stroke-width="1"/>
<line x1="941.83" y1="988.00" x2="941.83" y2="990.50" stroke="#505050" stroke-width="1"/>
<line x1="978.00" y1="988.00" x2="978.00" y2="992.50" stroke="#505050" stroke-width="1"/>
<line x1="1014.17" y1="988.00" x2="1014.17" y2="990.50" stroke="#505050" stroke-width="1"/>
<line x1="1050.35" y1="988.00" x2="1050.35" y2="990.50" stroke="#505050" stroke-width="1"/>
<line x1="1086.53" y1="988.00" x2="1086.53" y2="990.50" stroke="#505050" stroke-width="1"/>
<text x="109.80" y="1005.00" font-family="Liberation Sans" font-size="9" fill="#444444" stroke="#444444" stroke-width="0.25" text-anchor="middle">200</text>
<text x="254.50" y="1005.00" font-family="Liberation Sans" font-size="9" fill="#444444" stroke="#444444" stroke-width="0.25" text-anchor="middle">400</text>
<text x="399.20" y="1005.00" font-family="Liberation Sans" font-size="9" fill="#444444" stroke="#444444" stroke-width="0.25" text-anchor="middle">600</text>
<text x="543.90" y="1005.00" font-family="Liberation Sans" font-size="9" fill="#444444" stroke="#444444" stroke-width="0.25" text-anchor="middle">800</text>
<text x="688.60" y="1005.00" font-family="Liberation Sans" font-size="9" fill="#444444" stroke="#444444" stroke-width="0.25" text-anchor="middle">1000</text>
<text x="833.30" y="1005.00" font-family="Liberation Sans" font-size="9" fill="#444444" stroke="#444444" stroke-width="0.25" text-anchor="middle">1200</text>
<text x="978.00" y="1005.00" font-family="Liberation Sans" font-size="9" fill="#444444" stroke="#444444" stroke-width="0.25" text-anchor="middle">1400</text>
<text x="600" y="1022.3" font-family="Liberation Sans" font-size="11.5" fill="#444444" stroke="#444444" stroke-width="0.25" text-anchor="middle">m/z</text>
<path d="M339.5,933.8 L357.5,953.8" fill="none" stroke="#c04a50" stroke-width="1" stroke-dasharray="4,2.5"/>
<path d="M426.8,928.7 L446.9,974.2" fill="none" stroke="#5552b8" stroke-width="1" stroke-dasharray="4,2.5"/>
<text x="211.9" y="946.25" fill="#5552b8" stroke="#5552b8" stroke-width="0.25" font-family="Liberation Serif" font-size="13" text-anchor="middle" textLength="44.5" lengthAdjust="spacing"><tspan>y</tspan><tspan dy="1.56" font-size="6.8">3</tspan><tspan dy="-5.07" font-size="6.8">+</tspan><tspan dy="3.51">, y</tspan><tspan dy="1.56" font-size="6.8">6</tspan><tspan dy="-5.07" font-size="6.8">2+</tspan></text>
<text x="211.25" y="961.25" fill="#5552b8" stroke="#5552b8" stroke-width="0.25" font-family="Liberation Serif" font-size="13" text-anchor="middle"><tspan>341.26</tspan></text>
<text x="338.1" y="910" fill="#c04a50" stroke="#c04a50" stroke-width="0.25" font-family="Liberation Serif" font-size="13" text-anchor="middle" textLength="47.0" lengthAdjust="spacing"><tspan>b</tspan><tspan dy="1.56" font-size="6.8">5</tspan><tspan dy="-5.07" font-size="6.8">+</tspan><tspan dy="3.51">-H</tspan><tspan dy="1.56" font-size="6.8">2</tspan><tspan dy="-1.56">O</tspan></text>
<text x="336.75" y="927.5" fill="#c04a50" stroke="#c04a50" stroke-width="0.25" font-family="Liberation Serif" font-size="13" text-anchor="middle"><tspan>543.39</tspan></text>
<text x="370.5" y="865" fill="#c04a50" stroke="#c04a50" stroke-width="0.25" font-family="Liberation Serif" font-size="13" text-anchor="middle" letter-spacing="0.45"><tspan>b</tspan><tspan dy="1.56" font-size="6.8">5</tspan><tspan dy="-5.07" font-size="6.8">+</tspan></text>
<text x="370" y="882" fill="#c04a50" stroke="#c04a50" stroke-width="0.25" font-family="Liberation Serif" font-size="13" text-anchor="middle"><tspan>561.34</tspan></text>
<text x="426.1" y="906" fill="#5552b8" stroke="#5552b8" stroke-width="0.25" font-family="Liberation Serif" font-size="13" text-anchor="middle" textLength="47.7" lengthAdjust="spacing"><tspan>y</tspan><tspan dy="1.56" font-size="6.8">4</tspan><tspan dy="-5.07" font-size="6.8">+</tspan><tspan dy="3.51">-NH</tspan><tspan dy="1.56" font-size="6.8">3</tspan></text>
<text x="424.6" y="922" fill="#5552b8" stroke="#5552b8" stroke-width="0.25" font-family="Liberation Serif" font-size="13" text-anchor="middle"><tspan>664.10</tspan></text>
<text x="516.5" y="796" fill="#4f9a4a" stroke="#4f9a4a" stroke-width="0.25" font-family="Liberation Serif" font-size="13" text-anchor="middle" textLength="177.8" lengthAdjust="spacing"><tspan>[M+2H]</tspan><tspan dy="-3.51" font-size="6.8">2+</tspan><tspan dy="3.51">-H</tspan><tspan dy="1.56" font-size="6.8">2</tspan><tspan dy="-1.56">O, [M+2H]</tspan><tspan dy="-3.51" font-size="6.8">2+</tspan><tspan dy="3.51">-NH</tspan><tspan dy="1.56" font-size="6.8">3</tspan></text>
<text x="516.5" y="813.5" fill="#4f9a4a" stroke="#4f9a4a" stroke-width="0.25" font-family="Liberation Serif" font-size="13" text-anchor="middle"><tspan>763.15</tspan></text>
<text x="674.6" y="865.7" fill="#5552b8" stroke="#5552b8" stroke-width="0.25" font-family="Liberation Serif" font-size="13" text-anchor="middle" letter-spacing="0.45"><tspan>y</tspan><tspan dy="1.56" font-size="6.8">9</tspan><tspan dy="-5.07" font-size="6.8">+</tspan></text>
<text x="674.6" y="883.1" fill="#5552b8" stroke="#5552b8" stroke-width="0.25" font-family="Liberation Serif" font-size="13" text-anchor="middle"><tspan>982.47</tspan></text>
<text x="756.4" y="885.7" fill="#5552b8" stroke="#5552b8" stroke-width="0.25" font-family="Liberation Serif" font-size="13" text-anchor="middle" textLength="110.8" lengthAdjust="spacing"><tspan>y</tspan><tspan dy="1.56" font-size="6.8">10</tspan><tspan dy="-5.07" font-size="6.8">+</tspan><tspan dy="3.51">-H</tspan><tspan dy="1.56" font-size="6.8">2</tspan><tspan dy="-1.56">O, y</tspan><tspan dy="1.56" font-size="6.8">10</tspan><tspan dy="-5.07" font-size="6.8">+</tspan><tspan dy="3.51">-NH</tspan><tspan dy="1.56" font-size="6.8">3</tspan></text>
<text x="755.7" y="902.3" fill="#5552b8" stroke="#5552b8" stroke-width="0.25" font-family="Liberation Serif" font-size="13" text-anchor="middle"><tspan>1092.95</tspan></text>
<text x="835.7" y="941.4" fill="#c04a50" stroke="#c04a50" stroke-width="0.25" font-family="Liberation Serif" font-size="13" text-anchor="middle" letter-spacing="0.45"><tspan>b</tspan><tspan dy="1.56" font-size="6.8">11</tspan><tspan dy="-5.07" font-size="6.8">+</tspan></text>
<text x="835.7" y="957.1" fill="#c04a50" stroke="#c04a50" stroke-width="0.25" font-family="Liberation Serif" font-size="13" text-anchor="middle"><tspan>1202.76</tspan></text>
<text x="974.3" y="940" fill="#c04a50" stroke="#c04a50" stroke-width="0.25" font-family="Liberation Serif" font-size="13" text-anchor="middle" letter-spacing="0.45"><tspan>b</tspan><tspan dy="1.56" font-size="6.8">13</tspan><tspan dy="-5.07" font-size="6.8">+</tspan></text>
<text x="974.3" y="957" fill="#c04a50" stroke="#c04a50" stroke-width="0.25" font-family="Liberation Serif" font-size="13" text-anchor="middle"><tspan>1396.67</tspan></text>
<rect x="51.5" y="1077.8" width="1059.0" height="309.70000000000005" fill="none" stroke="#585858" stroke-width="1.7"/>
<text x="10" y="1105" font-family="Liberation Serif" font-weight="bold" font-size="46" fill="#111">D</text>
<text x="346" y="1091.8" font-family="Liberation Sans" font-size="11.1" fill="#5753c0" stroke="#5753c0" stroke-width="0.2" xml:space="preserve">#2681   RT: 11.14</text>
<text x="69" y="1103.8" font-family="Liberation Sans" font-size="11.1" fill="#5753c0" stroke="#5753c0" stroke-width="0.2">ITMS, CID, z=+2, Mono m/z=879.41974 Da, MH+=1757.83220 Da, Match Tol.=0.8 Da</text>
<text x="1085" y="1101.8" font-family="Liberation Serif" font-weight="bold" font-size="27.3" fill="#111" text-anchor="end">DLKKCYSVEAQSCQR</text>
<line x1="115.00" y1="1342.50" x2="115.00" y2="1341.43" stroke="#c4c4c4" stroke-width="1"/>
<line x1="117.70" y1="1342.50" x2="117.70" y2="1337.52" stroke="#c4c4c4" stroke-width="1"/>
<line x1="121.00" y1="1342.50" x2="121.00" y2="1339.50" stroke="#c4c4c4" stroke-width="1"/>
<line x1="126.40" y1="1342.50" x2="126.40" y2="1340.85" stroke="#c4c4c4" stroke-width="1"/>
<line x1="131.10" y1="1342.50" x2="131.10" y2="1341.52" stroke="#c4c4c4" stroke-width="1"/>
<line x1="133.50" y1="1342.50" x2="133.50" y2="1340.11" stroke="#c4c4c4" stroke-width="1"/>
<line x1="137.00" y1="1342.50" x2="137.00" y2="1340.98" stroke="#c4c4c4" stroke-width="1"/>
<line x1="141.00" y1="1342.50" x2="141.00" y2="1341.72" stroke="#c4c4c4" stroke-width="1"/>
<line x1="148.30" y1="1342.50" x2="148.30" y2="1341.84" stroke="#c4c4c4" stroke-width="1"/>
<line x1="152.30" y1="1342.50" x2="152.30" y2="1340.35" stroke="#c4c4c4" stroke-width="1"/>
<line x1="158.00" y1="1342.50" x2="158.00" y2="1340.76" stroke="#c4c4c4" stroke-width="1"/>
<line x1="164.80" y1="1342.50" x2="164.80" y2="1338.20" stroke="#c4c4c4" stroke-width="1"/>
<line x1="167.10" y1="1342.50" x2="167.10" y2="1339.63" stroke="#c4c4c4" stroke-width="1"/>
<line x1="170.20" y1="1342.50" x2="170.20" y2="1339.63" stroke="#c4c4c4" stroke-width="1"/>
<line x1="176.00" y1="1342.50" x2="176.00" y2="1339.80" stroke="#c4c4c4" stroke-width="1"/>
<line x1="179.90" y1="1342.50" x2="179.90" y2="1336.57" stroke="#c4c4c4" stroke-width="1"/>
<line x1="186.00" y1="1342.50" x2="186.00" y2="1341.76" stroke="#c4c4c4" stroke-width="1"/>
<line x1="191.80" y1="1342.50" x2="191.80" y2="1339.63" stroke="#c4c4c4" stroke-width="1"/>
<line x1="196.40" y1="1342.50" x2="196.40" y2="1341.51" stroke="#c4c4c4" stroke-width="1"/>
<line x1="201.30" y1="1342.50" x2="201.30" y2="1338.60" stroke="#c4c4c4" stroke-width="1"/>
<line x1="208.10" y1="1342.50" x2="208.10" y2="1340.73" stroke="#c4c4c4" stroke-width="1"/>
<line x1="211.30" y1="1342.50" x2="211.30" y2="1340.06" stroke="#c4c4c4" stroke-width="1"/>
<line x1="215.10" y1="1342.50" x2="215.10" y2="1341.33" stroke="#c4c4c4" stroke-width="1"/>
<line x1="219.10" y1="1342.50" x2="219.10" y2="1339.91" stroke="#c4c4c4" stroke-width="1"/>
<line x1="222.00" y1="1342.50" x2="222.00" y2="1341.01" stroke="#c4c4c4" stroke-width="1"/>
<line x1="227.60" y1="1342.50" x2="227.60" y2="1339.56" stroke="#c4c4c4" stroke-width="1"/>
<line x1="233.70" y1="1342.50" x2="233.70" y2="1339.75" stroke="#c4c4c4" stroke-width="1"/>
<line x1="239.70" y1="1342.50" x2="239.70" y2="1341.15" stroke="#c4c4c4" stroke-width="1"/>
<line x1="244.10" y1="1342.50" x2="244.10" y2="1341.42" stroke="#c4c4c4" stroke-width="1"/>
<line x1="248.40" y1="1342.50" x2="248.40" y2="1340.96" stroke="#c4c4c4" stroke-width="1"/>
<line x1="252.00" y1="1342.50" x2="252.00" y2="1340.88" stroke="#c4c4c4" stroke-width="1"/>
<line x1="254.50" y1="1342.50" x2="254.50" y2="1340.70" stroke="#c4c4c4" stroke-width="1"/>
<line x1="260.90" y1="1342.50" x2="260.90" y2="1340.74" stroke="#c4c4c4" stroke-width="1"/>
<line x1="268.10" y1="1342.50" x2="268.10" y2="1341.05" stroke="#c4c4c4" stroke-width="1"/>
<line x1="270.80" y1="1342.50" x2="270.80" y2="1341.03" stroke="#c4c4c4" stroke-width="1"/>
<line x1="276.80" y1="1342.50" x2="276.80" y2="1341.12" stroke="#c4c4c4" stroke-width="1"/>
<line x1="278.80" y1="1342.50" x2="278.80" y2="1339.91" stroke="#c4c4c4" stroke-width="1"/>
<line x1="285.50" y1="1342.50" x2="285.50" y2="1341.92" stroke="#c4c4c4" stroke-width="1"/>
<line x1="291.50" y1="1342.50" x2="291.50" y2="1339.52" stroke="#c4c4c4" stroke-width="1"/>
<line x1="294.50" y1="1342.50" x2="294.50" y2="1339.58" stroke="#c4c4c4" stroke-width="1"/>
<line x1="296.90" y1="1342.50" x2="296.90" y2="1340.49" stroke="#c4c4c4" stroke-width="1"/>
<line x1="301.40" y1="1342.50" x2="301.40" y2="1340.55" stroke="#c4c4c4" stroke-width="1"/>
<line x1="306.50" y1="1342.50" x2="306.50" y2="1338.91" stroke="#c4c4c4" stroke-width="1"/>
<line x1="310.90" y1="1342.50" x2="310.90" y2="1340.19" stroke="#c4c4c4" stroke-width="1"/>
<line x1="315.40" y1="1342.50" x2="315.40" y2="1341.02" stroke="#c4c4c4" stroke-width="1"/>
<line x1="318.60" y1="1342.50" x2="318.60" y2="1341.51" stroke="#c4c4c4" stroke-width="1"/>
<line x1="321.20" y1="1342.50" x2="321.20" y2="1340.19" stroke="#c4c4c4" stroke-width="1"/>
<line x1="326.40" y1="1342.50" x2="326.40" y2="1341.94" stroke="#c4c4c4" stroke-width="1"/>
<line x1="330.70" y1="1342.50" x2="330.70" y2="1341.77" stroke="#c4c4c4" stroke-width="1"/>
<line x1="336.80" y1="1342.50" x2="336.80" y2="1340.74" stroke="#c4c4c4" stroke-width="1"/>
<line x1="339.80" y1="1342.50" x2="339.80" y2="1341.43" stroke="#c4c4c4" stroke-width="1"/>
<line x1="345.80" y1="1342.50" x2="345.80" y2="1337.84" stroke="#c4c4c4" stroke-width="1"/>
<line x1="351.10" y1="1342.50" x2="351.10" y2="1339.73" stroke="#c4c4c4" stroke-width="1"/>
<line x1="358.00" y1="1342.50" x2="358.00" y2="1339.55" stroke="#c4c4c4" stroke-width="1"/>
<line x1="361.60" y1="1342.50" x2="361.60" y2="1340.63" stroke="#c4c4c4" stroke-width="1"/>
<line x1="365.60" y1="1342.50" x2="365.60" y2="1339.65" stroke="#c4c4c4" stroke-width="1"/>
<line x1="370.30" y1="1342.50" x2="370.30" y2="1340.44" stroke="#c4c4c4" stroke-width="1"/>
<line x1="376.50" y1="1342.50" x2="376.50" y2="1341.26" stroke="#c4c4c4" stroke-width="1"/>
<line x1="379.60" y1="1342.50" x2="379.60" y2="1341.08" stroke="#c4c4c4" stroke-width="1"/>
<line x1="386.10" y1="1342.50" x2="386.10" y2="1341.22" stroke="#c4c4c4" stroke-width="1"/>
<line x1="391.30" y1="1342.50" x2="391.30" y2="1339.89" stroke="#c4c4c4" stroke-width="1"/>
<line x1="398.30" y1="1342.50" x2="398.30" y2="1340.18" stroke="#c4c4c4" stroke-width="1"/>
<line x1="403.60" y1="1342.50" x2="403.60" y2="1341.09" stroke="#c4c4c4" stroke-width="1"/>
<line x1="408.20" y1="1342.50" x2="408.20" y2="1340.68" stroke="#c4c4c4" stroke-width="1"/>
<line x1="411.60" y1="1342.50" x2="411.60" y2="1341.83" stroke="#c4c4c4" stroke-width="1"/>
<line x1="415.10" y1="1342.50" x2="415.10" y2="1339.09" stroke="#c4c4c4" stroke-width="1"/>
<line x1="421.50" y1="1342.50" x2="421.50" y2="1341.32" stroke="#c4c4c4" stroke-width="1"/>
<line x1="427.80" y1="1342.50" x2="427.80" y2="1340.74" stroke="#c4c4c4" stroke-width="1"/>
<line x1="434.50" y1="1342.50" x2="434.50" y2="1340.97" stroke="#c4c4c4" stroke-width="1"/>
<line x1="441.70" y1="1342.50" x2="441.70" y2="1340.02" stroke="#c4c4c4" stroke-width="1"/>
<line x1="445.00" y1="1342.50" x2="445.00" y2="1339.97" stroke="#c4c4c4" stroke-width="1"/>
<line x1="451.40" y1="1342.50" x2="451.40" y2="1341.08" stroke="#c4c4c4" stroke-width="1"/>
<line x1="457.60" y1="1342.50" x2="457.60" y2="1341.03" stroke="#c4c4c4" stroke-width="1"/>
<line x1="463.80" y1="1342.50" x2="463.80" y2="1339.52" stroke="#c4c4c4" stroke-width="1"/>
<line x1="470.00" y1="1342.50" x2="470.00" y2="1341.66" stroke="#c4c4c4" stroke-width="1"/>
<line x1="475.70" y1="1342.50" x2="475.70" y2="1341.78" stroke="#c4c4c4" stroke-width="1"/>
<line x1="482.30" y1="1342.50" x2="482.30" y2="1339.74" stroke="#c4c4c4" stroke-width="1"/>
<line x1="484.80" y1="1342.50" x2="484.80" y2="1340.48" stroke="#c4c4c4" stroke-width="1"/>
<line x1="490.30" y1="1342.50" x2="490.30" y2="1339.64" stroke="#c4c4c4" stroke-width="1"/>
<line x1="497.20" y1="1342.50" x2="497.20" y2="1339.85" stroke="#c4c4c4" stroke-width="1"/>
<line x1="501.10" y1="1342.50" x2="501.10" y2="1339.93" stroke="#c4c4c4" stroke-width="1"/>
<line x1="507.00" y1="1342.50" x2="507.00" y2="1340.50" stroke="#c4c4c4" stroke-width="1"/>
<line x1="510.60" y1="1342.50" x2="510.60" y2="1341.11" stroke="#c4c4c4" stroke-width="1"/>
<line x1="515.30" y1="1342.50" x2="515.30" y2="1341.72" stroke="#c4c4c4" stroke-width="1"/>
<line x1="519.20" y1="1342.50" x2="519.20" y2="1341.60" stroke="#c4c4c4" stroke-width="1"/>
<line x1="523.30" y1="1342.50" x2="523.30" y2="1340.92" stroke="#c4c4c4" stroke-width="1"/>
<line x1="525.80" y1="1342.50" x2="525.80" y2="1341.44" stroke="#c4c4c4" stroke-width="1"/>
<line x1="528.70" y1="1342.50" x2="528.70" y2="1337.28" stroke="#c4c4c4" stroke-width="1"/>
<line x1="531.00" y1="1342.50" x2="531.00" y2="1340.61" stroke="#c4c4c4" stroke-width="1"/>
<line x1="537.40" y1="1342.50" x2="537.40" y2="1340.60" stroke="#c4c4c4" stroke-width="1"/>
<line x1="544.10" y1="1342.50" x2="544.10" y2="1340.16" stroke="#c4c4c4" stroke-width="1"/>
<line x1="549.10" y1="1342.50" x2="549.10" y2="1339.66" stroke="#c4c4c4" stroke-width="1"/>
<line x1="556.10" y1="1342.50" x2="556.10" y2="1341.67" stroke="#c4c4c4" stroke-width="1"/>
<line x1="560.30" y1="1342.50" x2="560.30" y2="1341.58" stroke="#c4c4c4" stroke-width="1"/>
<line x1="562.60" y1="1342.50" x2="562.60" y2="1339.78" stroke="#c4c4c4" stroke-width="1"/>
<line x1="567.90" y1="1342.50" x2="567.90" y2="1340.96" stroke="#c4c4c4" stroke-width="1"/>
<line x1="572.90" y1="1342.50" x2="572.90" y2="1339.76" stroke="#c4c4c4" stroke-width="1"/>
<line x1="578.60" y1="1342.50" x2="578.60" y2="1339.54" stroke="#c4c4c4" stroke-width="1"/>
<line x1="582.60" y1="1342.50" x2="582.60" y2="1339.89" stroke="#c4c4c4" stroke-width="1"/>
<line x1="586.20" y1="1342.50" x2="586.20" y2="1340.30" stroke="#c4c4c4" stroke-width="1"/>
<line x1="588.90" y1="1342.50" x2="588.90" y2="1339.91" stroke="#c4c4c4" stroke-width="1"/>
<line x1="596.10" y1="1342.50" x2="596.10" y2="1340.67" stroke="#c4c4c4" stroke-width="1"/>
<line x1="599.60" y1="1342.50" x2="599.60" y2="1341.46" stroke="#c4c4c4" stroke-width="1"/>
<line x1="605.70" y1="1342.50" x2="605.70" y2="1339.94" stroke="#c4c4c4" stroke-width="1"/>
<line x1="608.40" y1="1342.50" x2="608.40" y2="1339.23" stroke="#c4c4c4" stroke-width="1"/>
<line x1="612.40" y1="1342.50" x2="612.40" y2="1339.64" stroke="#c4c4c4" stroke-width="1"/>
<line x1="618.10" y1="1342.50" x2="618.10" y2="1337.98" stroke="#c4c4c4" stroke-width="1"/>
<line x1="623.80" y1="1342.50" x2="623.80" y2="1341.80" stroke="#c4c4c4" stroke-width="1"/>
<line x1="628.90" y1="1342.50" x2="628.90" y2="1341.68" stroke="#c4c4c4" stroke-width="1"/>
<line x1="633.10" y1="1342.50" x2="633.10" y2="1340.42" stroke="#c4c4c4" stroke-width="1"/>
<line x1="635.70" y1="1342.50" x2="635.70" y2="1335.91" stroke="#c4c4c4" stroke-width="1"/>
<line x1="640.90" y1="1342.50" x2="640.90" y2="1340.36" stroke="#c4c4c4" stroke-width="1"/>
<line x1="644.80" y1="1342.50" x2="644.80" y2="1339.63" stroke="#c4c4c4" stroke-width="1"/>
<line x1="649.40" y1="1342.50" x2="649.40" y2="1341.58" stroke="#c4c4c4" stroke-width="1"/>
<line x1="653.30" y1="1342.50" x2="653.30" y2="1341.13" stroke="#c4c4c4" stroke-width="1"/>
<line x1="659.60" y1="1342.50" x2="659.60" y2="1341.06" stroke="#c4c4c4" stroke-width="1"/>
<line x1="661.80" y1="1342.50" x2="661.80" y2="1341.65" stroke="#c4c4c4" stroke-width="1"/>
<line x1="668.60" y1="1342.50" x2="668.60" y2="1339.68" stroke="#c4c4c4" stroke-width="1"/>
<line x1="671.80" y1="1342.50" x2="671.80" y2="1341.10" stroke="#c4c4c4" stroke-width="1"/>
<line x1="676.80" y1="1342.50" x2="676.80" y2="1341.25" stroke="#c4c4c4" stroke-width="1"/>
<line x1="683.00" y1="1342.50" x2="683.00" y2="1340.04" stroke="#c4c4c4" stroke-width="1"/>
<line x1="688.10" y1="1342.50" x2="688.10" y2="1341.35" stroke="#c4c4c4" stroke-width="1"/>
<line x1="691.70" y1="1342.50" x2="691.70" y2="1339.85" stroke="#c4c4c4" stroke-width="1"/>
<line x1="697.00" y1="1342.50" x2="697.00" y2="1340.75" stroke="#c4c4c4" stroke-width="1"/>
<line x1="700.90" y1="1342.50" x2="700.90" y2="1340.55" stroke="#c4c4c4" stroke-width="1"/>
<line x1="704.80" y1="1342.50" x2="704.80" y2="1340.50" stroke="#c4c4c4" stroke-width="1"/>
<line x1="709.30" y1="1342.50" x2="709.30" y2="1341.04" stroke="#c4c4c4" stroke-width="1"/>
<line x1="715.10" y1="1342.50" x2="715.10" y2="1340.44" stroke="#c4c4c4" stroke-width="1"/>
<line x1="721.50" y1="1342.50" x2="721.50" y2="1341.78" stroke="#c4c4c4" stroke-width="1"/>
<line x1="727.50" y1="1342.50" x2="727.50" y2="1341.46" stroke="#c4c4c4" stroke-width="1"/>
<line x1="730.90" y1="1342.50" x2="730.90" y2="1339.80" stroke="#c4c4c4" stroke-width="1"/>
<line x1="733.50" y1="1342.50" x2="733.50" y2="1341.91" stroke="#c4c4c4" stroke-width="1"/>
<line x1="736.60" y1="1342.50" x2="736.60" y2="1341.21" stroke="#c4c4c4" stroke-width="1"/>
<line x1="742.50" y1="1342.50" x2="742.50" y2="1340.16" stroke="#c4c4c4" stroke-width="1"/>
<line x1="747.90" y1="1342.50" x2="747.90" y2="1341.97" stroke="#c4c4c4" stroke-width="1"/>
<line x1="751.70" y1="1342.50" x2="751.70" y2="1339.86" stroke="#c4c4c4" stroke-width="1"/>
<line x1="758.60" y1="1342.50" x2="758.60" y2="1342.00" stroke="#c4c4c4" stroke-width="1"/>
<line x1="761.10" y1="1342.50" x2="761.10" y2="1340.72" stroke="#c4c4c4" stroke-width="1"/>
<line x1="768.30" y1="1342.50" x2="768.30" y2="1340.21" stroke="#c4c4c4" stroke-width="1"/>
<line x1="775.20" y1="1342.50" x2="775.20" y2="1339.06" stroke="#c4c4c4" stroke-width="1"/>
<line x1="777.90" y1="1342.50" x2="777.90" y2="1340.23" stroke="#c4c4c4" stroke-width="1"/>
<line x1="783.50" y1="1342.50" x2="783.50" y2="1341.13" stroke="#c4c4c4" stroke-width="1"/>
<line x1="789.00" y1="1342.50" x2="789.00" y2="1341.37" stroke="#c4c4c4" stroke-width="1"/>
<line x1="792.10" y1="1342.50" x2="792.10" y2="1341.25" stroke="#c4c4c4" stroke-width="1"/>
<line x1="796.70" y1="1342.50" x2="796.70" y2="1340.26" stroke="#c4c4c4" stroke-width="1"/>
<line x1="800.80" y1="1342.50" x2="800.80" y2="1340.27" stroke="#c4c4c4" stroke-width="1"/>
<line x1="805.60" y1="1342.50" x2="805.60" y2="1340.49" stroke="#c4c4c4" stroke-width="1"/>
<line x1="808.70" y1="1342.50" x2="808.70" y2="1340.27" stroke="#c4c4c4" stroke-width="1"/>
<line x1="811.70" y1="1342.50" x2="811.70" y2="1339.98" stroke="#c4c4c4" stroke-width="1"/>
<line x1="818.30" y1="1342.50" x2="818.30" y2="1340.05" stroke="#c4c4c4" stroke-width="1"/>
<line x1="824.10" y1="1342.50" x2="824.10" y2="1341.21" stroke="#c4c4c4" stroke-width="1"/>
<line x1="826.60" y1="1342.50" x2="826.60" y2="1341.14" stroke="#c4c4c4" stroke-width="1"/>
<line x1="833.30" y1="1342.50" x2="833.30" y2="1340.29" stroke="#c4c4c4" stroke-width="1"/>
<line x1="839.90" y1="1342.50" x2="839.90" y2="1339.57" stroke="#c4c4c4" stroke-width="1"/>
<line x1="845.20" y1="1342.50" x2="845.20" y2="1340.83" stroke="#c4c4c4" stroke-width="1"/>
<line x1="851.50" y1="1342.50" x2="851.50" y2="1340.47" stroke="#c4c4c4" stroke-width="1"/>
<line x1="854.70" y1="1342.50" x2="854.70" y2="1341.45" stroke="#c4c4c4" stroke-width="1"/>
<line x1="859.90" y1="1342.50" x2="859.90" y2="1341.50" stroke="#c4c4c4" stroke-width="1"/>
<line x1="864.90" y1="1342.50" x2="864.90" y2="1341.33" stroke="#c4c4c4" stroke-width="1"/>
<line x1="872.20" y1="1342.50" x2="872.20" y2="1341.65" stroke="#c4c4c4" stroke-width="1"/>
<line x1="877.40" y1="1342.50" x2="877.40" y2="1339.90" stroke="#c4c4c4" stroke-width="1"/>
<line x1="881.50" y1="1342.50" x2="881.50" y2="1337.17" stroke="#c4c4c4" stroke-width="1"/>
<line x1="885.60" y1="1342.50" x2="885.60" y2="1339.86" stroke="#c4c4c4" stroke-width="1"/>
<line x1="890.00" y1="1342.50" x2="890.00" y2="1340.50" stroke="#c4c4c4" stroke-width="1"/>
<line x1="894.90" y1="1342.50" x2="894.90" y2="1339.79" stroke="#c4c4c4" stroke-width="1"/>
<line x1="897.90" y1="1342.50" x2="897.90" y2="1340.11" stroke="#c4c4c4" stroke-width="1"/>
<line x1="903.20" y1="1342.50" x2="903.20" y2="1340.75" stroke="#c4c4c4" stroke-width="1"/>
<line x1="907.80" y1="1342.50" x2="907.80" y2="1340.55" stroke="#c4c4c4" stroke-width="1"/>
<line x1="910.40" y1="1342.50" x2="910.40" y2="1339.50" stroke="#c4c4c4" stroke-width="1"/>
<line x1="915.30" y1="1342.50" x2="915.30" y2="1341.50" stroke="#c4c4c4" stroke-width="1"/>
<line x1="917.70" y1="1342.50" x2="917.70" y2="1341.16" stroke="#c4c4c4" stroke-width="1"/>
<line x1="921.40" y1="1342.50" x2="921.40" y2="1340.78" stroke="#c4c4c4" stroke-width="1"/>
<line x1="926.00" y1="1342.50" x2="926.00" y2="1340.01" stroke="#c4c4c4" stroke-width="1"/>
<line x1="933.20" y1="1342.50" x2="933.20" y2="1339.62" stroke="#c4c4c4" stroke-width="1"/>
<line x1="937.70" y1="1342.50" x2="937.70" y2="1340.09" stroke="#c4c4c4" stroke-width="1"/>
<line x1="942.50" y1="1342.50" x2="942.50" y2="1340.33" stroke="#c4c4c4" stroke-width="1"/>
<line x1="947.30" y1="1342.50" x2="947.30" y2="1340.73" stroke="#c4c4c4" stroke-width="1"/>
<line x1="951.70" y1="1342.50" x2="951.70" y2="1340.81" stroke="#c4c4c4" stroke-width="1"/>
<line x1="954.50" y1="1342.50" x2="954.50" y2="1341.71" stroke="#c4c4c4" stroke-width="1"/>
<line x1="959.20" y1="1342.50" x2="959.20" y2="1340.26" stroke="#c4c4c4" stroke-width="1"/>
<line x1="965.20" y1="1342.50" x2="965.20" y2="1340.58" stroke="#c4c4c4" stroke-width="1"/>
<line x1="970.50" y1="1342.50" x2="970.50" y2="1340.88" stroke="#c4c4c4" stroke-width="1"/>
<line x1="973.30" y1="1342.50" x2="973.30" y2="1340.02" stroke="#c4c4c4" stroke-width="1"/>
<line x1="977.30" y1="1342.50" x2="977.30" y2="1340.68" stroke="#c4c4c4" stroke-width="1"/>
<line x1="982.50" y1="1342.50" x2="982.50" y2="1341.31" stroke="#c4c4c4" stroke-width="1"/>
<line x1="987.40" y1="1342.50" x2="987.40" y2="1340.21" stroke="#c4c4c4" stroke-width="1"/>
<line x1="991.80" y1="1342.50" x2="991.80" y2="1340.25" stroke="#c4c4c4" stroke-width="1"/>
<line x1="996.70" y1="1342.50" x2="996.70" y2="1340.37" stroke="#c4c4c4" stroke-width="1"/>
<line x1="1000.30" y1="1342.50" x2="1000.30" y2="1340.40" stroke="#c4c4c4" stroke-width="1"/>
<line x1="1002.90" y1="1342.50" x2="1002.90" y2="1341.54" stroke="#c4c4c4" stroke-width="1"/>
<line x1="1007.90" y1="1342.50" x2="1007.90" y2="1340.23" stroke="#c4c4c4" stroke-width="1"/>
<line x1="1014.00" y1="1342.50" x2="1014.00" y2="1341.93" stroke="#c4c4c4" stroke-width="1"/>
<line x1="1016.70" y1="1342.50" x2="1016.70" y2="1340.71" stroke="#c4c4c4" stroke-width="1"/>
<line x1="1021.80" y1="1342.50" x2="1021.80" y2="1340.89" stroke="#c4c4c4" stroke-width="1"/>
<line x1="1025.50" y1="1342.50" x2="1025.50" y2="1341.73" stroke="#c4c4c4" stroke-width="1"/>
<line x1="1030.10" y1="1342.50" x2="1030.10" y2="1338.28" stroke="#c4c4c4" stroke-width="1"/>
<line x1="1036.60" y1="1342.50" x2="1036.60" y2="1341.25" stroke="#c4c4c4" stroke-width="1"/>
<line x1="1041.00" y1="1342.50" x2="1041.00" y2="1341.17" stroke="#c4c4c4" stroke-width="1"/>
<line x1="1046.70" y1="1342.50" x2="1046.70" y2="1340.51" stroke="#c4c4c4" stroke-width="1"/>
<line x1="1051.20" y1="1342.50" x2="1051.20" y2="1340.31" stroke="#c4c4c4" stroke-width="1"/>
<line x1="1053.90" y1="1342.50" x2="1053.90" y2="1341.81" stroke="#c4c4c4" stroke-width="1"/>
<line x1="1058.30" y1="1342.50" x2="1058.30" y2="1341.31" stroke="#c4c4c4" stroke-width="1"/>
<line x1="1063.80" y1="1342.50" x2="1063.80" y2="1336.34" stroke="#c4c4c4" stroke-width="1"/>
<line x1="1070.90" y1="1342.50" x2="1070.90" y2="1342.00" stroke="#c4c4c4" stroke-width="1"/>
<line x1="1078.20" y1="1342.50" x2="1078.20" y2="1341.09" stroke="#c4c4c4" stroke-width="1"/>
<line x1="1082.90" y1="1342.50" x2="1082.90" y2="1340.59" stroke="#c4c4c4" stroke-width="1"/>
<line x1="420.60" y1="1342.50" x2="420.60" y2="1181.50" stroke="#c25a62" stroke-width="1.5"/>
<line x1="414.80" y1="1342.50" x2="414.80" y2="1327.30" stroke="#c25a62" stroke-width="1.3"/>
<line x1="412.50" y1="1342.50" x2="412.50" y2="1330.00" stroke="#c25a62" stroke-width="1.3"/>
<line x1="499.50" y1="1342.50" x2="499.50" y2="1297.60" stroke="#c4c4c4" stroke-width="1.3"/>
<line x1="511.20" y1="1342.50" x2="511.20" y2="1296.40" stroke="#c4c4c4" stroke-width="1.3"/>
<line x1="511.60" y1="1342.50" x2="511.60" y2="1322.00" stroke="#4f9a55" stroke-width="1.5"/>
<line x1="506.50" y1="1342.50" x2="506.50" y2="1326.60" stroke="#4f9a55" stroke-width="1.5"/>
<line x1="510.00" y1="1342.50" x2="510.00" y2="1327.00" stroke="#4f9a55" stroke-width="1.3"/>
<line x1="566.20" y1="1342.50" x2="566.20" y2="1314.50" stroke="#c4c4c4" stroke-width="1.3"/>
<line x1="477.50" y1="1342.50" x2="477.50" y2="1330.00" stroke="#c4c4c4" stroke-width="1.3"/>
<line x1="255.40" y1="1342.50" x2="255.40" y2="1307.00" stroke="#c4c4c4" stroke-width="1.3"/>
<line x1="264.70" y1="1342.50" x2="264.70" y2="1303.60" stroke="#c4c4c4" stroke-width="1.3"/>
<line x1="244.70" y1="1342.50" x2="244.70" y2="1334.40" stroke="#c4c4c4" stroke-width="1.3"/>
<line x1="704.80" y1="1342.50" x2="704.80" y2="1314.50" stroke="#c4c4c4" stroke-width="1.3"/>
<line x1="716.00" y1="1342.50" x2="716.00" y2="1330.80" stroke="#c4c4c4" stroke-width="1.3"/>
<line x1="778.50" y1="1342.50" x2="778.50" y2="1277.80" stroke="#c4c4c4" stroke-width="1.3"/>
<line x1="971.00" y1="1342.50" x2="971.00" y2="1326.30" stroke="#c25a62" stroke-width="1.5"/>
<line x1="99.20" y1="1126.30" x2="99.20" y2="1343.00" stroke="#505050" stroke-width="1.4"/>
<line x1="95.20" y1="1342.50" x2="99.20" y2="1342.50" stroke="#505050" stroke-width="1.1"/>
<line x1="97.00" y1="1332.69" x2="99.20" y2="1332.69" stroke="#505050" stroke-width="1"/>
<line x1="97.00" y1="1322.87" x2="99.20" y2="1322.87" stroke="#505050" stroke-width="1"/>
<line x1="97.00" y1="1313.06" x2="99.20" y2="1313.06" stroke="#505050" stroke-width="1"/>
<line x1="97.00" y1="1303.24" x2="99.20" y2="1303.24" stroke="#505050" stroke-width="1"/>
<line x1="95.20" y1="1293.43" x2="99.20" y2="1293.43" stroke="#505050" stroke-width="1.1"/>
<line x1="97.00" y1="1283.62" x2="99.20" y2="1283.62" stroke="#505050" stroke-width="1"/>
<line x1="97.00" y1="1273.80" x2="99.20" y2="1273.80" stroke="#505050" stroke-width="1"/>
<line x1="97.00" y1="1263.99" x2="99.20" y2="1263.99" stroke="#505050" stroke-width="1"/>
<line x1="97.00" y1="1254.17" x2="99.20" y2="1254.17" stroke="#505050" stroke-width="1"/>
<line x1="95.20" y1="1244.36" x2="99.20" y2="1244.36" stroke="#505050" stroke-width="1.1"/>
<line x1="97.00" y1="1234.55" x2="99.20" y2="1234.55" stroke="#505050" stroke-width="1"/>
<line x1="97.00" y1="1224.73" x2="99.20" y2="1224.73" stroke="#505050" stroke-width="1"/>
<line x1="97.00" y1="1214.92" x2="99.20" y2="1214.92" stroke="#505050" stroke-width="1"/>
<line x1="97.00" y1="1205.10" x2="99.20" y2="1205.10" stroke="#505050" stroke-width="1"/>
<line x1="95.20" y1="1195.29" x2="99.20" y2="1195.29" stroke="#505050" stroke-width="1.1"/>
<line x1="97.00" y1="1185.48" x2="99.20" y2="1185.48" stroke="#505050" stroke-width="1"/>
<line x1="97.00" y1="1175.66" x2="99.20" y2="1175.66" stroke="#505050" stroke-width="1"/>
<line x1="97.00" y1="1165.85" x2="99.20" y2="1165.85" stroke="#505050" stroke-width="1"/>
<line x1="97.00" y1="1156.03" x2="99.20" y2="1156.03" stroke="#505050" stroke-width="1"/>
<line x1="95.20" y1="1146.22" x2="99.20" y2="1146.22" stroke="#505050" stroke-width="1.1"/>
<line x1="97.00" y1="1136.41" x2="99.20" y2="1136.41" stroke="#505050" stroke-width="1"/>
<line x1="97.00" y1="1126.59" x2="99.20" y2="1126.59" stroke="#505050" stroke-width="1"/>
<text x="89" y="1345.40" font-family="Liberation Sans" font-size="9" fill="#444444" stroke="#444444" stroke-width="0.25" text-anchor="end">0</text>
<text x="89" y="1296.33" font-family="Liberation Sans" font-size="9" fill="#444444" stroke="#444444" stroke-width="0.25" text-anchor="end">10</text>
<text x="89" y="1247.26" font-family="Liberation Sans" font-size="9" fill="#444444" stroke="#444444" stroke-width="0.25" text-anchor="end">20</text>
<text x="89" y="1198.19" font-family="Liberation Sans" font-size="9" fill="#444444" stroke="#444444" stroke-width="0.25" text-anchor="end">30</text>
<text x="89" y="1149.12" font-family="Liberation Sans" font-size="9" fill="#444444" stroke="#444444" stroke-width="0.25" text-anchor="end">40</text>
<text transform="translate(71,1232) rotate(-90)" font-family="Liberation Sans" font-size="10.7" fill="#444444" stroke="#444444" stroke-width="0.3" text-anchor="middle">Intensity [counts] (10^3)</text>
<line x1="93.20" y1="1342.50" x2="1090.00" y2="1342.50" stroke="#505050" stroke-width="1.6"/>
<line x1="111.81" y1="1342.50" x2="111.81" y2="1345.00" stroke="#505050" stroke-width="1"/>
<line x1="144.01" y1="1342.50" x2="144.01" y2="1345.00" stroke="#505050" stroke-width="1"/>
<line x1="176.21" y1="1342.50" x2="176.21" y2="1345.00" stroke="#505050" stroke-width="1"/>
<line x1="208.40" y1="1342.50" x2="208.40" y2="1347.00" stroke="#505050" stroke-width="1"/>
<line x1="240.59" y1="1342.50" x2="240.59" y2="1345.00" stroke="#505050" stroke-width="1"/>
<line x1="272.79" y1="1342.50" x2="272.79" y2="1345.00" stroke="#505050" stroke-width="1"/>
<line x1="304.99" y1="1342.50" x2="304.99" y2="1345.00" stroke="#505050" stroke-width="1"/>
<line x1="337.18" y1="1342.50" x2="337.18" y2="1347.00" stroke="#505050" stroke-width="1"/>
<line x1="369.38" y1="1342.50" x2="369.38" y2="1345.00" stroke="#505050" stroke-width="1"/>
<line x1="401.57" y1="1342.50" x2="401.57" y2="1345.00" stroke="#505050" stroke-width="1"/>
<line x1="433.76" y1="1342.50" x2="433.76" y2="1345.00" stroke="#505050" stroke-width="1"/>
<line x1="465.96" y1="1342.50" x2="465.96" y2="1347.00" stroke="#505050" stroke-width="1"/>
<line x1="498.15" y1="1342.50" x2="498.15" y2="1345.00" stroke="#505050" stroke-width="1"/>
<line x1="530.35" y1="1342.50" x2="530.35" y2="1345.00" stroke="#505050" stroke-width="1"/>
<line x1="562.55" y1="1342.50" x2="562.55" y2="1345.00" stroke="#505050" stroke-width="1"/>
<line x1="594.74" y1="1342.50" x2="594.74" y2="1347.00" stroke="#505050" stroke-width="1"/>
<line x1="626.94" y1="1342.50" x2="626.94" y2="1345.00" stroke="#505050" stroke-width="1"/>
<line x1="659.13" y1="1342.50" x2="659.13" y2="1345.00" stroke="#505050" stroke-width="1"/>
<line x1="691.33" y1="1342.50" x2="691.33" y2="1345.00" stroke="#505050" stroke-width="1"/>
<line x1="723.52" y1="1342.50" x2="723.52" y2="1347.00" stroke="#505050" stroke-width="1"/>
<line x1="755.72" y1="1342.50" x2="755.72" y2="1345.00" stroke="#505050" stroke-width="1"/>
<line x1="787.91" y1="1342.50" x2="787.91" y2="1345.00" stroke="#505050" stroke-width="1"/>
<line x1="820.11" y1="1342.50" x2="820.11" y2="1345.00" stroke="#505050" stroke-width="1"/>
<line x1="852.30" y1="1342.50" x2="852.30" y2="1347.00" stroke="#505050" stroke-width="1"/>
<line x1="884.50" y1="1342.50" x2="884.50" y2="1345.00" stroke="#505050" stroke-width="1"/>
<line x1="916.69" y1="1342.50" x2="916.69" y2="1345.00" stroke="#505050" stroke-width="1"/>
<line x1="948.88" y1="1342.50" x2="948.88" y2="1345.00" stroke="#505050" stroke-width="1"/>
<line x1="981.08" y1="1342.50" x2="981.08" y2="1347.00" stroke="#505050" stroke-width="1"/>
<line x1="1013.27" y1="1342.50" x2="1013.27" y2="1345.00" stroke="#505050" stroke-width="1"/>
<line x1="1045.47" y1="1342.50" x2="1045.47" y2="1345.00" stroke="#505050" stroke-width="1"/>
<line x1="1077.66" y1="1342.50" x2="1077.66" y2="1345.00" stroke="#505050" stroke-width="1"/>
<text x="208.40" y="1359.50" font-family="Liberation Sans" font-size="9" fill="#444444" stroke="#444444" stroke-width="0.25" text-anchor="middle">400</text>
<text x="337.18" y="1359.50" font-family="Liberation Sans" font-size="9" fill="#444444" stroke="#444444" stroke-width="0.25" text-anchor="middle">600</text>
<text x="465.96" y="1359.50" font-family="Liberation Sans" font-size="9" fill="#444444" stroke="#444444" stroke-width="0.25" text-anchor="middle">800</text>
<text x="594.74" y="1359.50" font-family="Liberation Sans" font-size="9" fill="#444444" stroke="#444444" stroke-width="0.25" text-anchor="middle">1000</text>
<text x="723.52" y="1359.50" font-family="Liberation Sans" font-size="9" fill="#444444" stroke="#444444" stroke-width="0.25" text-anchor="middle">1200</text>
<text x="852.30" y="1359.50" font-family="Liberation Sans" font-size="9" fill="#444444" stroke="#444444" stroke-width="0.25" text-anchor="middle">1400</text>
<text x="981.08" y="1359.50" font-family="Liberation Sans" font-size="9" fill="#444444" stroke="#444444" stroke-width="0.25" text-anchor="middle">1600</text>
<text x="594" y="1376.9" font-family="Liberation Sans" font-size="11.5" fill="#444444" stroke="#444444" stroke-width="0.25" text-anchor="middle">m/z</text>
<text x="419" y="1151.3" fill="#c04a50" stroke="#c04a50" stroke-width="0.25" font-family="Liberation Serif" font-size="13" text-anchor="middle" letter-spacing="0.45"><tspan>b</tspan><tspan dy="1.56" font-size="6.8">13</tspan><tspan dy="-5.07" font-size="6.8">2+</tspan></text>
<text x="419" y="1168.3" fill="#c04a50" stroke="#c04a50" stroke-width="0.25" font-family="Liberation Serif" font-size="13" text-anchor="middle"><tspan>728.57</tspan></text>
<text x="511.5" y="1274.4" fill="#4f9a4a" stroke="#4f9a4a" stroke-width="0.25" font-family="Liberation Serif" font-size="13" text-anchor="middle" textLength="176.6" lengthAdjust="spacing"><tspan>[M+2H]</tspan><tspan dy="-3.51" font-size="6.8">2+</tspan><tspan dy="3.51">-H</tspan><tspan dy="1.56" font-size="6.8">2</tspan><tspan dy="-1.56">O, [M+2H]</tspan><tspan dy="-3.51" font-size="6.8">2+</tspan><tspan dy="3.51">-NH</tspan><tspan dy="1.56" font-size="6.8">3</tspan></text>
<text x="510" y="1290" fill="#4f9a4a" stroke="#4f9a4a" stroke-width="0.25" font-family="Liberation Serif" font-size="13" text-anchor="middle"><tspan>870.67</tspan></text>
<text x="970.5" y="1296" fill="#c04a50" stroke="#c04a50" stroke-width="0.25" font-family="Liberation Serif" font-size="13" text-anchor="middle" letter-spacing="0.45"><tspan>b</tspan><tspan dy="1.56" font-size="6.8">14</tspan><tspan dy="-5.07" font-size="6.8">+</tspan></text>
<text x="970.5" y="1313.75" fill="#c04a50" stroke="#c04a50" stroke-width="0.25" font-family="Liberation Serif" font-size="13" text-anchor="middle"><tspan>1583.69</tspan></text>
</g></svg></body></html>
